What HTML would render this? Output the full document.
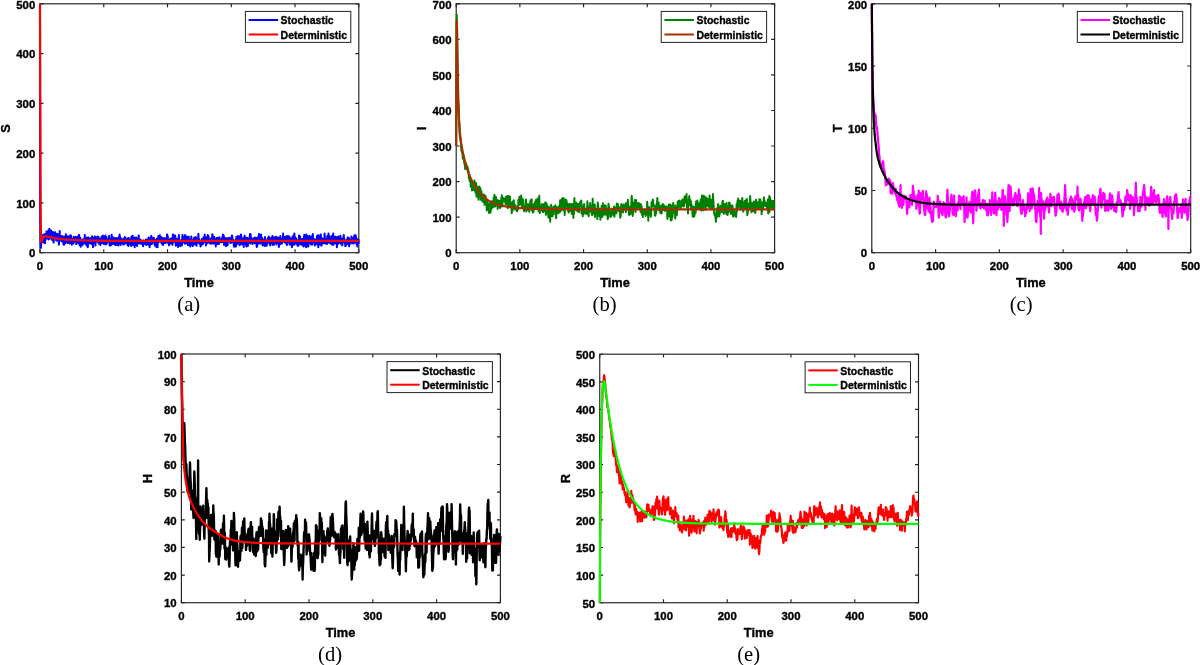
<!DOCTYPE html><html><head><meta charset="utf-8"><title>figure</title><style>html,body{margin:0;padding:0;background:#fff}svg{display:block}text{font-family:"Liberation Sans",sans-serif;fill:#000}.b{font-weight:bold;stroke:#000;stroke-width:0.35px;stroke-linejoin:round}.cap{font-family:"Liberation Serif",serif;font-weight:normal}</style></head><body><svg width="1200" height="665" viewBox="0 0 1200 665"><g style="mix-blend-mode:multiply"><rect x="0" y="0" width="1200" height="665" fill="#ffffff"/><g><rect x="40.00" y="3.80" width="318.80" height="248.90" fill="none" stroke="#222222" stroke-width="1.15"/><text class="b" x="40.00" y="269.90" font-size="11.4" text-anchor="middle">0</text><text class="b" x="103.76" y="269.90" font-size="11.4" text-anchor="middle">100</text><text class="b" x="167.52" y="269.90" font-size="11.4" text-anchor="middle">200</text><text class="b" x="231.28" y="269.90" font-size="11.4" text-anchor="middle">300</text><text class="b" x="295.04" y="269.90" font-size="11.4" text-anchor="middle">400</text><text class="b" x="358.80" y="269.90" font-size="11.4" text-anchor="middle">500</text><text class="b" x="35.30" y="257.45" font-size="11.4" text-anchor="end">0</text><text class="b" x="35.30" y="207.67" font-size="11.4" text-anchor="end">100</text><text class="b" x="35.30" y="157.89" font-size="11.4" text-anchor="end">200</text><text class="b" x="35.30" y="108.11" font-size="11.4" text-anchor="end">300</text><text class="b" x="35.30" y="58.33" font-size="11.4" text-anchor="end">400</text><text class="b" x="35.30" y="8.55" font-size="11.4" text-anchor="end">500</text><path d="M40.00 252.70v-3.40M40.00 3.80v3.40M103.76 252.70v-3.40M103.76 3.80v3.40M167.52 252.70v-3.40M167.52 3.80v3.40M231.28 252.70v-3.40M231.28 3.80v3.40M295.04 252.70v-3.40M295.04 3.80v3.40M358.80 252.70v-3.40M358.80 3.80v3.40M40.00 252.70h3.40M358.80 252.70h-3.40M40.00 202.92h3.40M358.80 202.92h-3.40M40.00 153.14h3.40M358.80 153.14h-3.40M40.00 103.36h3.40M358.80 103.36h-3.40M40.00 53.58h3.40M358.80 53.58h-3.40M40.00 3.80h3.40M358.80 3.80h-3.40" stroke="#222222" stroke-width="1.15" fill="none"/><path d="M40.0 3.8L40.2 153.1L40.4 222.8L40.6 242.7L40.8 247.2L41.0 247.7L41.1 245.7L41.3 237.7L41.5 241.7L41.7 242.3L41.9 238.9L42.1 238.0L42.3 238.0L42.5 240.6L42.7 237.9L42.9 234.8L43.1 240.5L43.3 238.3L43.4 242.6L43.6 241.1L43.8 242.5L44.0 237.1L44.2 239.6L44.4 234.7L44.6 234.2L44.8 235.2L45.0 243.2L45.2 237.7L45.4 235.2L45.5 234.2L45.7 239.7L45.9 236.9L46.1 238.2L46.3 237.8L46.5 231.4L46.7 236.8L46.9 235.0L47.1 231.7L47.3 236.1L47.5 235.2L47.7 234.3L47.8 234.4L48.0 238.8L48.2 235.1L48.4 230.3L48.6 239.5L48.8 232.7L49.0 234.3L49.2 237.1L49.4 228.7L49.6 231.6L49.8 238.8L49.9 235.6L50.1 233.5L50.3 235.8L50.5 233.3L50.7 235.5L50.9 233.4L51.1 230.6L51.3 237.3L51.5 235.4L51.7 237.4L51.9 235.8L52.1 239.9L52.2 238.6L52.4 237.1L52.6 233.4L52.8 232.1L53.0 240.0L53.2 239.5L53.4 234.8L53.6 242.6L53.8 238.9L54.0 237.2L54.2 232.7L54.3 233.8L54.5 237.3L54.7 238.0L54.9 237.8L55.1 232.2L55.3 237.5L55.5 238.0L55.7 236.0L55.9 237.3L56.1 237.7L56.3 240.7L56.5 237.7L56.6 238.7L56.8 233.8L57.0 234.8L57.2 237.0L57.4 235.3L57.6 238.2L57.8 234.3L58.0 237.1L58.2 235.7L58.4 241.3L58.6 237.1L58.7 242.8L58.9 244.7L59.1 239.7L59.3 240.8L59.5 237.8L59.7 231.1L59.9 239.4L60.1 240.0L60.3 237.7L60.5 236.5L60.7 238.3L60.8 238.7L61.0 236.1L61.2 236.3L61.4 241.0L61.6 238.9L61.8 238.2L62.0 241.4L62.2 238.0L62.4 240.8L62.6 235.9L62.8 237.5L63.0 238.0L63.1 240.1L63.3 239.1L63.5 244.5L63.7 242.8L63.9 238.2L64.1 244.8L64.3 237.1L64.5 243.5L64.7 237.2L64.9 241.0L65.1 236.8L65.2 238.1L65.4 243.2L65.6 235.9L65.8 234.3L66.0 238.4L66.2 239.6L66.4 239.5L66.6 241.9L66.8 236.3L67.0 240.2L67.2 239.4L67.4 241.4L67.5 241.2L67.7 243.1L67.9 236.2L68.1 239.2L68.3 236.5L68.5 238.8L68.7 241.2L68.9 240.5L69.1 241.1L69.3 239.6L69.5 240.4L69.6 240.4L69.8 243.4L70.0 242.3L70.2 235.2L70.4 240.7L70.6 242.6L70.8 239.0L71.0 235.5L71.2 243.0L71.4 240.7L71.6 241.5L71.8 244.8L71.9 238.4L72.1 239.5L72.3 239.4L72.5 241.7L72.7 238.8L72.9 241.1L73.1 240.3L73.3 242.9L73.5 243.6L73.7 236.7L73.9 240.8L74.0 239.2L74.2 239.9L74.4 241.1L74.6 241.5L74.8 238.4L75.0 240.5L75.2 240.5L75.4 240.0L75.6 236.8L75.8 237.7L76.0 238.6L76.2 241.4L76.3 244.1L76.5 238.1L76.7 237.2L76.9 240.1L77.1 238.7L77.3 237.8L77.5 237.6L77.7 237.3L77.9 241.0L78.1 236.2L78.3 243.0L78.4 238.3L78.6 238.6L78.8 237.7L79.0 234.8L79.2 235.4L79.4 242.7L79.6 245.2L79.8 238.8L80.0 242.8L80.2 240.7L80.4 238.1L80.6 244.4L80.7 246.7L80.9 240.6L81.1 240.3L81.3 241.0L81.5 240.4L81.7 242.7L81.9 244.8L82.1 241.5L82.3 243.2L82.5 245.2L82.7 239.8L82.8 240.5L83.0 239.3L83.2 242.9L83.4 242.6L83.6 243.4L83.8 243.3L84.0 240.3L84.2 242.5L84.4 239.8L84.6 239.4L84.8 234.9L85.0 243.3L85.1 238.5L85.3 240.4L85.5 240.5L85.7 244.4L85.9 242.3L86.1 238.8L86.3 240.5L86.5 240.3L86.7 241.2L86.9 237.5L87.1 240.1L87.2 246.3L87.4 243.2L87.6 246.2L87.8 247.2L88.0 243.4L88.2 237.4L88.4 239.9L88.6 243.6L88.8 243.5L89.0 238.0L89.2 239.8L89.4 240.3L89.5 240.7L89.7 240.5L89.9 238.4L90.1 238.8L90.3 239.7L90.5 243.2L90.7 239.6L90.9 242.3L91.1 238.0L91.3 243.6L91.5 241.4L91.6 240.8L91.8 244.1L92.0 236.6L92.2 236.2L92.4 241.2L92.6 238.7L92.8 239.3L93.0 247.3L93.2 241.0L93.4 240.9L93.6 240.5L93.7 243.5L93.9 241.8L94.1 241.3L94.3 237.6L94.5 239.3L94.7 240.5L94.9 236.6L95.1 241.5L95.3 241.8L95.5 245.6L95.7 237.3L95.9 237.7L96.0 237.8L96.2 238.5L96.4 240.1L96.6 240.0L96.8 241.3L97.0 241.3L97.2 240.7L97.4 236.7L97.6 238.7L97.8 240.6L98.0 242.2L98.1 242.6L98.3 236.8L98.5 238.8L98.7 240.3L98.9 241.6L99.1 243.8L99.3 241.4L99.5 238.5L99.7 241.4L99.9 241.4L100.1 241.4L100.3 240.6L100.4 244.9L100.6 242.0L100.8 243.2L101.0 238.8L101.2 242.5L101.4 239.5L101.6 236.6L101.8 240.9L102.0 242.3L102.2 240.5L102.4 240.7L102.5 243.3L102.7 239.9L102.9 235.4L103.1 240.6L103.3 241.3L103.5 243.6L103.7 240.3L103.9 243.9L104.1 244.1L104.3 237.9L104.5 242.7L104.7 238.2L104.8 236.4L105.0 239.4L105.2 239.1L105.4 235.4L105.6 240.5L105.8 242.3L106.0 244.5L106.2 241.2L106.4 237.0L106.6 237.7L106.8 242.7L106.9 243.3L107.1 242.4L107.3 240.2L107.5 241.2L107.7 240.3L107.9 239.9L108.1 241.4L108.3 241.0L108.5 240.2L108.7 240.9L108.9 239.5L109.1 235.7L109.2 238.4L109.4 240.3L109.6 245.1L109.8 240.4L110.0 245.8L110.2 245.2L110.4 239.2L110.6 238.7L110.8 240.8L111.0 245.2L111.2 242.4L111.3 242.8L111.5 239.4L111.7 234.7L111.9 239.3L112.1 242.6L112.3 244.1L112.5 241.4L112.7 241.3L112.9 243.8L113.1 240.9L113.3 243.8L113.5 238.3L113.6 237.6L113.8 237.5L114.0 241.5L114.2 239.5L114.4 240.9L114.6 241.8L114.8 241.8L115.0 244.3L115.2 245.1L115.4 239.3L115.6 241.0L115.7 240.2L115.9 238.1L116.1 244.9L116.3 243.4L116.5 240.7L116.7 239.7L116.9 241.6L117.1 238.2L117.3 239.8L117.5 243.8L117.7 243.6L117.9 239.1L118.0 239.3L118.2 245.5L118.4 237.9L118.6 238.8L118.8 237.0L119.0 241.2L119.2 241.6L119.4 243.8L119.6 234.6L119.8 240.3L120.0 236.5L120.1 241.8L120.3 240.5L120.5 245.1L120.7 242.4L120.9 238.4L121.1 243.7L121.3 238.4L121.5 239.5L121.7 243.3L121.9 242.4L122.1 242.2L122.3 241.1L122.4 242.2L122.6 243.1L122.8 241.9L123.0 243.6L123.2 244.5L123.4 241.4L123.6 238.6L123.8 244.4L124.0 241.3L124.2 242.5L124.4 243.6L124.5 238.9L124.7 241.8L124.9 237.0L125.1 242.2L125.3 240.0L125.5 241.2L125.7 242.8L125.9 239.5L126.1 241.0L126.3 239.2L126.5 240.6L126.6 243.6L126.8 241.4L127.0 240.7L127.2 238.2L127.4 242.7L127.6 241.2L127.8 245.3L128.0 239.7L128.2 243.4L128.4 245.9L128.6 241.7L128.8 238.0L128.9 244.3L129.1 244.1L129.3 243.2L129.5 244.1L129.7 240.3L129.9 242.8L130.1 242.9L130.3 239.6L130.5 242.5L130.7 239.9L130.9 243.2L131.0 244.3L131.2 246.1L131.4 236.7L131.6 241.0L131.8 240.2L132.0 240.7L132.2 240.3L132.4 240.6L132.6 235.7L132.8 242.7L133.0 245.1L133.2 244.0L133.3 244.7L133.5 239.4L133.7 238.4L133.9 242.9L134.1 244.7L134.3 242.3L134.5 237.4L134.7 247.3L134.9 240.4L135.1 243.5L135.3 238.5L135.4 243.2L135.6 241.9L135.8 244.8L136.0 243.9L136.2 237.6L136.4 238.1L136.6 241.4L136.8 243.1L137.0 246.0L137.2 242.6L137.4 241.1L137.6 241.0L137.7 241.0L137.9 243.7L138.1 241.4L138.3 240.9L138.5 237.4L138.7 235.4L138.9 240.3L139.1 242.7L139.3 241.2L139.5 242.4L139.7 242.9L139.8 241.2L140.0 243.5L140.2 239.6L140.4 240.8L140.6 240.1L140.8 241.1L141.0 242.7L141.2 243.5L141.4 241.8L141.6 242.3L141.8 240.4L142.0 240.7L142.1 244.3L142.3 241.1L142.5 244.3L142.7 242.9L142.9 241.8L143.1 246.3L143.3 241.4L143.5 240.4L143.7 241.1L143.9 241.9L144.1 241.9L144.2 243.5L144.4 241.9L144.6 242.4L144.8 240.8L145.0 243.9L145.2 240.6L145.4 240.4L145.6 241.1L145.8 241.9L146.0 239.5L146.2 244.9L146.4 240.2L146.5 240.0L146.7 239.9L146.9 239.6L147.1 242.3L147.3 241.7L147.5 239.2L147.7 239.4L147.9 240.0L148.1 244.6L148.3 239.9L148.5 237.6L148.6 237.6L148.8 239.7L149.0 244.7L149.2 238.9L149.4 240.9L149.6 247.3L149.8 240.8L150.0 244.6L150.2 244.7L150.4 243.0L150.6 237.8L150.8 241.3L150.9 240.1L151.1 236.1L151.3 235.9L151.5 240.3L151.7 241.3L151.9 244.1L152.1 243.1L152.3 240.0L152.5 239.6L152.7 240.3L152.9 238.1L153.0 242.4L153.2 241.1L153.4 238.9L153.6 239.0L153.8 237.7L154.0 239.3L154.2 241.3L154.4 239.9L154.6 243.2L154.8 245.4L155.0 239.9L155.2 240.8L155.3 240.0L155.5 245.1L155.7 242.4L155.9 242.6L156.1 243.3L156.3 247.0L156.5 242.6L156.7 238.7L156.9 239.4L157.1 242.1L157.3 241.0L157.4 238.8L157.6 247.3L157.8 242.1L158.0 239.5L158.2 238.8L158.4 236.0L158.6 237.1L158.8 239.4L159.0 239.8L159.2 238.6L159.4 241.8L159.6 241.0L159.7 238.4L159.9 235.3L160.1 240.4L160.3 240.8L160.5 240.2L160.7 237.2L160.9 240.3L161.1 236.9L161.3 242.7L161.5 241.5L161.7 241.4L161.8 238.8L162.0 237.7L162.2 244.2L162.4 243.7L162.6 240.3L162.8 242.4L163.0 245.0L163.2 238.7L163.4 239.2L163.6 239.2L163.8 241.8L163.9 238.2L164.1 241.0L164.3 237.9L164.5 242.7L164.7 243.3L164.9 240.6L165.1 242.6L165.3 239.3L165.5 239.9L165.7 243.0L165.9 240.9L166.1 241.7L166.2 238.5L166.4 242.1L166.6 242.1L166.8 237.8L167.0 234.5L167.2 234.6L167.4 239.7L167.6 240.0L167.8 236.6L168.0 240.5L168.2 243.3L168.3 240.8L168.5 239.6L168.7 242.7L168.9 245.3L169.1 245.2L169.3 239.7L169.5 242.6L169.7 241.4L169.9 240.3L170.1 239.1L170.3 241.4L170.5 239.5L170.6 242.9L170.8 242.0L171.0 243.6L171.2 238.2L171.4 240.4L171.6 242.6L171.8 242.0L172.0 241.5L172.2 239.0L172.4 244.7L172.6 244.0L172.7 242.2L172.9 234.4L173.1 237.3L173.3 240.5L173.5 238.9L173.7 235.1L173.9 240.5L174.1 241.7L174.3 237.7L174.5 239.0L174.7 238.7L174.9 241.8L175.0 235.9L175.2 235.6L175.4 238.5L175.6 238.6L175.8 245.7L176.0 239.8L176.2 241.1L176.4 239.7L176.6 238.8L176.8 241.4L177.0 245.3L177.1 240.5L177.3 242.6L177.5 241.9L177.7 242.5L177.9 241.9L178.1 247.0L178.3 238.5L178.5 239.8L178.7 237.7L178.9 235.1L179.1 239.9L179.3 245.3L179.4 243.8L179.6 244.4L179.8 242.6L180.0 240.8L180.2 246.0L180.4 240.6L180.6 244.7L180.8 240.6L181.0 241.0L181.2 241.6L181.4 241.1L181.5 242.2L181.7 242.6L181.9 245.4L182.1 241.5L182.3 236.1L182.5 234.9L182.7 236.4L182.9 238.3L183.1 242.1L183.3 237.2L183.5 240.4L183.7 240.9L183.8 241.5L184.0 240.6L184.2 241.9L184.4 241.1L184.6 243.6L184.8 242.2L185.0 235.0L185.2 240.1L185.4 241.3L185.6 239.4L185.8 238.7L185.9 243.4L186.1 241.7L186.3 238.5L186.5 239.7L186.7 240.3L186.9 236.6L187.1 241.9L187.3 240.7L187.5 242.1L187.7 237.1L187.9 245.3L188.1 243.2L188.2 242.5L188.4 239.3L188.6 239.0L188.8 236.8L189.0 244.3L189.2 239.3L189.4 241.3L189.6 242.6L189.8 239.6L190.0 243.0L190.2 246.5L190.3 242.6L190.5 244.9L190.7 243.1L190.9 240.1L191.1 239.8L191.3 236.5L191.5 240.6L191.7 244.7L191.9 243.3L192.1 243.5L192.3 244.3L192.5 240.2L192.6 242.3L192.8 246.1L193.0 239.7L193.2 240.9L193.4 239.8L193.6 240.3L193.8 239.0L194.0 240.4L194.2 237.5L194.4 239.2L194.6 239.5L194.7 239.5L194.9 244.4L195.1 241.7L195.3 241.6L195.5 240.3L195.7 244.2L195.9 237.0L196.1 239.9L196.3 243.8L196.5 245.7L196.7 242.2L196.8 241.2L197.0 242.7L197.2 240.8L197.4 242.4L197.6 239.6L197.8 242.5L198.0 241.1L198.2 238.3L198.4 233.7L198.6 242.3L198.8 242.2L199.0 243.2L199.1 239.1L199.3 243.5L199.5 242.4L199.7 241.1L199.9 243.4L200.1 243.6L200.3 242.4L200.5 246.5L200.7 245.4L200.9 242.5L201.1 240.6L201.2 241.2L201.4 245.5L201.6 242.7L201.8 239.0L202.0 239.0L202.2 240.7L202.4 243.1L202.6 239.5L202.8 242.1L203.0 244.0L203.2 243.3L203.4 237.4L203.5 239.7L203.7 237.6L203.9 241.5L204.1 238.4L204.3 242.0L204.5 241.3L204.7 234.4L204.9 237.8L205.1 241.6L205.3 241.1L205.5 240.0L205.6 237.5L205.8 241.5L206.0 245.4L206.2 242.2L206.4 240.9L206.6 240.5L206.8 237.3L207.0 239.4L207.2 238.4L207.4 243.3L207.6 238.9L207.8 235.0L207.9 237.9L208.1 239.7L208.3 240.2L208.5 236.0L208.7 242.5L208.9 241.3L209.1 239.6L209.3 238.6L209.5 241.6L209.7 240.1L209.9 241.4L210.0 240.5L210.2 241.1L210.4 243.8L210.6 241.3L210.8 238.5L211.0 242.9L211.2 241.7L211.4 239.2L211.6 243.3L211.8 240.7L212.0 243.5L212.2 238.2L212.3 234.3L212.5 234.5L212.7 240.4L212.9 238.8L213.1 240.1L213.3 240.4L213.5 236.7L213.7 243.6L213.9 238.4L214.1 240.5L214.3 237.0L214.4 239.7L214.6 242.4L214.8 240.3L215.0 238.8L215.2 240.4L215.4 239.4L215.6 241.9L215.8 246.5L216.0 239.3L216.2 238.7L216.4 240.1L216.6 240.5L216.7 238.0L216.9 241.5L217.1 242.7L217.3 241.5L217.5 237.8L217.7 243.9L217.9 238.1L218.1 242.0L218.3 243.8L218.5 237.9L218.7 240.6L218.8 244.1L219.0 242.2L219.2 238.5L219.4 237.3L219.6 241.4L219.8 239.8L220.0 238.7L220.2 242.1L220.4 240.0L220.6 240.7L220.8 242.1L221.0 242.2L221.1 240.8L221.3 240.7L221.5 242.2L221.7 242.1L221.9 238.0L222.1 239.8L222.3 238.3L222.5 237.2L222.7 238.7L222.9 234.5L223.1 242.0L223.2 238.8L223.4 241.3L223.6 236.0L223.8 235.6L224.0 245.1L224.2 243.9L224.4 239.5L224.6 238.5L224.8 238.5L225.0 240.6L225.2 239.5L225.4 238.9L225.5 240.7L225.7 238.1L225.9 246.2L226.1 239.9L226.3 243.3L226.5 238.6L226.7 241.0L226.9 243.1L227.1 240.1L227.3 243.0L227.5 243.5L227.6 245.2L227.8 241.5L228.0 239.6L228.2 237.9L228.4 240.7L228.6 238.0L228.8 240.3L229.0 240.9L229.2 239.3L229.4 237.8L229.6 241.2L229.7 241.5L229.9 241.3L230.1 240.6L230.3 243.1L230.5 238.4L230.7 241.4L230.9 239.7L231.1 242.7L231.3 240.1L231.5 239.6L231.7 241.7L231.9 235.6L232.0 239.0L232.2 235.9L232.4 237.5L232.6 242.0L232.8 241.9L233.0 239.8L233.2 240.4L233.4 240.6L233.6 241.5L233.8 245.6L234.0 242.1L234.1 246.7L234.3 240.7L234.5 242.6L234.7 242.9L234.9 241.6L235.1 240.2L235.3 244.4L235.5 245.9L235.7 244.3L235.9 246.6L236.1 244.2L236.3 237.1L236.4 243.0L236.6 239.4L236.8 244.1L237.0 240.5L237.2 241.5L237.4 241.0L237.6 239.3L237.8 236.0L238.0 239.5L238.2 240.2L238.4 243.2L238.5 239.6L238.7 241.2L238.9 238.7L239.1 240.6L239.3 236.2L239.5 245.2L239.7 242.2L239.9 238.7L240.1 241.4L240.3 242.9L240.5 241.8L240.7 244.5L240.8 241.0L241.0 234.4L241.2 236.8L241.4 243.1L241.6 243.4L241.8 242.2L242.0 238.4L242.2 242.5L242.4 242.8L242.6 238.8L242.8 238.2L242.9 241.3L243.1 243.8L243.3 245.2L243.5 243.3L243.7 246.9L243.9 239.7L244.1 242.2L244.3 239.7L244.5 235.7L244.7 236.9L244.9 243.2L245.1 238.8L245.2 237.4L245.4 242.2L245.6 243.5L245.8 241.4L246.0 245.0L246.2 237.6L246.4 246.5L246.6 244.5L246.8 242.0L247.0 241.5L247.2 240.4L247.3 240.0L247.5 241.2L247.7 237.9L247.9 245.9L248.1 241.5L248.3 242.7L248.5 240.7L248.7 240.2L248.9 243.0L249.1 242.8L249.3 239.0L249.5 239.6L249.6 242.4L249.8 235.7L250.0 234.0L250.2 243.5L250.4 240.4L250.6 234.2L250.8 237.7L251.0 239.7L251.2 241.1L251.4 242.2L251.6 241.5L251.7 242.3L251.9 239.0L252.1 241.5L252.3 242.0L252.5 244.1L252.7 241.4L252.9 243.2L253.1 241.6L253.3 238.2L253.5 239.4L253.7 239.2L253.9 239.6L254.0 240.4L254.2 241.0L254.4 241.6L254.6 238.9L254.8 243.3L255.0 237.6L255.2 240.2L255.4 242.6L255.6 242.3L255.8 242.8L256.0 240.6L256.1 242.6L256.3 238.1L256.5 242.4L256.7 246.9L256.9 243.6L257.1 246.4L257.3 241.7L257.5 238.1L257.7 238.7L257.9 243.9L258.1 243.2L258.3 236.5L258.4 239.3L258.6 240.5L258.8 238.0L259.0 233.9L259.2 236.3L259.4 239.7L259.6 239.7L259.8 239.0L260.0 242.1L260.2 243.7L260.4 241.1L260.5 243.3L260.7 241.3L260.9 240.6L261.1 234.6L261.3 242.1L261.5 241.3L261.7 241.3L261.9 239.7L262.1 237.9L262.3 241.6L262.5 243.0L262.6 245.4L262.8 243.9L263.0 239.8L263.2 240.5L263.4 243.4L263.6 242.1L263.8 240.9L264.0 239.5L264.2 242.1L264.4 241.6L264.6 245.6L264.8 244.5L264.9 237.1L265.1 245.9L265.3 242.4L265.5 240.4L265.7 241.7L265.9 243.0L266.1 241.2L266.3 240.8L266.5 241.0L266.7 245.7L266.9 241.9L267.0 243.2L267.2 242.5L267.4 240.4L267.6 239.0L267.8 238.2L268.0 241.7L268.2 238.5L268.4 237.3L268.6 237.3L268.8 236.6L269.0 240.5L269.2 241.2L269.3 238.7L269.5 244.0L269.7 240.7L269.9 242.1L270.1 241.9L270.3 245.5L270.5 243.8L270.7 241.3L270.9 238.5L271.1 237.8L271.3 240.5L271.4 241.2L271.6 243.0L271.8 240.0L272.0 241.3L272.2 239.3L272.4 236.0L272.6 240.1L272.8 244.6L273.0 243.6L273.2 245.0L273.4 244.5L273.6 237.9L273.7 239.7L273.9 244.6L274.1 239.6L274.3 237.3L274.5 241.2L274.7 242.6L274.9 241.9L275.1 240.2L275.3 239.0L275.5 237.4L275.7 237.1L275.8 237.1L276.0 236.7L276.2 238.4L276.4 244.4L276.6 241.6L276.8 240.1L277.0 241.6L277.2 238.5L277.4 241.4L277.6 243.3L277.8 237.4L278.0 238.5L278.1 239.8L278.3 238.2L278.5 237.6L278.7 239.4L278.9 247.0L279.1 243.4L279.3 242.3L279.5 243.6L279.7 240.7L279.9 237.6L280.1 241.5L280.2 243.8L280.4 235.9L280.6 241.2L280.8 244.0L281.0 240.6L281.2 239.6L281.4 242.4L281.6 238.9L281.8 241.8L282.0 243.3L282.2 240.7L282.4 238.7L282.5 242.1L282.7 240.1L282.9 240.9L283.1 233.6L283.3 241.5L283.5 237.3L283.7 240.4L283.9 241.0L284.1 238.9L284.3 238.1L284.5 237.1L284.6 239.3L284.8 242.1L285.0 242.4L285.2 239.7L285.4 239.1L285.6 236.9L285.8 239.1L286.0 237.7L286.2 236.3L286.4 239.7L286.6 244.5L286.8 244.4L286.9 245.0L287.1 237.2L287.3 242.4L287.5 237.8L287.7 238.8L287.9 236.0L288.1 237.4L288.3 240.5L288.5 241.2L288.7 240.6L288.9 240.3L289.0 242.1L289.2 241.0L289.4 236.6L289.6 244.6L289.8 240.7L290.0 243.1L290.2 240.6L290.4 238.5L290.6 240.6L290.8 238.7L291.0 244.6L291.2 238.4L291.3 242.0L291.5 239.3L291.7 240.1L291.9 247.3L292.1 243.7L292.3 240.6L292.5 236.7L292.7 239.4L292.9 239.9L293.1 244.3L293.3 237.6L293.4 235.6L293.6 239.9L293.8 241.2L294.0 245.0L294.2 239.1L294.4 233.6L294.6 237.8L294.8 237.0L295.0 238.8L295.2 243.0L295.4 237.6L295.6 243.5L295.7 241.7L295.9 240.2L296.1 238.4L296.3 239.3L296.5 239.5L296.7 242.6L296.9 244.4L297.1 241.1L297.3 242.7L297.5 244.5L297.7 244.6L297.8 242.6L298.0 245.9L298.2 245.0L298.4 245.7L298.6 241.0L298.8 239.7L299.0 235.4L299.2 243.9L299.4 243.0L299.6 238.7L299.8 241.0L299.9 241.6L300.1 236.4L300.3 241.0L300.5 243.8L300.7 244.6L300.9 240.5L301.1 239.9L301.3 244.2L301.5 243.8L301.7 239.8L301.9 239.1L302.1 242.2L302.2 239.3L302.4 239.0L302.6 245.1L302.8 242.2L303.0 239.9L303.2 242.1L303.4 246.5L303.6 242.4L303.8 239.0L304.0 236.4L304.2 245.8L304.3 234.7L304.5 242.8L304.7 238.6L304.9 237.2L305.1 237.7L305.3 239.9L305.5 243.7L305.7 239.6L305.9 242.4L306.1 247.3L306.3 234.4L306.5 238.0L306.6 235.6L306.8 242.4L307.0 237.2L307.2 236.1L307.4 236.0L307.6 240.1L307.8 243.8L308.0 241.7L308.2 246.6L308.4 246.1L308.6 241.3L308.7 243.4L308.9 241.6L309.1 241.2L309.3 235.8L309.5 236.6L309.7 240.3L309.9 237.5L310.1 242.3L310.3 241.9L310.5 238.5L310.7 243.7L310.9 241.9L311.0 244.4L311.2 241.0L311.4 236.5L311.6 242.1L311.8 240.4L312.0 243.0L312.2 244.1L312.4 244.5L312.6 237.5L312.8 234.1L313.0 238.5L313.1 242.3L313.3 239.1L313.5 241.4L313.7 238.8L313.9 239.7L314.1 239.9L314.3 239.0L314.5 242.0L314.7 242.0L314.9 245.4L315.1 242.6L315.3 244.7L315.4 241.7L315.6 243.4L315.8 240.9L316.0 239.6L316.2 244.3L316.4 243.4L316.6 243.6L316.8 239.2L317.0 236.1L317.2 237.8L317.4 241.2L317.5 237.0L317.7 244.1L317.9 237.3L318.1 242.0L318.3 247.3L318.5 235.0L318.7 235.8L318.9 242.7L319.1 240.6L319.3 241.3L319.5 240.6L319.7 244.6L319.8 243.1L320.0 239.9L320.2 240.0L320.4 237.5L320.6 240.1L320.8 234.5L321.0 241.7L321.2 240.2L321.4 245.7L321.6 244.8L321.8 237.9L321.9 242.8L322.1 239.7L322.3 240.8L322.5 243.5L322.7 242.1L322.9 242.3L323.1 242.3L323.3 239.0L323.5 238.8L323.7 242.0L323.9 243.3L324.1 240.4L324.2 241.0L324.4 238.1L324.6 233.6L324.8 237.5L325.0 240.3L325.2 241.1L325.4 243.0L325.6 243.5L325.8 243.8L326.0 242.2L326.2 242.1L326.3 239.0L326.5 241.5L326.7 241.4L326.9 244.0L327.1 237.0L327.3 238.9L327.5 235.8L327.7 237.9L327.9 236.4L328.1 240.8L328.3 238.9L328.5 233.6L328.6 242.8L328.8 238.0L329.0 235.9L329.2 238.9L329.4 238.5L329.6 237.1L329.8 241.9L330.0 239.8L330.2 242.9L330.4 242.9L330.6 242.7L330.7 241.4L330.9 240.5L331.1 239.5L331.3 244.3L331.5 236.0L331.7 237.0L331.9 238.2L332.1 241.3L332.3 241.1L332.5 239.3L332.7 239.4L332.8 245.0L333.0 239.4L333.2 233.6L333.4 244.5L333.6 238.7L333.8 239.5L334.0 240.9L334.2 237.1L334.4 243.4L334.6 240.7L334.8 236.8L335.0 240.7L335.1 241.9L335.3 240.6L335.5 241.9L335.7 236.8L335.9 242.6L336.1 238.7L336.3 243.8L336.5 239.4L336.7 240.8L336.9 247.3L337.1 241.8L337.2 243.8L337.4 242.4L337.6 236.9L337.8 243.2L338.0 244.0L338.2 237.4L338.4 239.9L338.6 236.5L338.8 239.2L339.0 242.9L339.2 241.3L339.4 237.5L339.5 237.7L339.7 240.3L339.9 240.6L340.1 241.0L340.3 242.3L340.5 235.8L340.7 240.0L340.9 243.7L341.1 242.5L341.3 239.1L341.5 238.8L341.6 240.8L341.8 242.6L342.0 241.0L342.2 245.3L342.4 244.9L342.6 239.2L342.8 241.8L343.0 239.9L343.2 237.4L343.4 238.5L343.6 240.4L343.8 235.0L343.9 238.1L344.1 241.3L344.3 238.9L344.5 239.4L344.7 242.8L344.9 240.9L345.1 241.2L345.3 246.1L345.5 242.0L345.7 241.7L345.9 242.1L346.0 245.4L346.2 242.4L346.4 241.1L346.6 240.5L346.8 243.8L347.0 239.5L347.2 243.8L347.4 241.8L347.6 237.4L347.8 242.1L348.0 242.3L348.2 238.1L348.3 241.4L348.5 241.6L348.7 240.3L348.9 237.9L349.1 246.2L349.3 243.8L349.5 243.9L349.7 244.1L349.9 243.5L350.1 243.4L350.3 240.3L350.4 243.1L350.6 240.8L350.8 239.7L351.0 242.5L351.2 240.7L351.4 236.4L351.6 239.2L351.8 242.2L352.0 241.1L352.2 243.3L352.4 240.4L352.6 238.4L352.7 242.6L352.9 241.6L353.1 237.9L353.3 241.7L353.5 240.4L353.7 243.4L353.9 243.3L354.1 242.5L354.3 235.3L354.5 241.0L354.7 242.2L354.8 242.4L355.0 241.4L355.2 239.1L355.4 240.0L355.6 235.3L355.8 239.4L356.0 236.8L356.2 239.4L356.4 239.0L356.6 244.3L356.8 241.6L357.0 241.1L357.1 241.4L357.3 246.5L357.5 239.3L357.7 241.5L357.9 242.0L358.1 241.6L358.3 241.5L358.5 239.8L358.7 243.9" fill="none" stroke="#0000ff" stroke-width="2" stroke-linejoin="round"/><path d="M40.0 3.8L40.0 17.3L40.1 30.6L40.1 43.6L40.1 56.2L40.2 68.5L40.2 80.5L40.2 92.1L40.3 103.4L40.3 114.5L40.3 125.8L40.4 136.9L40.4 147.6L40.4 157.8L40.4 167.2L40.5 175.7L40.5 183.0L40.5 189.5L40.6 195.7L40.6 201.6L40.6 207.0L40.7 211.9L40.7 216.2L40.7 219.9L40.8 222.8L40.8 225.3L40.8 227.6L40.9 229.6L40.9 231.5L40.9 233.1L41.0 234.5L41.0 235.8L41.0 236.8L41.1 237.7L41.1 238.6L41.1 239.4L41.1 240.2L41.2 240.8L41.2 241.3L41.2 241.6L41.3 241.7L41.3 241.7L41.3 241.7L41.4 241.7L41.4 241.7L41.4 241.7L41.5 241.7L41.5 241.6L41.5 241.6L41.6 241.6L41.6 241.6L41.6 241.5L41.7 241.5L41.7 241.5L41.7 241.4L41.8 241.3L41.8 241.3L41.8 241.2L41.8 241.1L41.9 241.0L41.9 240.9L41.9 240.7L42.0 240.6L42.0 240.5L42.0 240.4L42.1 240.3L42.1 240.1L42.1 240.0L42.2 239.9L42.2 239.8L42.2 239.8L42.3 239.7L42.3 239.6L42.3 239.5L42.4 239.4L42.4 239.4L42.4 239.3L42.5 239.2L42.5 239.1L42.5 239.0L42.6 239.0L42.6 238.9L42.6 238.8L42.6 238.7L42.7 238.7L42.7 238.6L42.7 238.5L42.8 238.5L42.8 238.4L42.8 238.3L42.9 238.3L42.9 238.2L42.9 238.2L43.0 238.1L43.0 238.0L43.0 238.0L43.1 237.9L43.1 237.9L43.1 237.8L43.2 237.8L43.2 237.8L43.2 237.7L43.3 237.7L43.3 237.7L43.3 237.6L43.3 237.6L43.4 237.5L43.4 237.5L43.4 237.5L43.5 237.4L43.5 237.4L43.5 237.4L43.6 237.3L43.6 237.3L43.6 237.2L43.7 237.2L43.7 237.2L43.7 237.1L43.8 237.1L43.8 237.1L43.8 237.0L43.9 237.0L43.9 237.0L43.9 236.9L44.0 236.9L44.0 236.9L44.0 236.8L44.0 236.8L44.1 236.8L44.1 236.8L44.1 236.7L44.2 236.7L44.2 236.7L44.2 236.7L44.3 236.6L44.3 236.6L44.3 236.6L44.4 236.6L44.4 236.5L44.4 236.5L44.5 236.5L44.5 236.5L44.5 236.5L44.6 236.4L44.6 236.4L44.6 236.4L44.7 236.4L44.7 236.4L44.7 236.4L44.8 236.3L44.8 236.3L44.8 236.3L44.8 236.3L44.9 236.3L44.9 236.3L44.9 236.3L45.0 236.3L45.0 236.3L45.0 236.3L45.1 236.3L45.1 236.3L45.1 236.3L45.2 236.3L45.2 236.3L45.2 236.3L45.3 236.3L45.3 236.3L45.3 236.3L45.4 236.3L45.4 236.3L45.4 236.3L45.5 236.3L45.5 236.3L45.5 236.3L45.5 236.3L45.6 236.3L45.6 236.3L45.6 236.3L45.7 236.3L45.7 236.3L45.7 236.3L45.8 236.3L45.8 236.3L45.8 236.3L45.9 236.3L45.9 236.3L45.9 236.3L46.0 236.3L46.0 236.3L46.0 236.3L46.1 236.3L46.1 236.4L46.1 236.4L46.2 236.4L46.2 236.4L46.2 236.4L46.2 236.4L46.3 236.4L46.3 236.4L46.3 236.4L46.4 236.4L46.4 236.4L46.4 236.4L46.5 236.4L46.5 236.4L46.5 236.4L46.6 236.4L46.6 236.4L46.6 236.4L46.7 236.4L46.7 236.4L46.7 236.5L46.8 236.5L46.8 236.5L46.8 236.5L46.9 236.5L46.9 236.5L46.9 236.5L46.9 236.5L47.0 236.5L47.0 236.5L47.0 236.5L47.1 236.5L47.1 236.5L47.1 236.5L47.2 236.5L47.2 236.5L47.2 236.5L47.3 236.6L47.3 236.6L47.3 236.6L47.4 236.6L47.4 236.6L47.4 236.6L47.5 236.6L47.5 236.6L47.5 236.6L47.6 236.6L47.6 236.6L47.6 236.6L47.7 236.6L47.7 236.6L47.7 236.6L47.7 236.6L47.8 236.6L47.8 236.6L47.8 236.7L47.9 236.7L47.9 236.7L47.9 236.7L48.0 236.7L48.0 236.7L48.0 236.7L48.1 236.7L48.1 236.7L48.1 236.7L48.2 236.7L48.2 236.7L48.2 236.7L48.3 236.7L48.3 236.7L48.3 236.7L48.4 236.8L48.4 236.8L48.4 236.8L48.4 236.8L48.5 236.8L48.5 236.8L48.5 236.8L48.6 236.8L48.6 236.8L48.6 236.8L48.7 236.8L48.7 236.8L48.7 236.8L48.8 236.8L48.8 236.8L48.8 236.9L48.9 236.9L48.9 236.9L48.9 236.9L49.0 236.9L49.0 236.9L49.0 236.9L49.1 236.9L49.1 236.9L49.1 236.9L49.1 236.9L49.2 236.9L49.2 236.9L49.2 236.9L49.3 237.0L49.3 237.0L49.3 237.0L49.4 237.0L49.4 237.0L49.4 237.0L49.5 237.0L49.5 237.0L49.5 237.0L49.6 237.0L49.9 237.1L50.2 237.2L50.5 237.3L50.8 237.3L51.2 237.4L51.5 237.5L51.8 237.6L52.1 237.6L52.4 237.7L52.8 237.8L53.1 237.8L53.4 237.9L53.7 237.9L54.0 238.0L54.3 238.0L54.7 238.1L55.0 238.2L55.3 238.2L55.6 238.3L55.9 238.3L56.3 238.4L56.6 238.4L56.9 238.5L57.2 238.5L57.5 238.5L57.9 238.6L58.2 238.6L58.5 238.7L58.8 238.7L59.1 238.8L59.4 238.8L59.8 238.8L60.1 238.9L60.4 238.9L60.7 239.0L61.0 239.0L61.4 239.0L61.7 239.1L62.0 239.1L62.3 239.2L62.6 239.2L63.0 239.2L63.3 239.3L63.6 239.3L63.9 239.3L64.2 239.4L64.5 239.4L64.9 239.4L65.2 239.5L65.5 239.5L65.8 239.5L66.1 239.6L66.5 239.6L66.8 239.6L67.1 239.6L67.4 239.7L67.7 239.7L68.1 239.7L68.4 239.7L68.7 239.8L69.0 239.8L69.3 239.8L69.6 239.8L70.0 239.8L70.3 239.9L70.6 239.9L70.9 239.9L71.2 239.9L71.6 239.9L71.9 239.9L72.2 240.0L72.5 240.0L72.8 240.0L73.2 240.0L73.5 240.0L73.8 240.1L74.1 240.1L74.4 240.1L74.7 240.1L75.1 240.1L75.4 240.1L75.7 240.1L76.0 240.2L76.3 240.2L76.7 240.2L77.0 240.2L77.3 240.2L77.6 240.2L77.9 240.2L78.3 240.3L78.6 240.3L78.9 240.3L79.2 240.3L79.5 240.3L79.8 240.3L80.2 240.3L80.5 240.3L80.8 240.3L81.1 240.4L81.4 240.4L81.8 240.4L82.1 240.4L82.4 240.4L82.7 240.4L83.0 240.4L83.4 240.4L83.7 240.4L84.0 240.4L84.3 240.4L84.6 240.5L85.0 240.5L85.3 240.5L85.6 240.5L85.9 240.5L86.2 240.5L86.5 240.5L86.9 240.5L87.2 240.5L87.5 240.5L87.8 240.5L88.1 240.5L88.5 240.5L88.8 240.5L89.1 240.6L89.4 240.6L89.7 240.6L90.1 240.6L90.4 240.6L90.7 240.6L91.0 240.6L91.3 240.6L91.6 240.6L92.0 240.6L92.3 240.6L92.6 240.6L92.9 240.6L93.2 240.6L93.6 240.6L93.9 240.7L94.2 240.7L94.5 240.7L94.8 240.7L95.2 240.7L95.5 240.7L95.8 240.7L96.1 240.7L96.4 240.7L96.7 240.7L97.1 240.7L97.4 240.7L97.7 240.7L98.0 240.7L98.3 240.7L98.7 240.7L99.0 240.7L99.3 240.7L99.6 240.7L99.9 240.7L100.3 240.7L100.6 240.7L100.9 240.7L101.2 240.7L101.5 240.7L101.8 240.7L102.2 240.7L102.5 240.8L102.8 240.8L103.1 240.8L103.4 240.8L103.8 240.8L104.1 240.8L104.4 240.8L104.7 240.8L105.0 240.8L105.4 240.8L105.7 240.8L106.0 240.8L106.3 240.8L106.6 240.8L106.9 240.8L107.3 240.8L107.6 240.8L107.9 240.8L108.2 240.8L108.5 240.8L108.9 240.8L109.2 240.8L109.5 240.8L109.8 240.8L110.1 240.8L110.5 240.8L110.8 240.8L111.1 240.8L111.4 240.8L111.7 240.8L112.0 240.8L112.4 240.8L112.7 240.8L113.0 240.8L113.3 240.8L113.6 240.8L114.0 240.8L114.3 240.8L114.6 240.8L114.9 240.8L115.2 240.8L115.6 240.8L115.9 240.8L116.2 240.8L116.5 240.8L116.8 240.8L117.1 240.8L117.5 240.8L117.8 240.8L118.1 240.8L118.4 240.8L118.7 240.8L119.1 240.8L119.4 240.8L119.7 240.8L120.0 240.8L120.3 240.8L120.7 240.8L121.0 240.8L121.3 240.8L121.6 240.8L121.9 240.8L122.3 240.8L122.6 240.8L122.9 240.8L123.2 240.8L123.5 240.8L123.8 240.8L124.2 240.8L124.5 240.8L124.8 240.8L125.1 240.8L125.4 240.8L125.8 240.8L126.1 240.8L126.4 240.8L126.7 240.8L127.0 240.8L127.4 240.8L127.7 240.8L128.0 240.8L128.3 240.8L128.6 240.8L128.9 240.8L129.3 240.8L129.6 240.8L129.9 240.8L130.2 240.8L130.5 240.8L130.9 240.8L131.2 240.8L131.5 240.8L131.8 240.8L132.1 240.8L132.5 240.8L132.8 240.8L133.1 240.8L133.4 240.8L133.7 240.8L134.0 240.8L134.4 240.8L134.7 240.8L135.0 240.8L135.3 240.8L135.6 240.8L136.0 240.8L136.3 240.8L136.6 240.8L136.9 240.8L137.2 240.8L137.6 240.8L137.9 240.8L138.2 240.8L138.5 240.8L138.8 240.8L139.1 240.8L139.5 240.8L139.8 240.8L140.1 240.8L140.4 240.8L140.7 240.8L141.1 240.8L141.4 240.8L141.7 240.8L142.0 240.8L142.3 240.8L142.7 240.8L143.0 240.8L143.3 240.8L143.6 240.8L143.9 240.8L144.2 240.8L144.6 240.8L144.9 240.8L145.2 240.8L145.5 240.8L145.8 240.8L146.2 240.8L146.5 240.8L146.8 240.8L147.1 240.8L147.4 240.8L147.8 240.8L148.1 240.8L148.4 240.8L148.7 240.8L149.0 240.8L149.3 240.8L149.7 240.8L150.0 240.8L150.3 240.8L150.6 240.8L150.9 240.8L151.3 240.8L151.6 240.8L151.9 240.8L152.2 240.8L152.5 240.8L152.9 240.8L153.2 240.8L153.5 240.8L153.8 240.8L154.1 240.8L154.4 240.8L154.8 240.8L155.1 240.8L155.4 240.8L155.7 240.8L156.0 240.8L156.4 240.8L156.7 240.8L157.0 240.8L157.3 240.8L157.6 240.8L158.0 240.8L158.3 240.8L158.6 240.8L158.9 240.8L159.2 240.8L159.6 240.8L159.9 240.8L160.2 240.8L160.5 240.8L160.8 240.8L161.1 240.8L161.5 240.8L161.8 240.8L162.1 240.8L162.4 240.8L162.7 240.8L163.1 240.8L163.4 240.8L163.7 240.8L164.0 240.8L164.3 240.8L164.7 240.8L165.0 240.8L165.3 240.8L165.6 240.8L165.9 240.8L166.2 240.8L166.6 240.8L166.9 240.8L167.2 240.8L167.5 240.8L167.8 240.8L168.2 240.8L168.5 240.8L168.8 240.8L169.1 240.8L169.4 240.8L169.8 240.8L170.1 240.8L170.4 240.8L170.7 240.8L171.0 240.8L171.3 240.8L171.7 240.8L172.0 240.8L172.3 240.8L172.6 240.8L172.9 240.8L173.3 240.8L173.6 240.8L173.9 240.8L174.2 240.8L174.5 240.8L174.9 240.8L175.2 240.8L175.5 240.8L175.8 240.8L176.1 240.8L176.4 240.8L176.8 240.8L177.1 240.8L177.4 240.8L177.7 240.8L178.0 240.8L178.4 240.8L178.7 240.8L179.0 240.8L179.3 240.8L179.6 240.8L180.0 240.8L180.3 240.8L180.6 240.8L180.9 240.8L181.2 240.8L181.5 240.8L181.9 240.8L182.2 240.8L182.5 240.8L182.8 240.8L183.1 240.8L183.5 240.8L183.8 240.8L184.1 240.8L184.4 240.8L184.7 240.8L185.1 240.8L185.4 240.8L185.7 240.8L186.0 240.8L186.3 240.8L186.6 240.8L187.0 240.8L187.3 240.8L187.6 240.8L187.9 240.8L188.2 240.8L188.6 240.8L188.9 240.8L189.2 240.8L189.5 240.8L189.8 240.8L190.2 240.8L190.5 240.8L190.8 240.8L191.1 240.8L191.4 240.8L191.7 240.8L192.1 240.8L192.4 240.8L192.7 240.8L193.0 240.8L193.3 240.8L193.7 240.8L194.0 240.8L194.3 240.8L194.6 240.8L194.9 240.8L195.3 240.8L195.6 240.8L195.9 240.8L196.2 240.8L196.5 240.8L196.8 240.8L197.2 240.8L197.5 240.8L197.8 240.8L198.1 240.8L198.4 240.8L198.8 240.8L199.1 240.8L199.4 240.8L199.7 240.8L200.0 240.8L200.4 240.8L200.7 240.8L201.0 240.8L201.3 240.8L201.6 240.8L202.0 240.8L202.3 240.8L202.6 240.8L202.9 240.8L203.2 240.8L203.5 240.8L203.9 240.8L204.2 240.8L204.5 240.8L204.8 240.8L205.1 240.8L205.5 240.8L205.8 240.8L206.1 240.8L206.4 240.8L206.7 240.8L207.1 240.8L207.4 240.8L207.7 240.8L208.0 240.8L208.3 240.8L208.6 240.8L209.0 240.8L209.3 240.8L209.6 240.8L209.9 240.8L210.2 240.8L210.6 240.8L210.9 240.8L211.2 240.8L211.5 240.8L211.8 240.8L212.2 240.8L212.5 240.8L212.8 240.8L213.1 240.8L213.4 240.8L213.7 240.8L214.1 240.8L214.4 240.8L214.7 240.8L215.0 240.8L215.3 240.8L215.7 240.8L216.0 240.8L216.3 240.8L216.6 240.8L216.9 240.8L217.3 240.8L217.6 240.8L217.9 240.8L218.2 240.8L218.5 240.8L218.8 240.8L219.2 240.8L219.5 240.8L219.8 240.8L220.1 240.8L220.4 240.8L220.8 240.8L221.1 240.8L221.4 240.8L221.7 240.8L222.0 240.8L222.4 240.8L222.7 240.8L223.0 240.8L223.3 240.8L223.6 240.8L223.9 240.8L224.3 240.8L224.6 240.8L224.9 240.8L225.2 240.8L225.5 240.8L225.9 240.8L226.2 240.8L226.5 240.8L226.8 240.8L227.1 240.8L227.5 240.8L227.8 240.8L228.1 240.8L228.4 240.8L228.7 240.8L229.0 240.8L229.4 240.8L229.7 240.8L230.0 240.8L230.3 240.8L230.6 240.8L231.0 240.8L231.3 240.8L231.6 240.8L231.9 240.8L232.2 240.8L232.6 240.8L232.9 240.8L233.2 240.8L233.5 240.8L233.8 240.8L234.1 240.8L234.5 240.8L234.8 240.8L235.1 240.8L235.4 240.8L235.7 240.8L236.1 240.8L236.4 240.8L236.7 240.8L237.0 240.8L237.3 240.8L237.7 240.8L238.0 240.8L238.3 240.8L238.6 240.8L238.9 240.8L239.3 240.8L239.6 240.8L239.9 240.8L240.2 240.8L240.5 240.8L240.8 240.8L241.2 240.8L241.5 240.8L241.8 240.8L242.1 240.8L242.4 240.8L242.8 240.8L243.1 240.8L243.4 240.8L243.7 240.8L244.0 240.8L244.4 240.8L244.7 240.8L245.0 240.8L245.3 240.8L245.6 240.8L245.9 240.8L246.3 240.8L246.6 240.8L246.9 240.8L247.2 240.8L247.5 240.8L247.9 240.8L248.2 240.8L248.5 240.8L248.8 240.8L249.1 240.8L249.5 240.8L249.8 240.8L250.1 240.8L250.4 240.8L250.7 240.8L251.0 240.8L251.4 240.8L251.7 240.8L252.0 240.8L252.3 240.8L252.6 240.8L253.0 240.8L253.3 240.8L253.6 240.8L253.9 240.8L254.2 240.8L254.6 240.8L254.9 240.8L255.2 240.8L255.5 240.8L255.8 240.8L256.1 240.8L256.5 240.8L256.8 240.8L257.1 240.8L257.4 240.8L257.7 240.8L258.1 240.8L258.4 240.8L258.7 240.8L259.0 240.8L259.3 240.8L259.7 240.8L260.0 240.8L260.3 240.8L260.6 240.8L260.9 240.8L261.2 240.8L261.6 240.8L261.9 240.8L262.2 240.8L262.5 240.8L262.8 240.8L263.2 240.8L263.5 240.8L263.8 240.8L264.1 240.8L264.4 240.8L264.8 240.8L265.1 240.8L265.4 240.8L265.7 240.8L266.0 240.8L266.3 240.8L266.7 240.8L267.0 240.8L267.3 240.8L267.6 240.8L267.9 240.8L268.3 240.8L268.6 240.8L268.9 240.8L269.2 240.8L269.5 240.8L269.9 240.8L270.2 240.8L270.5 240.8L270.8 240.8L271.1 240.8L271.4 240.8L271.8 240.8L272.1 240.8L272.4 240.8L272.7 240.8L273.0 240.8L273.4 240.8L273.7 240.8L274.0 240.8L274.3 240.8L274.6 240.8L275.0 240.8L275.3 240.8L275.6 240.8L275.9 240.8L276.2 240.8L276.5 240.8L276.9 240.8L277.2 240.8L277.5 240.8L277.8 240.8L278.1 240.8L278.5 240.8L278.8 240.8L279.1 240.8L279.4 240.8L279.7 240.8L280.1 240.8L280.4 240.8L280.7 240.8L281.0 240.8L281.3 240.8L281.7 240.8L282.0 240.8L282.3 240.8L282.6 240.8L282.9 240.8L283.2 240.8L283.6 240.8L283.9 240.8L284.2 240.8L284.5 240.8L284.8 240.8L285.2 240.8L285.5 240.8L285.8 240.8L286.1 240.8L286.4 240.8L286.8 240.8L287.1 240.8L287.4 240.8L287.7 240.8L288.0 240.8L288.3 240.8L288.7 240.8L289.0 240.8L289.3 240.8L289.6 240.8L289.9 240.8L290.3 240.8L290.6 240.8L290.9 240.8L291.2 240.8L291.5 240.8L291.9 240.8L292.2 240.8L292.5 240.8L292.8 240.8L293.1 240.8L293.4 240.8L293.8 240.8L294.1 240.8L294.4 240.8L294.7 240.8L295.0 240.8L295.4 240.8L295.7 240.8L296.0 240.8L296.3 240.8L296.6 240.8L297.0 240.8L297.3 240.8L297.6 240.8L297.9 240.8L298.2 240.8L298.5 240.8L298.9 240.8L299.2 240.8L299.5 240.8L299.8 240.8L300.1 240.8L300.5 240.8L300.8 240.8L301.1 240.8L301.4 240.8L301.7 240.8L302.1 240.8L302.4 240.8L302.7 240.8L303.0 240.8L303.3 240.8L303.6 240.8L304.0 240.8L304.3 240.8L304.6 240.8L304.9 240.8L305.2 240.8L305.6 240.8L305.9 240.8L306.2 240.8L306.5 240.8L306.8 240.8L307.2 240.8L307.5 240.8L307.8 240.8L308.1 240.8L308.4 240.8L308.7 240.8L309.1 240.8L309.4 240.8L309.7 240.8L310.0 240.8L310.3 240.8L310.7 240.8L311.0 240.8L311.3 240.8L311.6 240.8L311.9 240.8L312.3 240.8L312.6 240.8L312.9 240.8L313.2 240.8L313.5 240.8L313.8 240.8L314.2 240.8L314.5 240.8L314.8 240.8L315.1 240.8L315.4 240.8L315.8 240.8L316.1 240.8L316.4 240.8L316.7 240.8L317.0 240.8L317.4 240.8L317.7 240.8L318.0 240.8L318.3 240.8L318.6 240.8L319.0 240.8L319.3 240.8L319.6 240.8L319.9 240.8L320.2 240.8L320.5 240.8L320.9 240.8L321.2 240.8L321.5 240.8L321.8 240.8L322.1 240.8L322.5 240.8L322.8 240.8L323.1 240.8L323.4 240.8L323.7 240.8L324.1 240.8L324.4 240.8L324.7 240.8L325.0 240.8L325.3 240.8L325.6 240.8L326.0 240.8L326.3 240.8L326.6 240.8L326.9 240.8L327.2 240.8L327.6 240.8L327.9 240.8L328.2 240.8L328.5 240.8L328.8 240.8L329.2 240.8L329.5 240.8L329.8 240.8L330.1 240.8L330.4 240.8L330.7 240.8L331.1 240.8L331.4 240.8L331.7 240.8L332.0 240.8L332.3 240.8L332.7 240.8L333.0 240.8L333.3 240.8L333.6 240.8L333.9 240.8L334.3 240.8L334.6 240.8L334.9 240.8L335.2 240.8L335.5 240.8L335.8 240.8L336.2 240.8L336.5 240.8L336.8 240.8L337.1 240.8L337.4 240.8L337.8 240.8L338.1 240.8L338.4 240.8L338.7 240.8L339.0 240.8L339.4 240.8L339.7 240.8L340.0 240.8L340.3 240.8L340.6 240.8L340.9 240.8L341.3 240.8L341.6 240.8L341.9 240.8L342.2 240.8L342.5 240.8L342.9 240.8L343.2 240.8L343.5 240.8L343.8 240.8L344.1 240.8L344.5 240.8L344.8 240.8L345.1 240.8L345.4 240.8L345.7 240.8L346.0 240.8L346.4 240.8L346.7 240.8L347.0 240.8L347.3 240.8L347.6 240.8L348.0 240.8L348.3 240.8L348.6 240.8L348.9 240.8L349.2 240.8L349.6 240.8L349.9 240.8L350.2 240.8L350.5 240.8L350.8 240.8L351.1 240.8L351.5 240.8L351.8 240.8L352.1 240.8L352.4 240.8L352.7 240.8L353.1 240.8L353.4 240.8L353.7 240.8L354.0 240.8L354.3 240.8L354.7 240.8L355.0 240.8L355.3 240.8L355.6 240.8L355.9 240.8L356.2 240.8L356.6 240.8L356.9 240.8L357.2 240.8L357.5 240.8L357.8 240.8L358.2 240.8L358.5 240.8L358.8 240.8" fill="none" stroke="#ff0000" stroke-width="2.2" stroke-linejoin="round"/><text class="b" x="199.00" y="286.90" font-size="12.85" text-anchor="middle">Time</text><text class="b" transform="translate(10.20 128.45) rotate(-90)" font-size="12.85" text-anchor="middle">S</text><text class="cap" x="188.80" y="310.70" font-size="20.6" text-anchor="middle">(a)</text><rect x="245.40" y="11.40" width="105.40" height="31.00" fill="#fff" stroke="#222222" stroke-width="1"/><path d="M248.60 20.00h29.5" stroke="#0000ff" stroke-width="2"/><path d="M248.60 34.50h29.5" stroke="#ff0000" stroke-width="2"/><text class="b" x="280.60" y="24.40" font-size="10.5">Stochastic</text><text class="b" x="280.60" y="38.90" font-size="10.5">Deterministic</text></g><g><rect x="456.20" y="3.80" width="318.40" height="248.90" fill="none" stroke="#222222" stroke-width="1.15"/><text class="b" x="456.20" y="269.90" font-size="11.4" text-anchor="middle">0</text><text class="b" x="519.88" y="269.90" font-size="11.4" text-anchor="middle">100</text><text class="b" x="583.56" y="269.90" font-size="11.4" text-anchor="middle">200</text><text class="b" x="647.24" y="269.90" font-size="11.4" text-anchor="middle">300</text><text class="b" x="710.92" y="269.90" font-size="11.4" text-anchor="middle">400</text><text class="b" x="774.60" y="269.90" font-size="11.4" text-anchor="middle">500</text><text class="b" x="451.50" y="257.45" font-size="11.4" text-anchor="end">0</text><text class="b" x="451.50" y="221.89" font-size="11.4" text-anchor="end">100</text><text class="b" x="451.50" y="186.34" font-size="11.4" text-anchor="end">200</text><text class="b" x="451.50" y="150.78" font-size="11.4" text-anchor="end">300</text><text class="b" x="451.50" y="115.22" font-size="11.4" text-anchor="end">400</text><text class="b" x="451.50" y="79.66" font-size="11.4" text-anchor="end">500</text><text class="b" x="451.50" y="44.11" font-size="11.4" text-anchor="end">600</text><text class="b" x="451.50" y="8.55" font-size="11.4" text-anchor="end">700</text><path d="M456.20 252.70v-3.40M456.20 3.80v3.40M519.88 252.70v-3.40M519.88 3.80v3.40M583.56 252.70v-3.40M583.56 3.80v3.40M647.24 252.70v-3.40M647.24 3.80v3.40M710.92 252.70v-3.40M710.92 3.80v3.40M774.60 252.70v-3.40M774.60 3.80v3.40M456.20 252.70h3.40M774.60 252.70h-3.40M456.20 217.14h3.40M774.60 217.14h-3.40M456.20 181.59h3.40M774.60 181.59h-3.40M456.20 146.03h3.40M774.60 146.03h-3.40M456.20 110.47h3.40M774.60 110.47h-3.40M456.20 74.91h3.40M774.60 74.91h-3.40M456.20 39.36h3.40M774.60 39.36h-3.40M456.20 3.80h3.40M774.60 3.80h-3.40" stroke="#222222" stroke-width="1.15" fill="none"/><path d="M456.2 146.0L456.5 53.6L456.7 14.8L457.0 25.1L457.2 42.9L457.5 60.7L457.7 75.0L458.0 85.1L458.2 100.5L458.5 104.2L458.7 111.4L459.0 120.2L459.3 122.5L459.5 131.2L459.8 136.3L460.0 138.5L460.3 138.6L460.5 140.1L460.8 142.6L461.0 143.1L461.3 150.3L461.5 146.5L461.8 151.7L462.1 152.2L462.3 152.7L462.6 155.8L462.8 158.2L463.1 158.7L463.3 157.1L463.6 155.9L463.8 156.5L464.1 161.7L464.4 163.2L464.6 164.7L464.9 162.0L465.1 169.0L465.4 162.3L465.6 166.1L465.9 168.6L466.1 166.6L466.4 164.8L466.6 166.9L466.9 166.0L467.2 169.1L467.4 167.2L467.7 167.3L467.9 171.9L468.2 169.0L468.4 172.6L468.7 174.3L468.9 178.4L469.2 178.0L469.4 175.1L469.7 181.3L470.0 177.3L470.2 177.7L470.5 178.5L470.7 186.8L471.0 182.7L471.2 179.7L471.5 183.8L471.7 182.5L472.0 190.5L472.2 183.0L472.5 185.8L472.8 181.9L473.0 190.1L473.3 184.2L473.5 186.2L473.8 183.5L474.0 188.9L474.3 189.6L474.5 180.5L474.8 188.9L475.0 190.9L475.3 190.2L475.6 192.9L475.8 186.3L476.1 183.1L476.3 190.9L476.6 196.8L476.8 188.4L477.1 186.8L477.3 187.6L477.6 186.9L477.9 194.2L478.1 193.8L478.4 198.3L478.6 199.8L478.9 191.8L479.1 196.0L479.4 186.5L479.6 192.4L479.9 196.7L480.1 192.7L480.4 188.2L480.7 192.2L480.9 199.7L481.2 195.9L481.4 191.3L481.7 197.4L481.9 200.2L482.2 194.3L482.4 196.4L482.7 201.8L482.9 200.6L483.2 201.9L483.5 198.4L483.7 198.4L484.0 194.6L484.2 195.5L484.5 204.6L484.7 199.5L485.0 196.6L485.2 197.7L485.5 195.9L485.7 201.6L486.0 204.8L486.3 198.6L486.5 204.7L486.8 210.6L487.0 200.1L487.3 204.3L487.5 204.0L487.8 208.4L488.0 209.5L488.3 209.4L488.5 206.7L488.8 203.5L489.1 213.1L489.3 204.2L489.6 209.6L489.8 210.8L490.1 204.8L490.3 206.4L490.6 212.6L490.8 201.6L491.1 209.3L491.4 207.0L491.6 206.3L491.9 201.3L492.1 206.9L492.4 202.5L492.6 207.8L492.9 201.8L493.1 207.2L493.4 206.8L493.6 197.9L493.9 201.4L494.2 202.8L494.4 194.8L494.7 199.8L494.9 205.3L495.2 200.7L495.4 206.6L495.7 199.1L495.9 196.8L496.2 202.8L496.4 204.3L496.7 201.4L497.0 201.2L497.2 205.0L497.5 200.1L497.7 208.9L498.0 205.0L498.2 204.0L498.5 203.3L498.7 200.9L499.0 206.2L499.2 200.7L499.5 202.3L499.8 204.5L500.0 207.8L500.3 208.0L500.5 202.3L500.8 205.9L501.0 202.9L501.3 198.5L501.5 197.5L501.8 195.3L502.0 201.8L502.3 206.5L502.6 199.7L502.8 200.7L503.1 198.0L503.3 201.5L503.6 198.0L503.8 198.4L504.1 199.1L504.3 200.1L504.6 200.8L504.9 201.6L505.1 201.9L505.4 199.1L505.6 204.1L505.9 196.9L506.1 202.1L506.4 199.3L506.6 202.7L506.9 204.2L507.1 196.0L507.4 202.8L507.7 208.2L507.9 207.5L508.2 205.8L508.4 196.1L508.7 201.1L508.9 199.6L509.2 206.6L509.4 203.2L509.7 201.2L509.9 196.4L510.2 204.7L510.5 201.9L510.7 202.4L511.0 207.5L511.2 205.0L511.5 205.4L511.7 213.3L512.0 204.2L512.2 202.2L512.5 205.8L512.7 210.4L513.0 201.2L513.3 203.8L513.5 202.0L513.8 200.3L514.0 207.5L514.3 204.6L514.5 208.2L514.8 208.7L515.0 209.3L515.3 209.4L515.5 205.2L515.8 207.6L516.1 209.1L516.3 209.8L516.6 207.4L516.8 211.3L517.1 210.6L517.3 208.6L517.6 209.8L517.8 208.3L518.1 209.6L518.4 199.8L518.6 199.8L518.9 202.7L519.1 205.0L519.4 196.7L519.6 201.4L519.9 203.8L520.1 202.5L520.4 201.9L520.6 197.5L520.9 202.1L521.2 195.4L521.4 205.2L521.7 201.8L521.9 207.6L522.2 198.5L522.4 204.6L522.7 205.2L522.9 201.8L523.2 199.8L523.4 208.2L523.7 207.5L524.0 211.3L524.2 206.4L524.5 206.1L524.7 207.0L525.0 208.5L525.2 207.7L525.5 208.9L525.7 204.4L526.0 199.6L526.2 211.4L526.5 207.5L526.8 207.7L527.0 204.3L527.3 208.9L527.5 207.0L527.8 210.0L528.0 204.1L528.3 204.9L528.5 206.1L528.8 204.4L529.0 206.3L529.3 211.8L529.6 205.0L529.8 204.5L530.1 206.0L530.3 202.1L530.6 200.3L530.8 208.6L531.1 209.5L531.3 200.9L531.6 199.2L531.9 207.0L532.1 210.6L532.4 209.5L532.6 208.6L532.9 212.6L533.1 207.4L533.4 211.1L533.6 211.8L533.9 203.9L534.1 208.0L534.4 206.7L534.7 203.7L534.9 202.3L535.2 206.3L535.4 205.9L535.7 209.1L535.9 200.1L536.2 202.0L536.4 209.2L536.7 206.8L536.9 203.5L537.2 203.5L537.5 198.5L537.7 198.9L538.0 206.3L538.2 206.4L538.5 211.0L538.7 206.3L539.0 205.5L539.2 195.7L539.5 203.1L539.7 213.2L540.0 210.4L540.3 206.7L540.5 211.0L540.8 210.6L541.0 208.6L541.3 205.4L541.5 206.6L541.8 209.6L542.0 204.0L542.3 207.6L542.6 208.4L542.8 211.9L543.1 210.6L543.3 204.8L543.6 211.9L543.8 207.9L544.1 203.9L544.3 207.0L544.6 205.5L544.8 210.5L545.1 203.1L545.4 202.4L545.6 206.0L545.9 214.8L546.1 214.8L546.4 207.6L546.6 203.4L546.9 208.1L547.1 206.2L547.4 212.9L547.6 212.9L547.9 212.2L548.2 210.4L548.4 217.4L548.7 209.8L548.9 206.5L549.2 215.0L549.4 218.0L549.7 212.3L549.9 214.7L550.2 221.8L550.4 211.5L550.7 211.5L551.0 213.8L551.2 204.7L551.5 209.8L551.7 214.5L552.0 212.5L552.2 216.3L552.5 216.2L552.7 211.9L553.0 214.4L553.2 214.6L553.5 206.7L553.8 207.8L554.0 208.3L554.3 209.5L554.5 209.9L554.8 206.4L555.0 211.1L555.3 205.2L555.5 214.4L555.8 214.0L556.1 218.2L556.3 215.4L556.6 211.4L556.8 206.9L557.1 212.8L557.3 211.1L557.6 211.3L557.8 212.1L558.1 213.3L558.3 208.1L558.6 212.9L558.9 206.9L559.1 205.9L559.4 208.2L559.6 210.2L559.9 212.1L560.1 200.3L560.4 209.5L560.6 200.9L560.9 202.3L561.1 206.4L561.4 210.4L561.7 203.1L561.9 198.7L562.2 207.7L562.4 207.6L562.7 202.5L562.9 203.9L563.2 198.0L563.4 206.3L563.7 204.1L563.9 210.4L564.2 199.3L564.5 207.3L564.7 214.9L565.0 208.9L565.2 207.5L565.5 199.4L565.7 205.9L566.0 206.5L566.2 204.5L566.5 200.3L566.7 205.7L567.0 203.0L567.3 204.4L567.5 208.0L567.8 207.6L568.0 207.8L568.3 211.6L568.5 204.4L568.8 212.5L569.0 204.8L569.3 203.7L569.6 207.4L569.8 210.9L570.1 209.7L570.3 206.8L570.6 205.0L570.8 206.3L571.1 203.9L571.3 209.2L571.6 207.5L571.8 214.0L572.1 206.7L572.4 207.2L572.6 209.5L572.9 204.1L573.1 204.5L573.4 217.9L573.6 210.5L573.9 214.3L574.1 205.7L574.4 198.1L574.6 207.6L574.9 207.8L575.2 209.0L575.4 207.1L575.7 205.5L575.9 202.6L576.2 210.5L576.4 202.8L576.7 210.4L576.9 207.7L577.2 203.7L577.4 204.4L577.7 210.8L578.0 211.5L578.2 210.8L578.5 209.0L578.7 204.1L579.0 212.1L579.2 207.4L579.5 205.7L579.7 205.5L580.0 205.7L580.2 201.8L580.5 204.8L580.8 204.1L581.0 205.0L581.3 200.6L581.5 213.5L581.8 204.7L582.0 208.3L582.3 209.3L582.5 212.1L582.8 216.3L583.1 211.7L583.3 211.7L583.6 207.2L583.8 213.5L584.1 204.1L584.3 206.2L584.6 208.6L584.8 211.0L585.1 211.9L585.3 213.4L585.6 211.6L585.9 209.0L586.1 209.1L586.4 213.8L586.6 210.6L586.9 212.2L587.1 208.6L587.4 201.3L587.6 204.1L587.9 208.4L588.1 214.4L588.4 215.1L588.7 216.3L588.9 207.5L589.2 210.9L589.4 208.7L589.7 210.7L589.9 208.5L590.2 203.0L590.4 209.5L590.7 209.8L590.9 211.7L591.2 205.8L591.5 211.5L591.7 213.3L592.0 214.8L592.2 215.2L592.5 208.2L592.7 198.8L593.0 210.2L593.2 205.9L593.5 207.7L593.7 213.5L594.0 212.1L594.3 211.8L594.5 213.7L594.8 204.5L595.0 216.9L595.3 211.6L595.5 210.7L595.8 214.0L596.0 212.1L596.3 208.8L596.6 210.7L596.8 210.2L597.1 209.0L597.3 219.1L597.6 208.3L597.8 202.6L598.1 206.0L598.3 206.8L598.6 216.1L598.8 213.6L599.1 215.6L599.4 215.2L599.6 209.3L599.9 214.5L600.1 213.2L600.4 219.7L600.6 214.6L600.9 212.4L601.1 214.9L601.4 215.6L601.6 205.9L601.9 215.2L602.2 216.9L602.4 216.4L602.7 208.7L602.9 203.3L603.2 208.7L603.4 214.0L603.7 214.2L603.9 208.6L604.2 214.7L604.4 207.3L604.7 205.6L605.0 210.2L605.2 209.2L605.5 208.6L605.7 205.4L606.0 214.4L606.2 208.3L606.5 212.6L606.7 215.2L607.0 212.5L607.2 213.1L607.5 216.1L607.8 219.2L608.0 217.5L608.3 208.0L608.5 203.7L608.8 207.6L609.0 206.5L609.3 212.7L609.5 212.6L609.8 211.2L610.1 216.0L610.3 216.9L610.6 213.0L610.8 213.6L611.1 216.5L611.3 211.8L611.6 213.1L611.8 208.5L612.1 211.3L612.3 213.1L612.6 211.9L612.9 212.8L613.1 214.8L613.4 214.4L613.6 209.9L613.9 209.1L614.1 206.5L614.4 216.8L614.6 214.2L614.9 213.4L615.1 210.7L615.4 212.1L615.7 212.5L615.9 207.4L616.2 208.2L616.4 213.2L616.7 204.7L616.9 203.6L617.2 209.0L617.4 205.0L617.7 210.0L617.9 204.2L618.2 207.8L618.5 211.0L618.7 210.1L619.0 211.4L619.2 208.1L619.5 207.4L619.7 207.7L620.0 210.1L620.2 217.8L620.5 211.3L620.7 216.1L621.0 209.2L621.3 204.1L621.5 206.1L621.8 209.1L622.0 209.1L622.3 208.9L622.5 210.5L622.8 211.0L623.0 212.4L623.3 204.8L623.6 207.5L623.8 204.5L624.1 208.3L624.3 208.0L624.6 208.9L624.8 206.7L625.1 204.8L625.3 206.6L625.6 210.5L625.8 211.9L626.1 203.0L626.4 208.1L626.6 209.5L626.9 203.2L627.1 203.0L627.4 205.1L627.6 209.2L627.9 199.8L628.1 204.9L628.4 205.6L628.6 208.5L628.9 213.9L629.2 215.0L629.4 208.7L629.7 206.9L629.9 208.7L630.2 212.4L630.4 214.2L630.7 210.3L630.9 213.4L631.2 205.0L631.4 201.8L631.7 195.8L632.0 199.8L632.2 206.8L632.5 209.6L632.7 215.9L633.0 211.9L633.2 208.2L633.5 203.0L633.7 203.0L634.0 203.1L634.2 204.6L634.5 203.2L634.8 199.9L635.0 208.6L635.3 208.5L635.5 212.0L635.8 201.5L636.0 200.0L636.3 201.8L636.5 209.6L636.8 206.3L637.1 207.1L637.3 206.0L637.6 206.8L637.8 204.3L638.1 207.2L638.3 203.1L638.6 204.5L638.8 206.8L639.1 206.7L639.3 207.9L639.6 203.5L639.9 206.5L640.1 205.1L640.4 207.4L640.6 212.1L640.9 204.2L641.1 210.4L641.4 205.9L641.6 206.2L641.9 214.7L642.1 214.7L642.4 213.6L642.7 215.0L642.9 216.9L643.2 210.0L643.4 212.0L643.7 210.1L643.9 212.8L644.2 210.6L644.4 214.1L644.7 212.2L644.9 209.4L645.2 210.8L645.5 213.0L645.7 216.0L646.0 211.9L646.2 210.3L646.5 212.1L646.7 214.5L647.0 210.2L647.2 201.7L647.5 210.2L647.7 209.9L648.0 209.6L648.3 220.7L648.5 213.3L648.8 214.6L649.0 207.0L649.3 211.3L649.5 214.4L649.8 213.0L650.0 211.2L650.3 213.5L650.6 212.2L650.8 216.8L651.1 213.6L651.3 208.4L651.6 202.2L651.8 204.9L652.1 206.8L652.3 203.3L652.6 202.6L652.8 199.6L653.1 200.8L653.4 205.8L653.6 205.6L653.9 205.8L654.1 205.4L654.4 205.7L654.6 209.5L654.9 215.5L655.1 211.5L655.4 215.7L655.6 208.8L655.9 207.3L656.2 213.3L656.4 205.8L656.7 203.3L656.9 205.6L657.2 200.2L657.4 198.1L657.7 209.2L657.9 203.5L658.2 204.3L658.4 204.6L658.7 202.7L659.0 208.5L659.2 209.5L659.5 210.6L659.7 210.6L660.0 208.2L660.2 212.7L660.5 212.2L660.7 206.0L661.0 206.9L661.2 205.4L661.5 213.6L661.8 211.5L662.0 210.1L662.3 207.5L662.5 209.2L662.8 203.9L663.0 206.3L663.3 206.9L663.5 207.7L663.8 205.7L664.1 210.1L664.3 205.6L664.6 207.5L664.8 209.6L665.1 211.0L665.3 209.4L665.6 207.1L665.8 206.8L666.1 208.9L666.3 207.5L666.6 210.0L666.9 206.4L667.1 210.3L667.4 219.0L667.6 208.3L667.9 210.3L668.1 215.6L668.4 213.2L668.6 215.2L668.9 204.4L669.1 207.8L669.4 216.5L669.7 210.6L669.9 212.8L670.2 204.5L670.4 213.7L670.7 220.5L670.9 213.5L671.2 213.3L671.4 213.5L671.7 220.1L671.9 212.0L672.2 205.3L672.5 217.1L672.7 208.4L673.0 212.9L673.2 202.9L673.5 207.7L673.7 211.2L674.0 207.2L674.2 208.4L674.5 212.9L674.7 209.1L675.0 212.8L675.3 218.6L675.5 205.5L675.8 211.3L676.0 213.3L676.3 209.6L676.5 215.2L676.8 215.3L677.0 211.5L677.3 210.0L677.6 206.8L677.8 201.4L678.1 205.6L678.3 202.3L678.6 200.9L678.8 207.1L679.1 203.6L679.3 207.2L679.6 200.5L679.8 201.1L680.1 202.9L680.4 208.5L680.6 204.4L680.9 206.7L681.1 201.7L681.4 203.6L681.6 206.7L681.9 200.9L682.1 200.2L682.4 205.0L682.6 199.6L682.9 203.7L683.2 204.8L683.4 203.5L683.7 206.4L683.9 206.0L684.2 204.8L684.4 198.1L684.7 196.6L684.9 202.8L685.2 197.3L685.4 202.2L685.7 201.8L686.0 199.8L686.2 201.6L686.5 194.0L686.7 200.3L687.0 207.3L687.2 199.6L687.5 204.2L687.7 204.9L688.0 213.4L688.2 202.8L688.5 200.3L688.8 199.8L689.0 199.0L689.3 196.1L689.5 201.9L689.8 199.7L690.0 205.5L690.3 205.4L690.5 200.1L690.8 201.3L691.1 208.1L691.3 203.9L691.6 205.9L691.8 209.6L692.1 206.5L692.3 209.8L692.6 215.8L692.8 216.3L693.1 206.4L693.3 217.1L693.6 214.0L693.9 211.6L694.1 210.1L694.4 216.1L694.6 213.6L694.9 210.6L695.1 206.7L695.4 210.6L695.6 212.9L695.9 204.7L696.1 201.6L696.4 203.0L696.7 206.5L696.9 202.9L697.2 203.3L697.4 200.6L697.7 207.9L697.9 204.5L698.2 204.7L698.4 208.4L698.7 204.3L698.9 203.9L699.2 205.5L699.5 202.9L699.7 209.1L700.0 205.5L700.2 202.7L700.5 202.6L700.7 199.6L701.0 207.4L701.2 210.6L701.5 204.7L701.8 202.4L702.0 195.6L702.3 199.5L702.5 206.2L702.8 201.5L703.0 206.6L703.3 210.3L703.5 195.7L703.8 200.7L704.0 200.5L704.3 201.0L704.6 196.4L704.8 201.0L705.1 198.6L705.3 206.5L705.6 209.9L705.8 200.1L706.1 197.4L706.3 200.4L706.6 202.2L706.8 202.9L707.1 206.3L707.4 198.7L707.6 200.2L707.9 201.1L708.1 201.8L708.4 199.5L708.6 200.9L708.9 200.4L709.1 207.5L709.4 202.9L709.6 195.4L709.9 203.8L710.2 204.4L710.4 200.7L710.7 199.5L710.9 200.5L711.2 209.2L711.4 203.4L711.7 208.3L711.9 208.2L712.2 203.0L712.4 204.9L712.7 201.1L713.0 193.9L713.2 199.2L713.5 201.9L713.7 209.4L714.0 211.0L714.2 213.6L714.5 212.9L714.7 215.5L715.0 215.2L715.3 214.1L715.5 217.5L715.8 220.6L716.0 221.8L716.3 214.5L716.5 213.9L716.8 209.7L717.0 208.2L717.3 212.8L717.5 209.8L717.8 216.6L718.1 203.9L718.3 204.5L718.6 209.7L718.8 214.2L719.1 209.2L719.3 216.3L719.6 213.9L719.8 207.4L720.1 208.3L720.3 210.6L720.6 205.7L720.9 211.9L721.1 208.4L721.4 210.4L721.6 212.1L721.9 207.5L722.1 211.8L722.4 201.9L722.6 208.8L722.9 200.7L723.1 210.2L723.4 206.1L723.7 211.9L723.9 213.8L724.2 208.5L724.4 205.2L724.7 211.8L724.9 204.1L725.2 209.7L725.4 207.6L725.7 206.1L725.9 204.9L726.2 213.7L726.5 203.0L726.7 204.3L727.0 208.3L727.2 211.6L727.5 215.0L727.7 214.6L728.0 207.2L728.2 208.8L728.5 212.1L728.8 210.7L729.0 202.4L729.3 207.5L729.5 209.7L729.8 203.0L730.0 204.7L730.3 206.7L730.5 209.6L730.8 213.9L731.0 213.6L731.3 210.9L731.6 209.2L731.8 206.6L732.1 205.2L732.3 206.1L732.6 206.4L732.8 211.1L733.1 216.6L733.3 211.8L733.6 212.2L733.8 211.2L734.1 210.4L734.4 214.5L734.6 215.7L734.9 212.9L735.1 212.0L735.4 215.4L735.6 212.6L735.9 214.4L736.1 217.0L736.4 212.9L736.6 204.3L736.9 211.1L737.2 205.2L737.4 202.3L737.7 200.4L737.9 208.0L738.2 198.5L738.4 203.1L738.7 205.8L738.9 206.4L739.2 203.4L739.4 204.7L739.7 205.9L740.0 200.7L740.2 207.0L740.5 209.7L740.7 203.5L741.0 202.3L741.2 200.5L741.5 208.2L741.7 202.0L742.0 202.7L742.3 198.1L742.5 208.3L742.8 205.3L743.0 206.4L743.3 211.7L743.5 209.7L743.8 202.2L744.0 206.4L744.3 208.4L744.5 202.9L744.8 201.0L745.1 200.6L745.3 207.2L745.6 206.1L745.8 201.7L746.1 207.0L746.3 208.6L746.6 203.1L746.8 198.9L747.1 208.1L747.3 215.2L747.6 213.5L747.9 211.3L748.1 207.4L748.4 203.6L748.6 205.5L748.9 208.1L749.1 205.5L749.4 209.1L749.6 206.5L749.9 208.1L750.1 195.9L750.4 199.9L750.7 207.2L750.9 209.6L751.2 208.1L751.4 212.3L751.7 209.9L751.9 209.3L752.2 203.0L752.4 206.4L752.7 208.7L752.9 211.3L753.2 211.3L753.5 207.1L753.7 206.7L754.0 201.4L754.2 206.8L754.5 201.7L754.7 203.5L755.0 205.0L755.2 212.9L755.5 212.2L755.8 204.3L756.0 199.8L756.3 203.2L756.5 202.0L756.8 206.1L757.0 207.0L757.3 208.3L757.5 202.4L757.8 203.4L758.0 205.8L758.3 206.7L758.6 203.6L758.8 203.7L759.1 208.1L759.3 199.5L759.6 202.8L759.8 204.5L760.1 199.3L760.3 199.7L760.6 204.0L760.8 202.6L761.1 208.4L761.4 208.1L761.6 214.1L761.9 202.4L762.1 211.3L762.4 203.7L762.6 207.6L762.9 209.1L763.1 206.5L763.4 204.1L763.6 202.1L763.9 197.3L764.2 201.4L764.4 200.4L764.7 205.8L764.9 202.1L765.2 203.3L765.4 206.0L765.7 205.2L765.9 204.9L766.2 203.8L766.4 202.8L766.7 205.9L767.0 207.6L767.2 202.4L767.5 210.3L767.7 208.2L768.0 199.4L768.2 213.4L768.5 209.2L768.7 202.9L769.0 210.2L769.3 195.9L769.5 212.0L769.8 200.7L770.0 197.5L770.3 199.1L770.5 203.8L770.8 202.7L771.0 207.2L771.3 201.9L771.5 207.8L771.8 206.1L772.1 200.8L772.3 207.5L772.6 206.3L772.8 204.0L773.1 209.1L773.3 200.9L773.6 202.0L773.8 209.2L774.1 205.5L774.3 207.3L774.6 207.3" fill="none" stroke="#008000" stroke-width="2" stroke-linejoin="round"/><path d="M456.2 146.0L456.2 131.2L456.3 117.2L456.3 104.3L456.3 92.7L456.4 81.8L456.4 70.9L456.4 60.7L456.5 51.7L456.5 44.4L456.5 39.4L456.6 35.7L456.6 32.2L456.6 29.1L456.6 26.3L456.7 24.1L456.7 22.3L456.7 21.2L456.8 20.9L456.8 21.1L456.8 21.8L456.9 22.9L456.9 24.3L456.9 25.9L457.0 27.7L457.0 29.6L457.0 31.5L457.1 33.4L457.1 35.1L457.1 36.8L457.2 38.6L457.2 40.5L457.2 42.5L457.3 44.6L457.3 46.7L457.3 48.8L457.3 50.9L457.4 52.9L457.4 55.0L457.4 57.0L457.5 58.9L457.5 60.8L457.5 62.7L457.6 64.6L457.6 66.5L457.6 68.4L457.7 70.3L457.7 72.2L457.7 74.0L457.8 75.8L457.8 77.6L457.8 79.4L457.9 81.1L457.9 82.7L457.9 84.3L458.0 85.9L458.0 87.4L458.0 88.8L458.0 90.2L458.1 91.6L458.1 93.0L458.1 94.3L458.2 95.6L458.2 96.9L458.2 98.2L458.3 99.4L458.3 100.6L458.3 101.7L458.4 102.8L458.4 103.9L458.4 105.0L458.5 106.0L458.5 106.9L458.5 107.8L458.6 108.7L458.6 109.6L458.6 110.5L458.7 111.3L458.7 112.1L458.7 112.9L458.7 113.7L458.8 114.5L458.8 115.2L458.8 115.9L458.9 116.6L458.9 117.3L458.9 118.0L459.0 118.6L459.0 119.2L459.0 119.8L459.1 120.4L459.1 121.0L459.1 121.5L459.2 122.1L459.2 122.6L459.2 123.1L459.3 123.6L459.3 124.1L459.3 124.6L459.4 125.1L459.4 125.5L459.4 126.0L459.4 126.4L459.5 126.9L459.5 127.3L459.5 127.7L459.6 128.1L459.6 128.5L459.6 128.9L459.7 129.3L459.7 129.7L459.7 130.0L459.8 130.4L459.8 130.8L459.8 131.1L459.9 131.5L459.9 131.8L459.9 132.2L460.0 132.5L460.0 132.8L460.0 133.2L460.1 133.5L460.1 133.8L460.1 134.1L460.1 134.4L460.2 134.7L460.2 135.0L460.2 135.3L460.3 135.6L460.3 135.9L460.3 136.2L460.4 136.5L460.4 136.8L460.4 137.0L460.5 137.3L460.5 137.6L460.5 137.9L460.6 138.1L460.6 138.4L460.6 138.7L460.7 138.9L460.7 139.2L460.7 139.4L460.8 139.7L460.8 139.9L460.8 140.2L460.8 140.4L460.9 140.7L460.9 140.9L460.9 141.2L461.0 141.4L461.0 141.6L461.0 141.9L461.1 142.1L461.1 142.3L461.1 142.6L461.2 142.8L461.2 143.0L461.2 143.2L461.3 143.5L461.3 143.7L461.3 143.9L461.4 144.1L461.4 144.3L461.4 144.5L461.5 144.7L461.5 144.9L461.5 145.1L461.5 145.3L461.6 145.5L461.6 145.7L461.6 145.9L461.7 146.1L461.7 146.3L461.7 146.5L461.8 146.7L461.8 146.9L461.8 147.1L461.9 147.2L461.9 147.4L461.9 147.6L462.0 147.8L462.0 148.0L462.0 148.2L462.1 148.3L462.1 148.5L462.1 148.7L462.2 148.9L462.2 149.1L462.2 149.2L462.2 149.4L462.3 149.6L462.3 149.8L462.3 149.9L462.4 150.1L462.4 150.3L462.4 150.4L462.5 150.6L462.5 150.8L462.5 150.9L462.6 151.1L462.6 151.3L462.6 151.4L462.7 151.6L462.7 151.8L462.7 151.9L462.8 152.1L462.8 152.2L462.8 152.4L462.9 152.5L462.9 152.7L462.9 152.9L463.0 153.0L463.0 153.2L463.0 153.3L463.0 153.5L463.1 153.6L463.1 153.8L463.1 153.9L463.2 154.1L463.2 154.2L463.2 154.4L463.3 154.5L463.3 154.6L463.3 154.8L463.4 154.9L463.4 155.1L463.4 155.2L463.5 155.4L463.5 155.5L463.5 155.6L463.6 155.8L463.6 155.9L463.6 156.1L463.7 156.2L463.7 156.3L463.7 156.5L463.7 156.6L463.8 156.7L463.8 156.9L463.8 157.0L463.9 157.1L463.9 157.3L463.9 157.4L464.0 157.5L464.0 157.7L464.0 157.8L464.1 157.9L464.1 158.1L464.1 158.2L464.2 158.3L464.2 158.4L464.2 158.6L464.3 158.7L464.3 158.8L464.3 159.0L464.4 159.1L464.4 159.2L464.4 159.3L464.4 159.5L464.5 159.6L464.5 159.7L464.5 159.8L464.6 160.0L464.6 160.1L464.6 160.2L464.7 160.3L464.7 160.4L464.7 160.6L464.8 160.7L464.8 160.8L464.8 160.9L464.9 161.0L464.9 161.2L464.9 161.3L465.0 161.4L465.0 161.5L465.0 161.6L465.1 161.7L465.1 161.9L465.1 162.0L465.1 162.1L465.2 162.2L465.2 162.3L465.2 162.4L465.3 162.5L465.3 162.6L465.3 162.8L465.4 162.9L465.4 163.0L465.4 163.1L465.5 163.2L465.5 163.3L465.5 163.4L465.6 163.5L465.6 163.6L465.6 163.7L465.7 163.8L465.7 164.0L465.7 164.1L465.8 164.2L466.1 165.2L466.4 166.3L466.7 167.3L467.0 168.3L467.3 169.3L467.7 170.2L468.0 171.2L468.3 172.1L468.6 173.0L468.9 173.9L469.3 174.7L469.6 175.5L469.9 176.3L470.2 177.1L470.5 177.8L470.8 178.5L471.2 179.1L471.5 179.8L471.8 180.4L472.1 181.0L472.4 181.6L472.8 182.2L473.1 182.8L473.4 183.4L473.7 183.9L474.0 184.5L474.3 185.0L474.7 185.5L475.0 186.1L475.3 186.6L475.6 187.1L475.9 187.6L476.3 188.1L476.6 188.5L476.9 189.0L477.2 189.4L477.5 189.9L477.9 190.3L478.2 190.7L478.5 191.2L478.8 191.6L479.1 192.0L479.4 192.3L479.8 192.7L480.1 193.1L480.4 193.5L480.7 193.8L481.0 194.1L481.4 194.5L481.7 194.8L482.0 195.1L482.3 195.4L482.6 195.7L482.9 196.1L483.3 196.4L483.6 196.7L483.9 197.0L484.2 197.2L484.5 197.5L484.9 197.8L485.2 198.1L485.5 198.4L485.8 198.6L486.1 198.9L486.4 199.2L486.8 199.4L487.1 199.7L487.4 199.9L487.7 200.1L488.0 200.4L488.4 200.6L488.7 200.8L489.0 201.0L489.3 201.2L489.6 201.4L490.0 201.6L490.3 201.8L490.6 202.0L490.9 202.1L491.2 202.3L491.5 202.4L491.9 202.6L492.2 202.7L492.5 202.9L492.8 203.0L493.1 203.1L493.5 203.2L493.8 203.4L494.1 203.5L494.4 203.6L494.7 203.7L495.0 203.8L495.4 203.9L495.7 204.0L496.0 204.1L496.3 204.2L496.6 204.3L497.0 204.4L497.3 204.5L497.6 204.6L497.9 204.7L498.2 204.8L498.5 204.9L498.9 204.9L499.2 205.0L499.5 205.1L499.8 205.2L500.1 205.2L500.5 205.3L500.8 205.4L501.1 205.5L501.4 205.5L501.7 205.6L502.0 205.7L502.4 205.7L502.7 205.8L503.0 205.9L503.3 205.9L503.6 206.0L504.0 206.1L504.3 206.1L504.6 206.2L504.9 206.3L505.2 206.3L505.6 206.4L505.9 206.5L506.2 206.5L506.5 206.6L506.8 206.6L507.1 206.7L507.5 206.7L507.8 206.8L508.1 206.8L508.4 206.9L508.7 206.9L509.1 207.0L509.4 207.0L509.7 207.1L510.0 207.1L510.3 207.2L510.6 207.2L511.0 207.3L511.3 207.3L511.6 207.3L511.9 207.4L512.2 207.4L512.6 207.5L512.9 207.5L513.2 207.5L513.5 207.5L513.8 207.6L514.1 207.6L514.5 207.6L514.8 207.7L515.1 207.7L515.4 207.7L515.7 207.7L516.1 207.8L516.4 207.8L516.7 207.8L517.0 207.8L517.3 207.9L517.7 207.9L518.0 207.9L518.3 207.9L518.6 208.0L518.9 208.0L519.2 208.0L519.6 208.0L519.9 208.1L520.2 208.1L520.5 208.1L520.8 208.1L521.2 208.1L521.5 208.2L521.8 208.2L522.1 208.2L522.4 208.2L522.7 208.2L523.1 208.3L523.4 208.3L523.7 208.3L524.0 208.3L524.3 208.3L524.7 208.4L525.0 208.4L525.3 208.4L525.6 208.4L525.9 208.4L526.2 208.4L526.6 208.5L526.9 208.5L527.2 208.5L527.5 208.5L527.8 208.5L528.2 208.5L528.5 208.5L528.8 208.6L529.1 208.6L529.4 208.6L529.8 208.6L530.1 208.6L530.4 208.6L530.7 208.6L531.0 208.7L531.3 208.7L531.7 208.7L532.0 208.7L532.3 208.7L532.6 208.7L532.9 208.7L533.3 208.7L533.6 208.7L533.9 208.7L534.2 208.8L534.5 208.8L534.8 208.8L535.2 208.8L535.5 208.8L535.8 208.8L536.1 208.8L536.4 208.8L536.8 208.8L537.1 208.8L537.4 208.8L537.7 208.8L538.0 208.9L538.3 208.9L538.7 208.9L539.0 208.9L539.3 208.9L539.6 208.9L539.9 208.9L540.3 208.9L540.6 208.9L540.9 208.9L541.2 208.9L541.5 208.9L541.8 208.9L542.2 209.0L542.5 209.0L542.8 209.0L543.1 209.0L543.4 209.0L543.8 209.0L544.1 209.0L544.4 209.0L544.7 209.0L545.0 209.0L545.4 209.0L545.7 209.0L546.0 209.0L546.3 209.0L546.6 209.0L546.9 209.0L547.3 209.1L547.6 209.1L547.9 209.1L548.2 209.1L548.5 209.1L548.9 209.1L549.2 209.1L549.5 209.1L549.8 209.1L550.1 209.1L550.4 209.1L550.8 209.1L551.1 209.1L551.4 209.1L551.7 209.1L552.0 209.1L552.4 209.1L552.7 209.1L553.0 209.1L553.3 209.1L553.6 209.1L553.9 209.1L554.3 209.2L554.6 209.2L554.9 209.2L555.2 209.2L555.5 209.2L555.9 209.2L556.2 209.2L556.5 209.2L556.8 209.2L557.1 209.2L557.5 209.2L557.8 209.2L558.1 209.2L558.4 209.2L558.7 209.2L559.0 209.2L559.4 209.2L559.7 209.2L560.0 209.2L560.3 209.2L560.6 209.2L561.0 209.2L561.3 209.2L561.6 209.2L561.9 209.2L562.2 209.2L562.5 209.2L562.9 209.2L563.2 209.2L563.5 209.2L563.8 209.2L564.1 209.2L564.5 209.2L564.8 209.2L565.1 209.2L565.4 209.2L565.7 209.2L566.0 209.2L566.4 209.2L566.7 209.2L567.0 209.2L567.3 209.2L567.6 209.2L568.0 209.2L568.3 209.2L568.6 209.2L568.9 209.2L569.2 209.2L569.6 209.2L569.9 209.2L570.2 209.2L570.5 209.2L570.8 209.2L571.1 209.2L571.5 209.2L571.8 209.2L572.1 209.2L572.4 209.2L572.7 209.2L573.1 209.2L573.4 209.2L573.7 209.2L574.0 209.2L574.3 209.2L574.6 209.2L575.0 209.2L575.3 209.2L575.6 209.3L575.9 209.3L576.2 209.3L576.6 209.3L576.9 209.3L577.2 209.3L577.5 209.3L577.8 209.3L578.1 209.3L578.5 209.3L578.8 209.3L579.1 209.3L579.4 209.3L579.7 209.3L580.1 209.3L580.4 209.3L580.7 209.3L581.0 209.3L581.3 209.3L581.6 209.3L582.0 209.3L582.3 209.3L582.6 209.3L582.9 209.3L583.2 209.3L583.6 209.3L583.9 209.3L584.2 209.3L584.5 209.3L584.8 209.3L585.2 209.3L585.5 209.3L585.8 209.3L586.1 209.3L586.4 209.3L586.7 209.3L587.1 209.3L587.4 209.3L587.7 209.3L588.0 209.3L588.3 209.3L588.7 209.3L589.0 209.3L589.3 209.3L589.6 209.3L589.9 209.3L590.2 209.3L590.6 209.3L590.9 209.3L591.2 209.3L591.5 209.3L591.8 209.3L592.2 209.3L592.5 209.3L592.8 209.3L593.1 209.3L593.4 209.3L593.7 209.3L594.1 209.3L594.4 209.3L594.7 209.3L595.0 209.3L595.3 209.3L595.7 209.3L596.0 209.3L596.3 209.3L596.6 209.3L596.9 209.3L597.3 209.3L597.6 209.3L597.9 209.3L598.2 209.3L598.5 209.3L598.8 209.3L599.2 209.3L599.5 209.3L599.8 209.3L600.1 209.3L600.4 209.3L600.8 209.3L601.1 209.3L601.4 209.3L601.7 209.3L602.0 209.3L602.3 209.3L602.7 209.3L603.0 209.3L603.3 209.3L603.6 209.3L603.9 209.3L604.3 209.3L604.6 209.3L604.9 209.3L605.2 209.3L605.5 209.3L605.8 209.3L606.2 209.3L606.5 209.3L606.8 209.3L607.1 209.3L607.4 209.3L607.8 209.3L608.1 209.3L608.4 209.3L608.7 209.3L609.0 209.3L609.4 209.3L609.7 209.3L610.0 209.3L610.3 209.3L610.6 209.3L610.9 209.3L611.3 209.3L611.6 209.3L611.9 209.3L612.2 209.3L612.5 209.3L612.9 209.3L613.2 209.3L613.5 209.3L613.8 209.3L614.1 209.3L614.4 209.3L614.8 209.3L615.1 209.3L615.4 209.3L615.7 209.3L616.0 209.3L616.4 209.3L616.7 209.3L617.0 209.3L617.3 209.3L617.6 209.3L617.9 209.3L618.3 209.3L618.6 209.3L618.9 209.3L619.2 209.3L619.5 209.3L619.9 209.3L620.2 209.3L620.5 209.3L620.8 209.3L621.1 209.3L621.4 209.3L621.8 209.3L622.1 209.3L622.4 209.3L622.7 209.3L623.0 209.3L623.4 209.3L623.7 209.3L624.0 209.3L624.3 209.3L624.6 209.3L625.0 209.3L625.3 209.3L625.6 209.3L625.9 209.3L626.2 209.3L626.5 209.3L626.9 209.3L627.2 209.3L627.5 209.3L627.8 209.3L628.1 209.3L628.5 209.3L628.8 209.3L629.1 209.3L629.4 209.3L629.7 209.3L630.0 209.3L630.4 209.3L630.7 209.3L631.0 209.3L631.3 209.3L631.6 209.3L632.0 209.3L632.3 209.3L632.6 209.3L632.9 209.3L633.2 209.3L633.5 209.3L633.9 209.3L634.2 209.3L634.5 209.3L634.8 209.3L635.1 209.3L635.5 209.3L635.8 209.3L636.1 209.3L636.4 209.3L636.7 209.3L637.1 209.3L637.4 209.3L637.7 209.3L638.0 209.3L638.3 209.3L638.6 209.3L639.0 209.3L639.3 209.3L639.6 209.3L639.9 209.3L640.2 209.3L640.6 209.3L640.9 209.3L641.2 209.3L641.5 209.3L641.8 209.3L642.1 209.3L642.5 209.3L642.8 209.3L643.1 209.3L643.4 209.3L643.7 209.3L644.1 209.3L644.4 209.3L644.7 209.3L645.0 209.3L645.3 209.3L645.6 209.3L646.0 209.3L646.3 209.3L646.6 209.3L646.9 209.3L647.2 209.3L647.6 209.3L647.9 209.3L648.2 209.3L648.5 209.3L648.8 209.3L649.2 209.3L649.5 209.3L649.8 209.3L650.1 209.3L650.4 209.3L650.7 209.3L651.1 209.3L651.4 209.3L651.7 209.3L652.0 209.3L652.3 209.3L652.7 209.3L653.0 209.3L653.3 209.3L653.6 209.3L653.9 209.3L654.2 209.3L654.6 209.3L654.9 209.3L655.2 209.3L655.5 209.3L655.8 209.3L656.2 209.3L656.5 209.3L656.8 209.3L657.1 209.3L657.4 209.3L657.7 209.3L658.1 209.3L658.4 209.3L658.7 209.3L659.0 209.3L659.3 209.3L659.7 209.3L660.0 209.3L660.3 209.3L660.6 209.3L660.9 209.3L661.2 209.3L661.6 209.3L661.9 209.3L662.2 209.3L662.5 209.3L662.8 209.3L663.2 209.3L663.5 209.3L663.8 209.3L664.1 209.3L664.4 209.3L664.8 209.3L665.1 209.3L665.4 209.3L665.7 209.3L666.0 209.3L666.3 209.3L666.7 209.3L667.0 209.3L667.3 209.3L667.6 209.3L667.9 209.3L668.3 209.3L668.6 209.3L668.9 209.3L669.2 209.3L669.5 209.3L669.8 209.3L670.2 209.3L670.5 209.3L670.8 209.3L671.1 209.3L671.4 209.3L671.8 209.3L672.1 209.3L672.4 209.3L672.7 209.3L673.0 209.3L673.3 209.3L673.7 209.3L674.0 209.3L674.3 209.3L674.6 209.3L674.9 209.3L675.3 209.3L675.6 209.3L675.9 209.3L676.2 209.3L676.5 209.3L676.9 209.3L677.2 209.3L677.5 209.3L677.8 209.3L678.1 209.3L678.4 209.3L678.8 209.3L679.1 209.3L679.4 209.3L679.7 209.3L680.0 209.3L680.4 209.3L680.7 209.3L681.0 209.3L681.3 209.3L681.6 209.3L681.9 209.3L682.3 209.3L682.6 209.3L682.9 209.3L683.2 209.3L683.5 209.3L683.9 209.3L684.2 209.3L684.5 209.3L684.8 209.3L685.1 209.3L685.4 209.3L685.8 209.3L686.1 209.3L686.4 209.3L686.7 209.3L687.0 209.3L687.4 209.3L687.7 209.3L688.0 209.3L688.3 209.3L688.6 209.3L689.0 209.3L689.3 209.3L689.6 209.3L689.9 209.3L690.2 209.3L690.5 209.3L690.9 209.3L691.2 209.3L691.5 209.3L691.8 209.3L692.1 209.3L692.5 209.3L692.8 209.3L693.1 209.3L693.4 209.3L693.7 209.3L694.0 209.3L694.4 209.3L694.7 209.3L695.0 209.3L695.3 209.3L695.6 209.3L696.0 209.3L696.3 209.3L696.6 209.3L696.9 209.3L697.2 209.3L697.5 209.3L697.9 209.3L698.2 209.3L698.5 209.3L698.8 209.3L699.1 209.3L699.5 209.3L699.8 209.3L700.1 209.3L700.4 209.3L700.7 209.3L701.0 209.3L701.4 209.3L701.7 209.3L702.0 209.3L702.3 209.3L702.6 209.3L703.0 209.3L703.3 209.3L703.6 209.3L703.9 209.3L704.2 209.3L704.6 209.3L704.9 209.3L705.2 209.3L705.5 209.3L705.8 209.3L706.1 209.3L706.5 209.3L706.8 209.3L707.1 209.3L707.4 209.3L707.7 209.3L708.1 209.3L708.4 209.3L708.7 209.3L709.0 209.3L709.3 209.3L709.6 209.3L710.0 209.3L710.3 209.3L710.6 209.3L710.9 209.3L711.2 209.3L711.6 209.3L711.9 209.3L712.2 209.3L712.5 209.3L712.8 209.3L713.1 209.3L713.5 209.3L713.8 209.3L714.1 209.3L714.4 209.3L714.7 209.3L715.1 209.3L715.4 209.3L715.7 209.3L716.0 209.3L716.3 209.3L716.7 209.3L717.0 209.3L717.3 209.3L717.6 209.3L717.9 209.3L718.2 209.3L718.6 209.3L718.9 209.3L719.2 209.3L719.5 209.3L719.8 209.3L720.2 209.3L720.5 209.3L720.8 209.3L721.1 209.3L721.4 209.3L721.7 209.3L722.1 209.3L722.4 209.3L722.7 209.3L723.0 209.3L723.3 209.3L723.7 209.3L724.0 209.3L724.3 209.3L724.6 209.3L724.9 209.3L725.2 209.3L725.6 209.3L725.9 209.3L726.2 209.3L726.5 209.3L726.8 209.3L727.2 209.3L727.5 209.3L727.8 209.3L728.1 209.3L728.4 209.3L728.8 209.3L729.1 209.3L729.4 209.3L729.7 209.3L730.0 209.3L730.3 209.3L730.7 209.3L731.0 209.3L731.3 209.3L731.6 209.3L731.9 209.3L732.3 209.3L732.6 209.3L732.9 209.3L733.2 209.3L733.5 209.3L733.8 209.3L734.2 209.3L734.5 209.3L734.8 209.3L735.1 209.3L735.4 209.3L735.8 209.3L736.1 209.3L736.4 209.3L736.7 209.3L737.0 209.3L737.3 209.3L737.7 209.3L738.0 209.3L738.3 209.3L738.6 209.3L738.9 209.3L739.3 209.3L739.6 209.3L739.9 209.3L740.2 209.3L740.5 209.3L740.8 209.3L741.2 209.3L741.5 209.3L741.8 209.3L742.1 209.3L742.4 209.3L742.8 209.3L743.1 209.3L743.4 209.3L743.7 209.3L744.0 209.3L744.4 209.3L744.7 209.3L745.0 209.3L745.3 209.3L745.6 209.3L745.9 209.3L746.3 209.3L746.6 209.3L746.9 209.3L747.2 209.3L747.5 209.3L747.9 209.3L748.2 209.3L748.5 209.3L748.8 209.3L749.1 209.3L749.4 209.3L749.8 209.3L750.1 209.3L750.4 209.3L750.7 209.3L751.0 209.3L751.4 209.3L751.7 209.3L752.0 209.3L752.3 209.3L752.6 209.3L752.9 209.3L753.3 209.3L753.6 209.3L753.9 209.3L754.2 209.3L754.5 209.3L754.9 209.3L755.2 209.3L755.5 209.3L755.8 209.3L756.1 209.3L756.5 209.3L756.8 209.3L757.1 209.3L757.4 209.3L757.7 209.3L758.0 209.3L758.4 209.3L758.7 209.3L759.0 209.3L759.3 209.3L759.6 209.3L760.0 209.3L760.3 209.3L760.6 209.3L760.9 209.3L761.2 209.3L761.5 209.3L761.9 209.3L762.2 209.3L762.5 209.3L762.8 209.3L763.1 209.3L763.5 209.3L763.8 209.3L764.1 209.3L764.4 209.3L764.7 209.3L765.0 209.3L765.4 209.3L765.7 209.3L766.0 209.3L766.3 209.3L766.6 209.3L767.0 209.3L767.3 209.3L767.6 209.3L767.9 209.3L768.2 209.3L768.6 209.3L768.9 209.3L769.2 209.3L769.5 209.3L769.8 209.3L770.1 209.3L770.5 209.3L770.8 209.3L771.1 209.3L771.4 209.3L771.7 209.3L772.1 209.3L772.4 209.3L772.7 209.3L773.0 209.3L773.3 209.3L773.6 209.3L774.0 209.3L774.3 209.3L774.6 209.3" fill="none" stroke="#a03300" stroke-width="2.2" stroke-linejoin="round"/><text class="b" x="615.00" y="286.90" font-size="12.85" text-anchor="middle">Time</text><text class="b" transform="translate(425.90 128.45) rotate(-90)" font-size="12.85" text-anchor="middle">I</text><text class="cap" x="604.60" y="310.70" font-size="20.6" text-anchor="middle">(b)</text><rect x="661.20" y="11.40" width="105.40" height="31.00" fill="#fff" stroke="#222222" stroke-width="1"/><path d="M664.40 20.00h29.5" stroke="#008000" stroke-width="2"/><path d="M664.40 34.50h29.5" stroke="#a03300" stroke-width="2"/><text class="b" x="696.40" y="24.40" font-size="10.5">Stochastic</text><text class="b" x="696.40" y="38.90" font-size="10.5">Deterministic</text></g><g><rect x="871.80" y="3.80" width="318.90" height="248.90" fill="none" stroke="#222222" stroke-width="1.15"/><text class="b" x="871.80" y="269.90" font-size="11.4" text-anchor="middle">0</text><text class="b" x="935.58" y="269.90" font-size="11.4" text-anchor="middle">100</text><text class="b" x="999.36" y="269.90" font-size="11.4" text-anchor="middle">200</text><text class="b" x="1063.14" y="269.90" font-size="11.4" text-anchor="middle">300</text><text class="b" x="1126.92" y="269.90" font-size="11.4" text-anchor="middle">400</text><text class="b" x="1190.70" y="269.90" font-size="11.4" text-anchor="middle">500</text><text class="b" x="867.10" y="257.45" font-size="11.4" text-anchor="end">0</text><text class="b" x="867.10" y="195.22" font-size="11.4" text-anchor="end">50</text><text class="b" x="867.10" y="133.00" font-size="11.4" text-anchor="end">100</text><text class="b" x="867.10" y="70.78" font-size="11.4" text-anchor="end">150</text><text class="b" x="867.10" y="8.55" font-size="11.4" text-anchor="end">200</text><path d="M871.80 252.70v-3.40M871.80 3.80v3.40M935.58 252.70v-3.40M935.58 3.80v3.40M999.36 252.70v-3.40M999.36 3.80v3.40M1063.14 252.70v-3.40M1063.14 3.80v3.40M1126.92 252.70v-3.40M1126.92 3.80v3.40M1190.70 252.70v-3.40M1190.70 3.80v3.40M871.80 252.70h3.40M1190.70 252.70h-3.40M871.80 190.47h3.40M1190.70 190.47h-3.40M871.80 128.25h3.40M1190.70 128.25h-3.40M871.80 66.03h3.40M1190.70 66.03h-3.40M871.80 3.80h3.40M1190.70 3.80h-3.40" stroke="#222222" stroke-width="1.15" fill="none"/><path d="M871.8 3.8L872.1 38.1L872.4 67.3L872.8 86.3L873.1 94.0L873.4 101.1L873.7 104.8L874.0 111.2L874.4 113.1L874.7 116.6L875.0 115.4L875.3 117.0L875.6 115.0L875.9 121.5L876.3 126.4L876.6 127.0L876.9 126.9L877.2 129.2L877.5 133.5L877.9 137.8L878.2 140.8L878.5 146.7L878.8 147.3L879.1 155.3L879.5 155.7L879.8 161.7L880.1 162.4L880.4 166.8L880.7 164.0L881.0 165.7L881.4 166.6L881.7 167.2L882.0 166.8L882.3 168.2L882.6 163.2L883.0 161.3L883.3 162.6L883.6 168.1L883.9 169.2L884.2 172.6L884.6 171.0L884.9 174.8L885.2 177.0L885.5 180.2L885.8 185.4L886.2 184.8L886.5 184.7L886.8 180.9L887.1 180.3L887.4 183.6L887.7 184.2L888.1 180.8L888.4 183.5L888.7 182.2L889.0 178.5L889.3 180.7L889.7 181.6L890.0 180.5L890.3 180.7L890.6 192.4L890.9 193.5L891.3 192.9L891.6 193.3L891.9 193.7L892.2 190.6L892.5 183.6L892.8 183.0L893.2 185.2L893.5 187.2L893.8 189.3L894.1 191.4L894.4 189.9L894.8 193.4L895.1 190.8L895.4 188.7L895.7 188.8L896.0 192.4L896.4 196.7L896.7 197.0L897.0 198.9L897.3 200.3L897.6 197.0L897.9 196.1L898.3 203.1L898.6 195.0L898.9 201.6L899.2 206.3L899.5 206.7L899.9 202.9L900.2 199.2L900.5 185.1L900.8 198.3L901.1 202.0L901.5 203.9L901.8 207.9L902.1 204.7L902.4 201.5L902.7 195.5L903.1 205.1L903.4 204.9L903.7 199.1L904.0 197.1L904.3 198.0L904.6 195.8L905.0 198.0L905.3 198.9L905.6 196.5L905.9 196.3L906.2 198.1L906.6 203.0L906.9 211.7L907.2 213.8L907.5 208.5L907.8 206.4L908.2 201.4L908.5 207.5L908.8 204.0L909.1 204.1L909.4 207.3L909.7 202.0L910.1 199.6L910.4 195.1L910.7 196.8L911.0 198.2L911.3 200.5L911.7 200.6L912.0 205.0L912.3 195.5L912.6 194.0L912.9 185.9L913.3 190.2L913.6 191.0L913.9 197.6L914.2 194.8L914.5 200.3L914.9 196.4L915.2 199.5L915.5 199.7L915.8 201.0L916.1 199.1L916.4 208.8L916.8 204.0L917.1 205.8L917.4 195.4L917.7 201.2L918.0 199.6L918.4 201.1L918.7 190.7L919.0 203.7L919.3 206.5L919.6 213.8L920.0 212.5L920.3 203.0L920.6 193.4L920.9 196.7L921.2 194.8L921.5 199.6L921.9 198.1L922.2 198.1L922.5 195.0L922.8 190.9L923.1 195.9L923.5 198.4L923.8 205.4L924.1 210.6L924.4 207.9L924.7 214.6L925.1 215.2L925.4 212.6L925.7 206.0L926.0 191.4L926.3 196.4L926.7 194.0L927.0 195.5L927.3 204.7L927.6 208.3L927.9 208.8L928.2 208.4L928.6 211.3L928.9 210.6L929.2 199.0L929.5 197.5L929.8 204.5L930.2 213.3L930.5 206.6L930.8 213.4L931.1 213.4L931.4 217.5L931.8 220.3L932.1 221.9L932.4 214.3L932.7 211.6L933.0 221.1L933.3 215.0L933.7 201.6L934.0 202.1L934.3 207.1L934.6 204.4L934.9 204.8L935.3 205.2L935.6 206.9L935.9 207.1L936.2 206.2L936.5 202.6L936.9 204.4L937.2 202.7L937.5 201.3L937.8 195.8L938.1 204.3L938.5 212.8L938.8 217.6L939.1 213.4L939.4 206.9L939.7 204.0L940.0 201.5L940.4 203.5L940.7 209.3L941.0 212.3L941.3 209.6L941.6 211.1L942.0 211.4L942.3 214.6L942.6 215.0L942.9 207.5L943.2 203.9L943.6 202.2L943.9 209.1L944.2 203.4L944.5 207.5L944.8 208.2L945.1 210.6L945.5 217.2L945.8 214.9L946.1 217.3L946.4 212.3L946.7 208.5L947.1 195.9L947.4 189.7L947.7 194.4L948.0 203.0L948.3 213.8L948.7 212.9L949.0 216.3L949.3 215.0L949.6 210.6L949.9 210.1L950.2 203.1L950.6 201.7L950.9 202.0L951.2 197.6L951.5 194.6L951.8 200.9L952.2 202.3L952.5 212.4L952.8 210.7L953.1 214.4L953.4 214.8L953.8 203.0L954.1 195.6L954.4 203.6L954.7 207.5L955.0 213.6L955.4 209.4L955.7 216.4L956.0 214.7L956.3 205.7L956.6 208.9L956.9 207.2L957.3 207.9L957.6 210.3L957.9 206.2L958.2 202.3L958.5 204.5L958.9 199.0L959.2 195.6L959.5 195.7L959.8 204.3L960.1 205.6L960.5 209.1L960.8 202.6L961.1 200.1L961.4 197.5L961.7 200.1L962.0 204.1L962.4 202.6L962.7 203.8L963.0 204.8L963.3 200.2L963.6 196.1L964.0 202.6L964.3 212.3L964.6 222.1L964.9 217.5L965.2 215.5L965.6 216.8L965.9 211.9L966.2 207.2L966.5 197.3L966.8 204.1L967.2 209.0L967.5 217.7L967.8 214.6L968.1 209.4L968.4 210.0L968.7 211.0L969.1 207.8L969.4 202.0L969.7 205.0L970.0 202.4L970.3 207.6L970.7 209.0L971.0 212.6L971.3 210.7L971.6 199.5L971.9 197.2L972.3 191.9L972.6 201.2L972.9 212.8L973.2 223.3L973.5 214.3L973.8 204.2L974.2 196.4L974.5 192.9L974.8 190.6L975.1 190.4L975.4 194.8L975.8 202.3L976.1 202.0L976.4 210.8L976.7 206.6L977.0 197.6L977.4 202.7L977.7 204.7L978.0 200.2L978.3 192.8L978.6 193.8L979.0 189.5L979.3 198.0L979.6 207.0L979.9 204.5L980.2 208.0L980.5 208.4L980.9 205.8L981.2 203.8L981.5 203.9L981.8 203.3L982.1 203.2L982.5 206.8L982.8 199.8L983.1 202.4L983.4 203.6L983.7 208.4L984.1 205.1L984.4 204.0L984.7 200.6L985.0 207.2L985.3 205.9L985.6 207.5L986.0 210.1L986.3 208.1L986.6 207.6L986.9 203.8L987.2 215.3L987.6 212.1L987.9 215.3L988.2 212.0L988.5 207.3L988.8 209.8L989.2 206.8L989.5 208.3L989.8 200.1L990.1 201.7L990.4 201.3L990.7 211.5L991.1 214.8L991.4 210.5L991.7 206.6L992.0 200.8L992.3 192.4L992.7 201.2L993.0 199.8L993.3 205.2L993.6 207.0L993.9 213.5L994.3 213.4L994.6 210.7L994.9 200.1L995.2 192.6L995.5 197.4L995.9 203.2L996.2 207.6L996.5 215.1L996.8 203.0L997.1 201.7L997.4 202.1L997.8 204.4L998.1 209.4L998.4 206.8L998.7 201.9L999.0 198.0L999.4 204.1L999.7 206.3L1000.0 199.4L1000.3 207.2L1000.6 200.8L1001.0 207.4L1001.3 209.9L1001.6 203.2L1001.9 198.5L1002.2 202.9L1002.5 190.5L1002.9 190.0L1003.2 195.6L1003.5 210.8L1003.8 225.9L1004.1 214.7L1004.5 206.7L1004.8 196.9L1005.1 196.4L1005.4 198.8L1005.7 201.6L1006.1 206.8L1006.4 209.9L1006.7 215.1L1007.0 214.5L1007.3 221.9L1007.7 215.7L1008.0 206.4L1008.3 189.5L1008.6 185.1L1008.9 195.9L1009.2 199.6L1009.6 210.9L1009.9 204.1L1010.2 202.0L1010.5 186.4L1010.8 190.8L1011.2 200.3L1011.5 201.6L1011.8 199.1L1012.1 200.9L1012.4 202.5L1012.8 205.5L1013.1 204.7L1013.4 201.4L1013.7 198.0L1014.0 202.5L1014.3 204.0L1014.7 195.9L1015.0 199.8L1015.3 193.2L1015.6 196.6L1015.9 196.7L1016.3 195.4L1016.6 198.8L1016.9 199.8L1017.2 205.9L1017.5 206.2L1017.9 202.0L1018.2 198.2L1018.5 195.1L1018.8 189.3L1019.1 192.2L1019.5 195.0L1019.8 194.1L1020.1 198.0L1020.4 203.2L1020.7 210.8L1021.0 209.4L1021.4 213.9L1021.7 209.1L1022.0 213.5L1022.3 204.3L1022.6 207.3L1023.0 200.1L1023.3 209.2L1023.6 209.2L1023.9 205.9L1024.2 210.5L1024.6 208.1L1024.9 208.9L1025.2 216.4L1025.5 210.7L1025.8 210.3L1026.1 213.2L1026.5 207.1L1026.8 208.8L1027.1 208.5L1027.4 204.0L1027.7 203.9L1028.1 193.4L1028.4 202.4L1028.7 195.9L1029.0 196.4L1029.3 207.8L1029.7 211.2L1030.0 199.2L1030.3 196.1L1030.6 188.8L1030.9 191.1L1031.2 200.5L1031.6 208.7L1031.9 206.6L1032.2 193.1L1032.5 188.4L1032.8 188.9L1033.2 192.5L1033.5 201.7L1033.8 194.0L1034.1 195.5L1034.4 197.5L1034.8 206.5L1035.1 207.8L1035.4 210.4L1035.7 214.8L1036.0 221.8L1036.4 222.1L1036.7 216.2L1037.0 210.1L1037.3 207.1L1037.6 201.2L1037.9 202.8L1038.3 211.5L1038.6 202.9L1038.9 195.9L1039.2 187.9L1039.5 199.1L1039.9 207.5L1040.2 216.9L1040.5 205.1L1040.8 234.0L1041.1 193.0L1041.5 198.9L1041.8 200.1L1042.1 207.9L1042.4 209.7L1042.7 200.9L1043.0 201.5L1043.4 206.5L1043.7 213.6L1044.0 218.6L1044.3 212.2L1044.6 211.0L1045.0 204.4L1045.3 209.1L1045.6 201.5L1045.9 204.8L1046.2 199.8L1046.6 202.2L1046.9 206.2L1047.2 197.6L1047.5 201.6L1047.8 203.4L1048.2 206.7L1048.5 207.8L1048.8 210.8L1049.1 212.5L1049.4 200.3L1049.7 199.0L1050.1 200.1L1050.4 193.9L1050.7 195.7L1051.0 200.2L1051.3 206.1L1051.7 201.0L1052.0 197.8L1052.3 198.3L1052.6 201.3L1052.9 200.5L1053.3 201.6L1053.6 197.0L1053.9 196.9L1054.2 198.4L1054.5 206.4L1054.8 207.6L1055.2 209.4L1055.5 215.7L1055.8 215.2L1056.1 208.0L1056.4 212.7L1056.8 204.9L1057.1 202.2L1057.4 194.9L1057.7 201.9L1058.0 199.2L1058.4 196.0L1058.7 193.6L1059.0 197.2L1059.3 200.7L1059.6 204.4L1060.0 208.2L1060.3 208.7L1060.6 204.9L1060.9 207.7L1061.2 201.9L1061.5 207.1L1061.9 210.6L1062.2 208.9L1062.5 211.5L1062.8 211.8L1063.1 204.6L1063.5 208.1L1063.8 208.2L1064.1 205.9L1064.4 198.1L1064.7 196.6L1065.1 185.0L1065.4 191.7L1065.7 197.9L1066.0 201.5L1066.3 209.2L1066.6 210.4L1067.0 210.0L1067.3 209.0L1067.6 213.2L1067.9 214.6L1068.2 209.7L1068.6 206.2L1068.9 206.5L1069.2 201.7L1069.5 203.3L1069.8 200.5L1070.2 198.6L1070.5 200.1L1070.8 201.0L1071.1 196.7L1071.4 203.5L1071.8 209.2L1072.1 204.6L1072.4 198.9L1072.7 202.8L1073.0 201.0L1073.3 206.6L1073.7 208.5L1074.0 211.3L1074.3 211.7L1074.6 207.0L1074.9 209.4L1075.3 196.4L1075.6 197.5L1075.9 198.7L1076.2 197.3L1076.5 199.5L1076.9 195.5L1077.2 196.8L1077.5 186.6L1077.8 197.8L1078.1 194.8L1078.4 209.3L1078.8 207.9L1079.1 210.6L1079.4 207.9L1079.7 207.7L1080.0 198.5L1080.4 198.7L1080.7 199.3L1081.0 205.5L1081.3 208.4L1081.6 205.5L1082.0 214.3L1082.3 220.9L1082.6 213.6L1082.9 216.2L1083.2 213.6L1083.5 206.5L1083.9 208.6L1084.2 201.6L1084.5 205.0L1084.8 198.4L1085.1 197.1L1085.5 203.7L1085.8 205.1L1086.1 208.1L1086.4 202.6L1086.7 196.4L1087.1 201.3L1087.4 195.3L1087.7 201.2L1088.0 201.0L1088.3 205.5L1088.7 195.3L1089.0 201.1L1089.3 202.0L1089.6 205.7L1089.9 201.5L1090.2 211.2L1090.6 206.9L1090.9 199.7L1091.2 204.4L1091.5 202.5L1091.8 198.5L1092.2 201.9L1092.5 199.3L1092.8 195.0L1093.1 198.9L1093.4 200.7L1093.8 205.0L1094.1 202.5L1094.4 202.0L1094.7 196.7L1095.0 200.0L1095.3 205.3L1095.7 214.8L1096.0 208.9L1096.3 209.7L1096.6 217.3L1096.9 220.7L1097.3 217.9L1097.6 209.9L1097.9 210.6L1098.2 205.4L1098.5 198.8L1098.9 196.0L1099.2 199.9L1099.5 201.6L1099.8 200.5L1100.1 191.1L1100.5 188.8L1100.8 196.3L1101.1 204.9L1101.4 207.6L1101.7 201.1L1102.0 202.4L1102.4 196.0L1102.7 195.7L1103.0 195.0L1103.3 192.8L1103.6 193.9L1104.0 199.0L1104.3 199.0L1104.6 194.2L1104.9 207.6L1105.2 211.0L1105.6 205.1L1105.9 206.9L1106.2 208.6L1106.5 209.9L1106.8 203.7L1107.1 200.3L1107.5 201.3L1107.8 207.9L1108.1 208.2L1108.4 210.8L1108.7 204.7L1109.1 203.4L1109.4 199.8L1109.7 196.2L1110.0 193.4L1110.3 203.3L1110.7 201.0L1111.0 208.9L1111.3 205.6L1111.6 197.6L1111.9 195.3L1112.3 196.8L1112.6 200.6L1112.9 207.3L1113.2 204.9L1113.5 207.0L1113.8 206.2L1114.2 210.8L1114.5 207.1L1114.8 209.2L1115.1 209.5L1115.4 209.3L1115.8 209.3L1116.1 212.2L1116.4 210.3L1116.7 203.8L1117.0 201.5L1117.4 202.2L1117.7 201.4L1118.0 195.8L1118.3 194.1L1118.6 192.2L1118.9 198.4L1119.3 201.4L1119.6 202.5L1119.9 200.0L1120.2 199.8L1120.5 200.6L1120.9 203.1L1121.2 202.5L1121.5 205.2L1121.8 208.0L1122.1 210.8L1122.5 216.4L1122.8 215.2L1123.1 207.7L1123.4 203.8L1123.7 207.5L1124.0 210.4L1124.4 203.9L1124.7 207.5L1125.0 203.0L1125.3 197.1L1125.6 203.7L1126.0 202.9L1126.3 199.2L1126.6 196.7L1126.9 193.9L1127.2 190.2L1127.6 194.0L1127.9 193.9L1128.2 199.2L1128.5 200.4L1128.8 198.8L1129.2 195.7L1129.5 198.5L1129.8 199.1L1130.1 208.9L1130.4 200.5L1130.7 195.2L1131.1 197.3L1131.4 201.9L1131.7 203.7L1132.0 199.6L1132.3 202.4L1132.7 197.0L1133.0 199.3L1133.3 199.2L1133.6 201.0L1133.9 215.3L1134.3 207.1L1134.6 206.2L1134.9 206.0L1135.2 198.9L1135.5 192.1L1135.8 182.7L1136.2 196.5L1136.5 196.3L1136.8 198.4L1137.1 202.4L1137.4 203.7L1137.8 206.1L1138.1 211.2L1138.4 207.6L1138.7 208.2L1139.0 208.9L1139.4 204.6L1139.7 211.1L1140.0 206.6L1140.3 197.0L1140.6 199.3L1141.0 203.1L1141.3 203.6L1141.6 206.7L1141.9 201.9L1142.2 203.7L1142.5 197.1L1142.9 192.9L1143.2 191.4L1143.5 191.8L1143.8 187.9L1144.1 185.2L1144.5 189.3L1144.8 194.2L1145.1 200.6L1145.4 209.9L1145.7 201.2L1146.1 196.8L1146.4 198.7L1146.7 198.0L1147.0 201.8L1147.3 198.8L1147.6 203.2L1148.0 198.8L1148.3 200.1L1148.6 198.2L1148.9 201.2L1149.2 205.8L1149.6 197.7L1149.9 203.2L1150.2 200.4L1150.5 198.7L1150.8 194.5L1151.2 186.9L1151.5 193.2L1151.8 193.0L1152.1 203.9L1152.4 198.8L1152.8 201.9L1153.1 202.7L1153.4 200.1L1153.7 196.7L1154.0 190.2L1154.3 201.3L1154.7 198.1L1155.0 200.6L1155.3 196.0L1155.6 201.0L1155.9 200.0L1156.3 202.6L1156.6 200.0L1156.9 198.7L1157.2 199.4L1157.5 195.4L1157.9 196.5L1158.2 194.9L1158.5 195.2L1158.8 202.2L1159.1 199.1L1159.4 209.8L1159.8 212.3L1160.1 212.9L1160.4 211.7L1160.7 211.3L1161.0 209.9L1161.4 208.6L1161.7 204.9L1162.0 209.9L1162.3 214.7L1162.6 217.0L1163.0 203.7L1163.3 213.0L1163.6 205.7L1163.9 199.2L1164.2 200.8L1164.6 204.9L1164.9 208.8L1165.2 211.2L1165.5 215.1L1165.8 216.4L1166.1 207.5L1166.5 203.3L1166.8 199.3L1167.1 196.3L1167.4 200.0L1167.7 205.7L1168.1 201.9L1168.4 229.1L1168.7 202.8L1169.0 207.4L1169.3 203.6L1169.7 207.9L1170.0 198.3L1170.3 196.8L1170.6 200.3L1170.9 204.7L1171.2 204.8L1171.6 212.9L1171.9 214.3L1172.2 219.0L1172.5 212.7L1172.8 214.2L1173.2 211.4L1173.5 213.1L1173.8 209.1L1174.1 201.8L1174.4 202.3L1174.8 198.0L1175.1 195.5L1175.4 197.8L1175.7 201.8L1176.0 194.1L1176.3 197.6L1176.7 197.5L1177.0 208.9L1177.3 212.9L1177.6 218.0L1177.9 217.7L1178.3 209.5L1178.6 208.4L1178.9 209.0L1179.2 209.5L1179.5 208.0L1179.9 211.6L1180.2 208.2L1180.5 207.0L1180.8 212.7L1181.1 212.4L1181.5 209.8L1181.8 218.0L1182.1 213.5L1182.4 210.4L1182.7 205.8L1183.0 199.4L1183.4 201.5L1183.7 203.3L1184.0 210.0L1184.3 207.7L1184.6 212.7L1185.0 211.4L1185.3 201.7L1185.6 198.9L1185.9 210.3L1186.2 206.5L1186.6 209.7L1186.9 214.8L1187.2 212.0L1187.5 219.9L1187.8 218.0L1188.1 216.7L1188.5 213.9L1188.8 203.1L1189.1 204.5L1189.4 200.7L1189.7 200.5L1190.1 197.1L1190.4 198.3L1190.7 198.3" fill="none" stroke="#ff00ff" stroke-width="2.2" stroke-linejoin="round"/><path d="M871.8 3.8L871.8 7.9L871.9 12.0L871.9 16.0L871.9 19.9L872.0 23.8L872.0 27.5L872.0 31.1L872.1 34.6L872.1 37.9L872.1 41.1L872.2 44.3L872.2 47.4L872.2 50.5L872.2 53.5L872.3 56.5L872.3 59.4L872.3 62.2L872.4 65.0L872.4 67.6L872.4 70.1L872.5 72.4L872.5 74.6L872.5 76.6L872.6 78.5L872.6 80.2L872.6 81.9L872.7 83.5L872.7 85.1L872.7 86.6L872.8 88.1L872.8 89.5L872.8 91.0L872.9 92.3L872.9 93.6L872.9 94.9L872.9 96.2L873.0 97.4L873.0 98.6L873.0 99.7L873.1 100.8L873.1 101.9L873.1 103.0L873.2 104.0L873.2 105.0L873.2 106.0L873.3 106.9L873.3 107.8L873.3 108.7L873.4 109.6L873.4 110.5L873.4 111.3L873.5 112.1L873.5 112.9L873.5 113.7L873.6 114.5L873.6 115.2L873.6 116.0L873.6 116.7L873.7 117.4L873.7 118.1L873.7 118.8L873.8 119.5L873.8 120.2L873.8 120.8L873.9 121.4L873.9 122.1L873.9 122.7L874.0 123.3L874.0 123.8L874.0 124.4L874.1 125.0L874.1 125.5L874.1 126.1L874.2 126.6L874.2 127.1L874.2 127.6L874.3 128.1L874.3 128.6L874.3 129.0L874.4 129.5L874.4 129.9L874.4 130.4L874.4 130.8L874.5 131.2L874.5 131.7L874.5 132.1L874.6 132.5L874.6 132.9L874.6 133.3L874.7 133.6L874.7 134.0L874.7 134.4L874.8 134.8L874.8 135.1L874.8 135.5L874.9 135.8L874.9 136.2L874.9 136.5L875.0 136.8L875.0 137.2L875.0 137.5L875.1 137.8L875.1 138.1L875.1 138.4L875.1 138.8L875.2 139.1L875.2 139.4L875.2 139.7L875.3 140.0L875.3 140.3L875.3 140.6L875.4 140.9L875.4 141.2L875.4 141.5L875.5 141.8L875.5 142.1L875.5 142.4L875.6 142.7L875.6 142.9L875.6 143.2L875.7 143.5L875.7 143.8L875.7 144.1L875.8 144.4L875.8 144.7L875.8 145.0L875.9 145.2L875.9 145.5L875.9 145.8L875.9 146.1L876.0 146.3L876.0 146.6L876.0 146.9L876.1 147.1L876.1 147.4L876.1 147.7L876.2 147.9L876.2 148.2L876.2 148.5L876.3 148.7L876.3 149.0L876.3 149.2L876.4 149.5L876.4 149.7L876.4 149.9L876.5 150.2L876.5 150.4L876.5 150.6L876.6 150.9L876.6 151.1L876.6 151.3L876.6 151.5L876.7 151.7L876.7 152.0L876.7 152.2L876.8 152.4L876.8 152.6L876.8 152.8L876.9 153.0L876.9 153.1L876.9 153.3L877.0 153.5L877.0 153.7L877.0 153.9L877.1 154.0L877.1 154.2L877.1 154.4L877.2 154.6L877.2 154.7L877.2 154.9L877.3 155.1L877.3 155.2L877.3 155.4L877.3 155.6L877.4 155.7L877.4 155.9L877.4 156.0L877.5 156.2L877.5 156.4L877.5 156.5L877.6 156.7L877.6 156.8L877.6 157.0L877.7 157.1L877.7 157.3L877.7 157.4L877.8 157.5L877.8 157.7L877.8 157.8L877.9 158.0L877.9 158.1L877.9 158.2L878.0 158.4L878.0 158.5L878.0 158.6L878.1 158.8L878.1 158.9L878.1 159.0L878.1 159.2L878.2 159.3L878.2 159.4L878.2 159.5L878.3 159.7L878.3 159.8L878.3 159.9L878.4 160.0L878.4 160.2L878.4 160.3L878.5 160.4L878.5 160.5L878.5 160.6L878.6 160.8L878.6 160.9L878.6 161.0L878.7 161.1L878.7 161.2L878.7 161.3L878.8 161.4L878.8 161.5L878.8 161.7L878.8 161.8L878.9 161.9L878.9 162.0L878.9 162.1L879.0 162.2L879.0 162.3L879.0 162.4L879.1 162.5L879.1 162.6L879.1 162.7L879.2 162.8L879.2 162.9L879.2 163.1L879.3 163.2L879.3 163.3L879.3 163.4L879.4 163.5L879.4 163.6L879.4 163.7L879.5 163.8L879.5 163.9L879.5 164.0L879.5 164.1L879.6 164.2L879.6 164.3L879.6 164.4L879.7 164.5L879.7 164.6L879.7 164.7L879.8 164.8L879.8 164.8L879.8 164.9L879.9 165.0L879.9 165.1L879.9 165.2L880.0 165.3L880.0 165.4L880.0 165.5L880.1 165.6L880.1 165.7L880.1 165.8L880.2 165.9L880.2 166.0L880.2 166.1L880.3 166.1L880.3 166.2L880.3 166.3L880.3 166.4L880.4 166.5L880.4 166.6L880.4 166.7L880.5 166.8L880.5 166.8L880.5 166.9L880.6 167.0L880.6 167.1L880.6 167.2L880.7 167.3L880.7 167.4L880.7 167.4L880.8 167.5L880.8 167.6L880.8 167.7L880.9 167.8L880.9 167.9L880.9 167.9L881.0 168.0L881.0 168.1L881.0 168.2L881.0 168.3L881.1 168.3L881.1 168.4L881.1 168.5L881.2 168.6L881.2 168.7L881.2 168.7L881.3 168.8L881.3 168.9L881.3 169.0L881.4 169.1L881.7 169.8L882.0 170.6L882.3 171.3L882.6 172.0L883.0 172.7L883.3 173.3L883.6 174.0L883.9 174.6L884.2 175.2L884.6 175.8L884.9 176.4L885.2 177.0L885.5 177.6L885.8 178.1L886.2 178.6L886.5 179.1L886.8 179.6L887.1 180.1L887.4 180.6L887.7 181.1L888.1 181.5L888.4 182.0L888.7 182.4L889.0 182.9L889.3 183.3L889.7 183.8L890.0 184.2L890.3 184.7L890.6 185.1L890.9 185.5L891.3 185.9L891.6 186.3L891.9 186.7L892.2 187.1L892.5 187.5L892.8 187.9L893.2 188.2L893.5 188.6L893.8 189.0L894.1 189.3L894.4 189.7L894.8 190.0L895.1 190.3L895.4 190.6L895.7 191.0L896.0 191.3L896.4 191.6L896.7 191.8L897.0 192.1L897.3 192.4L897.6 192.6L897.9 192.9L898.3 193.1L898.6 193.4L898.9 193.6L899.2 193.9L899.5 194.1L899.9 194.3L900.2 194.6L900.5 194.8L900.8 195.0L901.1 195.2L901.5 195.4L901.8 195.6L902.1 195.8L902.4 196.0L902.7 196.2L903.1 196.4L903.4 196.6L903.7 196.8L904.0 197.0L904.3 197.2L904.6 197.3L905.0 197.5L905.3 197.7L905.6 197.8L905.9 198.0L906.2 198.1L906.6 198.3L906.9 198.4L907.2 198.6L907.5 198.7L907.8 198.8L908.2 199.0L908.5 199.1L908.8 199.2L909.1 199.3L909.4 199.5L909.7 199.6L910.1 199.7L910.4 199.8L910.7 199.9L911.0 200.0L911.3 200.1L911.7 200.2L912.0 200.3L912.3 200.4L912.6 200.5L912.9 200.6L913.3 200.7L913.6 200.8L913.9 200.9L914.2 201.0L914.5 201.1L914.9 201.2L915.2 201.3L915.5 201.4L915.8 201.4L916.1 201.5L916.4 201.6L916.8 201.7L917.1 201.7L917.4 201.8L917.7 201.9L918.0 201.9L918.4 202.0L918.7 202.1L919.0 202.1L919.3 202.2L919.6 202.2L920.0 202.3L920.3 202.4L920.6 202.4L920.9 202.5L921.2 202.5L921.5 202.6L921.9 202.6L922.2 202.7L922.5 202.7L922.8 202.8L923.1 202.8L923.5 202.9L923.8 202.9L924.1 203.0L924.4 203.0L924.7 203.1L925.1 203.1L925.4 203.2L925.7 203.2L926.0 203.2L926.3 203.3L926.7 203.3L927.0 203.3L927.3 203.4L927.6 203.4L927.9 203.4L928.2 203.5L928.6 203.5L928.9 203.5L929.2 203.5L929.5 203.6L929.8 203.6L930.2 203.6L930.5 203.6L930.8 203.7L931.1 203.7L931.4 203.7L931.8 203.7L932.1 203.8L932.4 203.8L932.7 203.8L933.0 203.8L933.3 203.8L933.7 203.9L934.0 203.9L934.3 203.9L934.6 203.9L934.9 203.9L935.3 204.0L935.6 204.0L935.9 204.0L936.2 204.0L936.5 204.0L936.9 204.1L937.2 204.1L937.5 204.1L937.8 204.1L938.1 204.1L938.5 204.2L938.8 204.2L939.1 204.2L939.4 204.2L939.7 204.2L940.0 204.2L940.4 204.2L940.7 204.3L941.0 204.3L941.3 204.3L941.6 204.3L942.0 204.3L942.3 204.3L942.6 204.3L942.9 204.4L943.2 204.4L943.6 204.4L943.9 204.4L944.2 204.4L944.5 204.4L944.8 204.4L945.1 204.4L945.5 204.4L945.8 204.5L946.1 204.5L946.4 204.5L946.7 204.5L947.1 204.5L947.4 204.5L947.7 204.5L948.0 204.5L948.3 204.5L948.7 204.5L949.0 204.5L949.3 204.5L949.6 204.5L949.9 204.5L950.2 204.5L950.6 204.5L950.9 204.5L951.2 204.5L951.5 204.6L951.8 204.6L952.2 204.6L952.5 204.6L952.8 204.6L953.1 204.6L953.4 204.6L953.8 204.6L954.1 204.6L954.4 204.6L954.7 204.6L955.0 204.6L955.4 204.6L955.7 204.6L956.0 204.6L956.3 204.6L956.6 204.6L956.9 204.6L957.3 204.6L957.6 204.6L957.9 204.6L958.2 204.6L958.5 204.6L958.9 204.6L959.2 204.6L959.5 204.6L959.8 204.6L960.1 204.6L960.5 204.6L960.8 204.6L961.1 204.6L961.4 204.6L961.7 204.6L962.0 204.6L962.4 204.6L962.7 204.6L963.0 204.6L963.3 204.6L963.6 204.6L964.0 204.6L964.3 204.6L964.6 204.6L964.9 204.6L965.2 204.6L965.6 204.6L965.9 204.6L966.2 204.6L966.5 204.6L966.8 204.7L967.2 204.7L967.5 204.7L967.8 204.7L968.1 204.7L968.4 204.7L968.7 204.7L969.1 204.7L969.4 204.7L969.7 204.7L970.0 204.7L970.3 204.7L970.7 204.7L971.0 204.7L971.3 204.7L971.6 204.7L971.9 204.7L972.3 204.7L972.6 204.7L972.9 204.7L973.2 204.7L973.5 204.7L973.8 204.7L974.2 204.7L974.5 204.7L974.8 204.7L975.1 204.7L975.4 204.7L975.8 204.7L976.1 204.7L976.4 204.7L976.7 204.7L977.0 204.7L977.4 204.7L977.7 204.7L978.0 204.7L978.3 204.7L978.6 204.7L979.0 204.7L979.3 204.7L979.6 204.7L979.9 204.7L980.2 204.7L980.5 204.7L980.9 204.7L981.2 204.7L981.5 204.7L981.8 204.7L982.1 204.7L982.5 204.7L982.8 204.7L983.1 204.7L983.4 204.7L983.7 204.7L984.1 204.7L984.4 204.7L984.7 204.7L985.0 204.7L985.3 204.7L985.6 204.7L986.0 204.7L986.3 204.7L986.6 204.7L986.9 204.7L987.2 204.7L987.6 204.7L987.9 204.7L988.2 204.7L988.5 204.7L988.8 204.7L989.2 204.7L989.5 204.7L989.8 204.7L990.1 204.7L990.4 204.7L990.7 204.7L991.1 204.7L991.4 204.7L991.7 204.7L992.0 204.7L992.3 204.7L992.7 204.7L993.0 204.7L993.3 204.7L993.6 204.7L993.9 204.7L994.3 204.7L994.6 204.7L994.9 204.7L995.2 204.7L995.5 204.7L995.9 204.7L996.2 204.7L996.5 204.7L996.8 204.7L997.1 204.7L997.4 204.7L997.8 204.7L998.1 204.7L998.4 204.7L998.7 204.7L999.0 204.7L999.4 204.7L999.7 204.7L1000.0 204.7L1000.3 204.7L1000.6 204.7L1001.0 204.7L1001.3 204.7L1001.6 204.7L1001.9 204.7L1002.2 204.7L1002.5 204.7L1002.9 204.7L1003.2 204.7L1003.5 204.7L1003.8 204.7L1004.1 204.7L1004.5 204.7L1004.8 204.7L1005.1 204.7L1005.4 204.7L1005.7 204.7L1006.1 204.7L1006.4 204.7L1006.7 204.7L1007.0 204.7L1007.3 204.7L1007.7 204.7L1008.0 204.7L1008.3 204.7L1008.6 204.7L1008.9 204.7L1009.2 204.7L1009.6 204.7L1009.9 204.7L1010.2 204.7L1010.5 204.7L1010.8 204.7L1011.2 204.7L1011.5 204.7L1011.8 204.7L1012.1 204.7L1012.4 204.7L1012.8 204.7L1013.1 204.7L1013.4 204.7L1013.7 204.7L1014.0 204.7L1014.3 204.7L1014.7 204.7L1015.0 204.7L1015.3 204.7L1015.6 204.7L1015.9 204.7L1016.3 204.7L1016.6 204.7L1016.9 204.7L1017.2 204.7L1017.5 204.7L1017.9 204.7L1018.2 204.7L1018.5 204.7L1018.8 204.7L1019.1 204.7L1019.5 204.7L1019.8 204.7L1020.1 204.7L1020.4 204.7L1020.7 204.7L1021.0 204.7L1021.4 204.7L1021.7 204.7L1022.0 204.7L1022.3 204.7L1022.6 204.7L1023.0 204.7L1023.3 204.7L1023.6 204.7L1023.9 204.7L1024.2 204.7L1024.6 204.7L1024.9 204.7L1025.2 204.7L1025.5 204.7L1025.8 204.7L1026.1 204.7L1026.5 204.7L1026.8 204.7L1027.1 204.7L1027.4 204.7L1027.7 204.7L1028.1 204.7L1028.4 204.7L1028.7 204.7L1029.0 204.7L1029.3 204.7L1029.7 204.7L1030.0 204.7L1030.3 204.7L1030.6 204.7L1030.9 204.7L1031.2 204.7L1031.6 204.7L1031.9 204.7L1032.2 204.7L1032.5 204.7L1032.8 204.7L1033.2 204.7L1033.5 204.7L1033.8 204.7L1034.1 204.7L1034.4 204.7L1034.8 204.7L1035.1 204.7L1035.4 204.7L1035.7 204.7L1036.0 204.7L1036.4 204.7L1036.7 204.7L1037.0 204.7L1037.3 204.7L1037.6 204.7L1037.9 204.7L1038.3 204.7L1038.6 204.7L1038.9 204.7L1039.2 204.7L1039.5 204.7L1039.9 204.7L1040.2 204.7L1040.5 204.7L1040.8 204.7L1041.1 204.7L1041.5 204.7L1041.8 204.7L1042.1 204.7L1042.4 204.7L1042.7 204.7L1043.0 204.7L1043.4 204.7L1043.7 204.7L1044.0 204.7L1044.3 204.7L1044.6 204.7L1045.0 204.7L1045.3 204.7L1045.6 204.7L1045.9 204.7L1046.2 204.7L1046.6 204.7L1046.9 204.7L1047.2 204.7L1047.5 204.7L1047.8 204.7L1048.2 204.7L1048.5 204.7L1048.8 204.7L1049.1 204.7L1049.4 204.7L1049.7 204.7L1050.1 204.7L1050.4 204.7L1050.7 204.7L1051.0 204.7L1051.3 204.7L1051.7 204.7L1052.0 204.7L1052.3 204.7L1052.6 204.7L1052.9 204.7L1053.3 204.7L1053.6 204.7L1053.9 204.7L1054.2 204.7L1054.5 204.7L1054.8 204.7L1055.2 204.7L1055.5 204.7L1055.8 204.7L1056.1 204.7L1056.4 204.7L1056.8 204.7L1057.1 204.7L1057.4 204.7L1057.7 204.7L1058.0 204.7L1058.4 204.7L1058.7 204.7L1059.0 204.7L1059.3 204.7L1059.6 204.7L1060.0 204.7L1060.3 204.7L1060.6 204.7L1060.9 204.7L1061.2 204.7L1061.5 204.7L1061.9 204.7L1062.2 204.7L1062.5 204.7L1062.8 204.7L1063.1 204.7L1063.5 204.7L1063.8 204.7L1064.1 204.7L1064.4 204.7L1064.7 204.7L1065.1 204.7L1065.4 204.7L1065.7 204.7L1066.0 204.7L1066.3 204.7L1066.6 204.7L1067.0 204.7L1067.3 204.7L1067.6 204.7L1067.9 204.7L1068.2 204.7L1068.6 204.7L1068.9 204.7L1069.2 204.7L1069.5 204.7L1069.8 204.7L1070.2 204.7L1070.5 204.7L1070.8 204.7L1071.1 204.7L1071.4 204.7L1071.8 204.7L1072.1 204.7L1072.4 204.7L1072.7 204.7L1073.0 204.7L1073.3 204.7L1073.7 204.7L1074.0 204.7L1074.3 204.7L1074.6 204.7L1074.9 204.7L1075.3 204.7L1075.6 204.7L1075.9 204.7L1076.2 204.7L1076.5 204.7L1076.9 204.7L1077.2 204.7L1077.5 204.7L1077.8 204.7L1078.1 204.7L1078.4 204.7L1078.8 204.7L1079.1 204.7L1079.4 204.7L1079.7 204.7L1080.0 204.7L1080.4 204.7L1080.7 204.7L1081.0 204.7L1081.3 204.7L1081.6 204.7L1082.0 204.7L1082.3 204.7L1082.6 204.7L1082.9 204.7L1083.2 204.7L1083.5 204.7L1083.9 204.7L1084.2 204.7L1084.5 204.7L1084.8 204.7L1085.1 204.7L1085.5 204.7L1085.8 204.7L1086.1 204.7L1086.4 204.7L1086.7 204.7L1087.1 204.7L1087.4 204.7L1087.7 204.7L1088.0 204.7L1088.3 204.7L1088.7 204.7L1089.0 204.7L1089.3 204.7L1089.6 204.7L1089.9 204.7L1090.2 204.7L1090.6 204.7L1090.9 204.7L1091.2 204.7L1091.5 204.7L1091.8 204.7L1092.2 204.7L1092.5 204.7L1092.8 204.7L1093.1 204.7L1093.4 204.7L1093.8 204.7L1094.1 204.7L1094.4 204.7L1094.7 204.7L1095.0 204.7L1095.3 204.7L1095.7 204.7L1096.0 204.7L1096.3 204.7L1096.6 204.7L1096.9 204.7L1097.3 204.7L1097.6 204.7L1097.9 204.7L1098.2 204.7L1098.5 204.7L1098.9 204.7L1099.2 204.7L1099.5 204.7L1099.8 204.7L1100.1 204.7L1100.5 204.7L1100.8 204.7L1101.1 204.7L1101.4 204.7L1101.7 204.7L1102.0 204.7L1102.4 204.7L1102.7 204.7L1103.0 204.7L1103.3 204.7L1103.6 204.7L1104.0 204.7L1104.3 204.7L1104.6 204.7L1104.9 204.7L1105.2 204.7L1105.6 204.7L1105.9 204.7L1106.2 204.7L1106.5 204.7L1106.8 204.7L1107.1 204.7L1107.5 204.7L1107.8 204.7L1108.1 204.7L1108.4 204.7L1108.7 204.7L1109.1 204.7L1109.4 204.7L1109.7 204.7L1110.0 204.7L1110.3 204.7L1110.7 204.7L1111.0 204.7L1111.3 204.7L1111.6 204.7L1111.9 204.7L1112.3 204.7L1112.6 204.7L1112.9 204.7L1113.2 204.7L1113.5 204.7L1113.8 204.7L1114.2 204.7L1114.5 204.7L1114.8 204.7L1115.1 204.7L1115.4 204.7L1115.8 204.7L1116.1 204.7L1116.4 204.7L1116.7 204.7L1117.0 204.7L1117.4 204.7L1117.7 204.7L1118.0 204.7L1118.3 204.7L1118.6 204.7L1118.9 204.7L1119.3 204.7L1119.6 204.7L1119.9 204.7L1120.2 204.7L1120.5 204.7L1120.9 204.7L1121.2 204.7L1121.5 204.7L1121.8 204.7L1122.1 204.7L1122.5 204.7L1122.8 204.7L1123.1 204.7L1123.4 204.7L1123.7 204.7L1124.0 204.7L1124.4 204.7L1124.7 204.7L1125.0 204.7L1125.3 204.7L1125.6 204.7L1126.0 204.7L1126.3 204.7L1126.6 204.7L1126.9 204.7L1127.2 204.7L1127.6 204.7L1127.9 204.7L1128.2 204.7L1128.5 204.7L1128.8 204.7L1129.2 204.7L1129.5 204.7L1129.8 204.7L1130.1 204.7L1130.4 204.7L1130.7 204.7L1131.1 204.7L1131.4 204.7L1131.7 204.7L1132.0 204.7L1132.3 204.7L1132.7 204.7L1133.0 204.7L1133.3 204.7L1133.6 204.7L1133.9 204.7L1134.3 204.7L1134.6 204.7L1134.9 204.7L1135.2 204.7L1135.5 204.7L1135.8 204.7L1136.2 204.7L1136.5 204.7L1136.8 204.7L1137.1 204.7L1137.4 204.7L1137.8 204.7L1138.1 204.7L1138.4 204.7L1138.7 204.7L1139.0 204.7L1139.4 204.7L1139.7 204.7L1140.0 204.7L1140.3 204.7L1140.6 204.7L1141.0 204.7L1141.3 204.7L1141.6 204.7L1141.9 204.7L1142.2 204.7L1142.5 204.7L1142.9 204.7L1143.2 204.7L1143.5 204.7L1143.8 204.7L1144.1 204.7L1144.5 204.7L1144.8 204.7L1145.1 204.7L1145.4 204.7L1145.7 204.7L1146.1 204.7L1146.4 204.7L1146.7 204.7L1147.0 204.7L1147.3 204.7L1147.6 204.7L1148.0 204.7L1148.3 204.7L1148.6 204.7L1148.9 204.7L1149.2 204.7L1149.6 204.7L1149.9 204.7L1150.2 204.7L1150.5 204.7L1150.8 204.7L1151.2 204.7L1151.5 204.7L1151.8 204.7L1152.1 204.7L1152.4 204.7L1152.8 204.7L1153.1 204.7L1153.4 204.7L1153.7 204.7L1154.0 204.7L1154.3 204.7L1154.7 204.7L1155.0 204.7L1155.3 204.7L1155.6 204.7L1155.9 204.7L1156.3 204.7L1156.6 204.7L1156.9 204.7L1157.2 204.7L1157.5 204.7L1157.9 204.7L1158.2 204.7L1158.5 204.7L1158.8 204.7L1159.1 204.7L1159.4 204.7L1159.8 204.7L1160.1 204.7L1160.4 204.7L1160.7 204.7L1161.0 204.7L1161.4 204.7L1161.7 204.7L1162.0 204.7L1162.3 204.7L1162.6 204.7L1163.0 204.7L1163.3 204.7L1163.6 204.7L1163.9 204.7L1164.2 204.7L1164.6 204.7L1164.9 204.7L1165.2 204.7L1165.5 204.7L1165.8 204.7L1166.1 204.7L1166.5 204.7L1166.8 204.7L1167.1 204.7L1167.4 204.7L1167.7 204.7L1168.1 204.7L1168.4 204.7L1168.7 204.7L1169.0 204.7L1169.3 204.7L1169.7 204.7L1170.0 204.7L1170.3 204.7L1170.6 204.7L1170.9 204.7L1171.2 204.7L1171.6 204.7L1171.9 204.7L1172.2 204.7L1172.5 204.7L1172.8 204.7L1173.2 204.7L1173.5 204.7L1173.8 204.7L1174.1 204.7L1174.4 204.7L1174.8 204.7L1175.1 204.7L1175.4 204.7L1175.7 204.7L1176.0 204.7L1176.3 204.7L1176.7 204.7L1177.0 204.7L1177.3 204.7L1177.6 204.7L1177.9 204.7L1178.3 204.7L1178.6 204.7L1178.9 204.7L1179.2 204.7L1179.5 204.7L1179.9 204.7L1180.2 204.7L1180.5 204.7L1180.8 204.7L1181.1 204.7L1181.5 204.7L1181.8 204.7L1182.1 204.7L1182.4 204.7L1182.7 204.7L1183.0 204.7L1183.4 204.7L1183.7 204.7L1184.0 204.7L1184.3 204.7L1184.6 204.7L1185.0 204.7L1185.3 204.7L1185.6 204.7L1185.9 204.7L1186.2 204.7L1186.6 204.7L1186.9 204.7L1187.2 204.7L1187.5 204.7L1187.8 204.7L1188.1 204.7L1188.5 204.7L1188.8 204.7L1189.1 204.7L1189.4 204.7L1189.7 204.7L1190.1 204.7L1190.4 204.7L1190.7 204.7" fill="none" stroke="#000000" stroke-width="2.2" stroke-linejoin="round"/><text class="b" x="1030.85" y="286.90" font-size="12.85" text-anchor="middle">Time</text><text class="b" transform="translate(841.80 128.45) rotate(-90)" font-size="12.85" text-anchor="middle">T</text><text class="cap" x="1021.20" y="310.70" font-size="20.6" text-anchor="middle">(c)</text><rect x="1077.30" y="11.40" width="105.40" height="31.00" fill="#fff" stroke="#222222" stroke-width="1"/><path d="M1080.50 20.00h29.5" stroke="#ff00ff" stroke-width="2"/><path d="M1080.50 34.50h29.5" stroke="#000000" stroke-width="2"/><text class="b" x="1112.50" y="24.40" font-size="10.5">Stochastic</text><text class="b" x="1112.50" y="38.90" font-size="10.5">Deterministic</text></g><g><rect x="181.40" y="354.00" width="319.00" height="248.70" fill="none" stroke="#222222" stroke-width="1.15"/><text class="b" x="181.40" y="619.90" font-size="11.4" text-anchor="middle">0</text><text class="b" x="245.20" y="619.90" font-size="11.4" text-anchor="middle">100</text><text class="b" x="309.00" y="619.90" font-size="11.4" text-anchor="middle">200</text><text class="b" x="372.80" y="619.90" font-size="11.4" text-anchor="middle">300</text><text class="b" x="436.60" y="619.90" font-size="11.4" text-anchor="middle">400</text><text class="b" x="500.40" y="619.90" font-size="11.4" text-anchor="middle">500</text><text class="b" x="176.70" y="607.45" font-size="11.4" text-anchor="end">10</text><text class="b" x="176.70" y="579.82" font-size="11.4" text-anchor="end">20</text><text class="b" x="176.70" y="552.18" font-size="11.4" text-anchor="end">30</text><text class="b" x="176.70" y="524.55" font-size="11.4" text-anchor="end">40</text><text class="b" x="176.70" y="496.92" font-size="11.4" text-anchor="end">50</text><text class="b" x="176.70" y="469.28" font-size="11.4" text-anchor="end">60</text><text class="b" x="176.70" y="441.65" font-size="11.4" text-anchor="end">70</text><text class="b" x="176.70" y="414.02" font-size="11.4" text-anchor="end">80</text><text class="b" x="176.70" y="386.38" font-size="11.4" text-anchor="end">90</text><text class="b" x="176.70" y="358.75" font-size="11.4" text-anchor="end">100</text><path d="M181.40 602.70v-3.40M181.40 354.00v3.40M245.20 602.70v-3.40M245.20 354.00v3.40M309.00 602.70v-3.40M309.00 354.00v3.40M372.80 602.70v-3.40M372.80 354.00v3.40M436.60 602.70v-3.40M436.60 354.00v3.40M500.40 602.70v-3.40M500.40 354.00v3.40M181.40 602.70h3.40M500.40 602.70h-3.40M181.40 575.07h3.40M500.40 575.07h-3.40M181.40 547.43h3.40M500.40 547.43h-3.40M181.40 519.80h3.40M500.40 519.80h-3.40M181.40 492.17h3.40M500.40 492.17h-3.40M181.40 464.53h3.40M500.40 464.53h-3.40M181.40 436.90h3.40M500.40 436.90h-3.40M181.40 409.27h3.40M500.40 409.27h-3.40M181.40 381.63h3.40M500.40 381.63h-3.40M181.40 354.00h3.40M500.40 354.00h-3.40" stroke="#222222" stroke-width="1.15" fill="none"/><path d="M181.4 354.0L181.7 377.7L182.0 396.3L182.3 410.5L182.5 423.2L182.8 435.9L183.1 446.6L183.4 454.7L183.7 461.3L184.0 451.5L184.3 423.3L184.6 432.6L184.8 440.3L185.1 446.5L185.4 455.6L185.7 465.6L186.0 474.4L186.3 464.2L186.6 471.9L186.9 477.8L187.1 480.9L187.4 487.1L187.7 492.0L188.0 481.9L188.3 483.8L188.6 477.4L188.9 483.5L189.2 493.0L189.4 489.2L189.7 471.2L190.0 462.4L190.3 474.3L190.6 481.7L190.9 485.9L191.2 508.8L191.4 509.5L191.7 499.4L192.0 490.4L192.3 504.9L192.6 492.0L192.9 506.1L193.2 509.8L193.5 518.0L193.7 492.5L194.0 494.6L194.3 471.5L194.6 479.1L194.9 489.5L195.2 512.3L195.5 497.4L195.8 514.1L196.0 521.5L196.3 538.9L196.6 519.4L196.9 515.9L197.2 528.1L197.5 526.2L197.8 524.5L198.1 460.4L198.3 527.5L198.6 517.6L198.9 531.5L199.2 534.2L199.5 529.8L199.8 539.7L200.1 526.6L200.3 506.4L200.6 506.9L200.9 515.6L201.2 508.5L201.5 525.0L201.8 515.2L202.1 508.2L202.4 507.7L202.6 520.8L202.9 512.6L203.2 505.7L203.5 522.8L203.8 516.7L204.1 532.7L204.4 538.7L204.7 520.2L204.9 519.8L205.2 515.0L205.5 517.0L205.8 512.3L206.1 500.0L206.4 488.3L206.7 502.8L207.0 517.9L207.2 499.9L207.5 502.7L207.8 503.9L208.1 515.2L208.4 507.4L208.7 528.9L209.0 536.0L209.2 561.4L209.5 552.3L209.8 547.6L210.1 538.3L210.4 530.1L210.7 533.4L211.0 515.0L211.3 532.6L211.5 531.3L211.8 525.7L212.1 535.7L212.4 522.7L212.7 518.0L213.0 522.7L213.3 505.5L213.6 514.5L213.8 516.1L214.1 528.9L214.4 539.5L214.7 536.3L215.0 535.9L215.3 538.6L215.6 530.9L215.9 554.6L216.1 551.0L216.4 556.8L216.7 534.5L217.0 543.9L217.3 545.1L217.6 549.4L217.9 534.7L218.1 542.5L218.4 543.5L218.7 564.4L219.0 547.8L219.3 554.0L219.6 556.5L219.9 545.6L220.2 549.8L220.4 546.1L220.7 534.2L221.0 529.6L221.3 536.9L221.6 537.8L221.9 543.7L222.2 537.3L222.5 535.9L222.7 539.6L223.0 523.4L223.3 543.4L223.6 534.9L223.9 515.8L224.2 531.9L224.5 548.5L224.8 533.0L225.0 540.4L225.3 559.1L225.6 547.3L225.9 556.7L226.2 559.6L226.5 549.7L226.8 548.8L227.0 553.9L227.3 551.2L227.6 557.0L227.9 551.6L228.2 552.6L228.5 547.8L228.8 556.1L229.1 564.7L229.3 566.6L229.6 559.2L229.9 542.4L230.2 539.0L230.5 545.1L230.8 529.8L231.1 538.2L231.4 521.0L231.6 532.7L231.9 529.4L232.2 532.9L232.5 543.5L232.8 543.4L233.1 550.5L233.4 542.1L233.7 529.3L233.9 512.9L234.2 519.4L234.5 533.4L234.8 548.7L235.1 540.1L235.4 563.1L235.7 565.4L235.9 553.1L236.2 559.2L236.5 536.4L236.8 532.2L237.1 540.8L237.4 546.9L237.7 559.1L238.0 566.8L238.2 559.0L238.5 560.7L238.8 561.3L239.1 558.3L239.4 560.9L239.7 551.3L240.0 560.2L240.3 549.9L240.5 537.1L240.8 535.8L241.1 549.2L241.4 551.0L241.7 536.8L242.0 527.7L242.3 548.0L242.6 541.2L242.8 532.0L243.1 521.5L243.4 536.7L243.7 529.6L244.0 536.4L244.3 518.5L244.6 530.7L244.8 538.4L245.1 542.4L245.4 533.6L245.7 535.6L246.0 549.9L246.3 539.4L246.6 546.6L246.9 541.0L247.1 541.4L247.4 539.1L247.7 536.5L248.0 539.9L248.3 530.8L248.6 528.7L248.9 537.8L249.2 545.2L249.4 531.1L249.7 548.9L250.0 550.9L250.3 530.1L250.6 526.0L250.9 522.1L251.2 529.9L251.5 538.8L251.7 534.3L252.0 526.9L252.3 538.0L252.6 541.9L252.9 550.1L253.2 552.2L253.5 538.4L253.7 539.0L254.0 552.1L254.3 554.6L254.6 551.8L254.9 542.2L255.2 551.4L255.5 544.1L255.8 556.0L256.0 550.1L256.3 536.0L256.6 532.1L256.9 548.9L257.2 551.3L257.5 541.7L257.8 549.7L258.1 549.6L258.3 539.4L258.6 537.7L258.9 528.4L259.2 526.9L259.5 535.2L259.8 531.5L260.1 528.5L260.4 535.9L260.6 532.6L260.9 518.4L261.2 535.7L261.5 520.2L261.8 523.1L262.1 527.6L262.4 526.9L262.6 530.5L262.9 528.8L263.2 544.0L263.5 548.9L263.8 552.4L264.1 539.2L264.4 546.0L264.7 564.0L264.9 565.4L265.2 566.3L265.5 557.3L265.8 550.8L266.1 530.5L266.4 554.6L266.7 536.9L267.0 538.4L267.2 547.6L267.5 545.4L267.8 547.8L268.1 542.4L268.4 530.4L268.7 544.0L269.0 522.0L269.3 527.3L269.5 513.8L269.8 524.4L270.1 524.2L270.4 533.1L270.7 534.8L271.0 545.6L271.3 553.2L271.5 542.9L271.8 540.0L272.1 528.5L272.4 556.6L272.7 545.6L273.0 531.4L273.3 543.7L273.6 536.0L273.8 514.1L274.1 519.6L274.4 541.3L274.7 531.3L275.0 534.3L275.3 541.1L275.6 544.2L275.9 545.0L276.1 552.7L276.4 550.8L276.7 540.1L277.0 537.7L277.3 519.1L277.6 527.2L277.9 539.6L278.2 521.5L278.4 513.0L278.7 511.5L279.0 514.2L279.3 522.0L279.6 506.6L279.9 521.6L280.2 516.6L280.4 525.4L280.7 536.3L281.0 520.9L281.3 549.1L281.6 542.9L281.9 532.8L282.2 537.8L282.5 531.3L282.7 538.3L283.0 546.0L283.3 530.9L283.6 549.1L283.9 555.5L284.2 565.0L284.5 559.0L284.8 543.3L285.0 536.8L285.3 535.8L285.6 537.7L285.9 530.0L286.2 547.9L286.5 542.5L286.8 542.0L287.1 547.7L287.3 540.4L287.6 544.7L287.9 546.2L288.2 526.3L288.5 530.0L288.8 529.4L289.1 539.9L289.3 537.0L289.6 539.8L289.9 538.9L290.2 528.8L290.5 544.9L290.8 543.2L291.1 543.9L291.4 561.6L291.6 558.1L291.9 545.7L292.2 539.0L292.5 547.3L292.8 536.4L293.1 532.4L293.4 542.9L293.7 529.8L293.9 523.4L294.2 530.6L294.5 540.8L294.8 521.2L295.1 526.7L295.4 526.6L295.7 519.9L296.0 523.0L296.2 515.1L296.5 518.6L296.8 518.7L297.1 526.3L297.4 541.7L297.7 545.6L298.0 543.8L298.2 558.4L298.5 542.2L298.8 566.2L299.1 570.4L299.4 556.3L299.7 554.7L300.0 558.5L300.3 559.0L300.5 556.6L300.8 554.6L301.1 556.3L301.4 566.3L301.7 564.4L302.0 558.4L302.3 555.7L302.6 579.6L302.8 568.9L303.1 563.3L303.4 554.6L303.7 546.2L304.0 535.3L304.3 532.0L304.6 533.4L304.9 532.4L305.1 519.7L305.4 535.6L305.7 532.2L306.0 522.4L306.3 531.6L306.6 554.4L306.9 543.2L307.1 549.3L307.4 551.1L307.7 542.5L308.0 542.3L308.3 545.5L308.6 535.2L308.9 534.3L309.2 536.5L309.4 538.9L309.7 542.4L310.0 550.2L310.3 555.3L310.6 555.1L310.9 564.0L311.2 569.8L311.5 553.3L311.7 563.4L312.0 565.2L312.3 566.0L312.6 565.0L312.9 564.7L313.2 564.3L313.5 570.8L313.8 557.1L314.0 565.3L314.3 552.4L314.6 570.8L314.9 566.6L315.2 543.8L315.5 541.8L315.8 539.5L316.0 525.2L316.3 527.2L316.6 525.9L316.9 550.9L317.2 549.7L317.5 558.1L317.8 557.9L318.1 550.9L318.3 554.8L318.6 530.2L318.9 535.3L319.2 540.7L319.5 540.1L319.8 513.1L320.1 519.4L320.4 524.7L320.6 526.3L320.9 531.3L321.2 518.3L321.5 530.5L321.8 522.6L322.1 540.0L322.4 562.0L322.7 541.1L322.9 545.8L323.2 545.4L323.5 531.3L323.8 542.5L324.1 535.7L324.4 544.7L324.7 553.6L325.0 547.3L325.2 555.5L325.5 541.1L325.8 538.7L326.1 543.5L326.4 538.8L326.7 536.7L327.0 540.8L327.2 531.0L327.5 535.7L327.8 528.5L328.1 537.2L328.4 533.0L328.7 531.6L329.0 542.1L329.3 543.1L329.5 545.8L329.8 534.4L330.1 540.2L330.4 530.1L330.7 517.3L331.0 521.0L331.3 535.8L331.6 525.3L331.8 515.7L332.1 523.4L332.4 513.9L332.7 517.1L333.0 521.7L333.3 529.9L333.6 535.7L333.9 537.1L334.1 535.9L334.4 531.9L334.7 532.0L335.0 537.5L335.3 535.8L335.6 533.5L335.9 549.5L336.1 547.2L336.4 547.9L336.7 544.6L337.0 544.9L337.3 543.4L337.6 546.7L337.9 534.5L338.2 534.1L338.4 548.1L338.7 543.3L339.0 554.7L339.3 539.3L339.6 556.4L339.9 563.1L340.2 555.0L340.5 551.6L340.7 545.9L341.0 528.6L341.3 531.3L341.6 528.2L341.9 526.0L342.2 542.0L342.5 525.5L342.8 530.3L343.0 532.0L343.3 549.0L343.6 542.4L343.9 546.9L344.2 557.8L344.5 532.5L344.8 531.8L345.0 530.0L345.3 518.5L345.6 503.0L345.9 501.4L346.2 515.1L346.5 521.2L346.8 528.5L347.1 558.6L347.3 562.4L347.6 565.2L347.9 557.6L348.2 545.6L348.5 548.9L348.8 561.1L349.1 554.4L349.4 540.0L349.6 546.0L349.9 541.0L350.2 536.4L350.5 559.0L350.8 549.5L351.1 556.7L351.4 562.1L351.7 579.5L351.9 576.5L352.2 571.6L352.5 561.2L352.8 557.6L353.1 553.4L353.4 543.1L353.7 546.6L353.9 564.6L354.2 569.6L354.5 554.5L354.8 565.1L355.1 552.8L355.4 547.2L355.7 560.9L356.0 560.1L356.2 555.2L356.5 559.1L356.8 558.7L357.1 552.0L357.4 539.0L357.7 545.0L358.0 543.2L358.3 543.7L358.5 549.4L358.8 527.8L359.1 550.7L359.4 540.4L359.7 527.1L360.0 537.2L360.3 522.0L360.6 513.6L360.8 529.1L361.1 524.9L361.4 534.8L361.7 525.3L362.0 526.6L362.3 524.6L362.6 514.5L362.8 518.3L363.1 511.5L363.4 515.2L363.7 531.9L364.0 525.7L364.3 524.3L364.6 540.2L364.9 524.0L365.1 533.4L365.4 535.7L365.7 548.5L366.0 546.5L366.3 547.1L366.6 546.1L366.9 538.8L367.2 549.9L367.4 521.6L367.7 530.6L368.0 545.6L368.3 543.7L368.6 546.5L368.9 540.8L369.2 554.8L369.5 549.0L369.7 557.4L370.0 535.4L370.3 543.9L370.6 535.2L370.9 551.5L371.2 535.9L371.5 539.6L371.7 523.1L372.0 513.5L372.3 528.5L372.6 530.7L372.9 533.3L373.2 538.3L373.5 535.4L373.8 538.2L374.0 543.9L374.3 534.8L374.6 531.0L374.9 545.9L375.2 543.4L375.5 536.8L375.8 535.9L376.1 537.9L376.3 525.4L376.6 521.6L376.9 522.0L377.2 528.4L377.5 512.8L377.8 511.2L378.1 527.6L378.4 536.0L378.6 533.5L378.9 553.9L379.2 554.7L379.5 563.4L379.8 565.2L380.1 558.7L380.4 564.3L380.6 554.3L380.9 560.0L381.2 532.3L381.5 535.6L381.8 541.1L382.1 552.1L382.4 551.8L382.7 546.5L382.9 543.7L383.2 540.5L383.5 550.3L383.8 538.8L384.1 544.9L384.4 553.6L384.7 557.0L385.0 547.9L385.2 543.4L385.5 557.8L385.8 531.0L386.1 522.5L386.4 529.6L386.7 526.4L387.0 521.6L387.3 515.9L387.5 527.3L387.8 537.2L388.1 530.4L388.4 550.0L388.7 540.9L389.0 534.8L389.3 543.5L389.5 545.1L389.8 549.5L390.1 545.5L390.4 547.0L390.7 552.7L391.0 547.1L391.3 543.6L391.6 537.0L391.8 536.0L392.1 548.0L392.4 562.4L392.7 568.2L393.0 560.4L393.3 543.7L393.6 545.1L393.9 545.0L394.1 547.2L394.4 534.0L394.7 534.6L395.0 536.0L395.3 533.8L395.6 520.1L395.9 532.0L396.2 521.2L396.4 523.2L396.7 533.3L397.0 529.8L397.3 541.6L397.6 555.4L397.9 559.6L398.2 570.9L398.4 568.1L398.7 570.2L399.0 561.2L399.3 553.3L399.6 574.6L399.9 552.2L400.2 560.1L400.5 544.9L400.7 547.5L401.0 538.4L401.3 524.9L401.6 544.4L401.9 534.9L402.2 535.6L402.5 550.0L402.8 534.1L403.0 535.4L403.3 537.0L403.6 536.7L403.9 506.8L404.2 523.3L404.5 536.7L404.8 541.0L405.1 544.0L405.3 551.0L405.6 556.5L405.9 571.2L406.2 554.7L406.5 554.5L406.8 556.4L407.1 547.9L407.3 538.3L407.6 530.9L407.9 535.5L408.2 545.7L408.5 548.0L408.8 550.1L409.1 534.6L409.4 549.2L409.6 541.7L409.9 536.0L410.2 545.4L410.5 537.8L410.8 536.1L411.1 540.0L411.4 532.4L411.7 526.8L411.9 524.2L412.2 533.0L412.5 531.1L412.8 513.6L413.1 535.6L413.4 531.4L413.7 529.4L414.0 537.8L414.2 539.0L414.5 546.2L414.8 544.3L415.1 537.0L415.4 545.0L415.7 541.5L416.0 540.7L416.2 542.7L416.5 544.8L416.8 557.2L417.1 548.9L417.4 543.5L417.7 545.5L418.0 549.2L418.3 567.5L418.5 553.0L418.8 567.6L419.1 566.2L419.4 545.0L419.7 557.7L420.0 540.7L420.3 536.4L420.6 533.8L420.8 541.0L421.1 534.4L421.4 541.4L421.7 532.9L422.0 531.5L422.3 554.9L422.6 557.2L422.9 560.3L423.1 571.5L423.4 577.3L423.7 568.3L424.0 566.3L424.3 574.8L424.6 566.1L424.9 554.3L425.1 562.9L425.4 560.2L425.7 538.3L426.0 533.8L426.3 552.9L426.6 551.4L426.9 533.8L427.2 538.2L427.4 528.0L427.7 523.5L428.0 513.1L428.3 536.7L428.6 539.2L428.9 534.9L429.2 518.1L429.5 524.8L429.7 538.4L430.0 525.1L430.3 521.4L430.6 528.6L430.9 532.1L431.2 535.0L431.5 536.5L431.8 551.5L432.0 558.3L432.3 570.8L432.6 568.6L432.9 567.9L433.2 554.5L433.5 551.6L433.8 546.3L434.0 535.1L434.3 534.8L434.6 530.4L434.9 546.6L435.2 532.1L435.5 538.1L435.8 541.3L436.1 542.4L436.3 527.3L436.6 527.3L436.9 539.1L437.2 544.5L437.5 536.8L437.8 538.8L438.1 523.1L438.4 544.8L438.6 553.8L438.9 545.3L439.2 543.3L439.5 543.6L439.8 536.9L440.1 519.4L440.4 529.1L440.7 527.4L440.9 531.1L441.2 513.9L441.5 507.6L441.8 515.5L442.1 506.9L442.4 514.6L442.7 506.5L442.9 518.6L443.2 535.6L443.5 539.9L443.8 551.7L444.1 559.4L444.4 547.6L444.7 543.0L445.0 536.2L445.2 552.3L445.5 559.2L445.8 556.8L446.1 532.6L446.4 524.4L446.7 522.3L447.0 504.3L447.3 510.1L447.5 536.8L447.8 529.1L448.1 539.0L448.4 551.7L448.7 550.2L449.0 528.3L449.3 521.0L449.6 512.8L449.8 529.2L450.1 526.4L450.4 512.4L450.7 523.8L451.0 520.5L451.3 526.2L451.6 504.2L451.8 514.2L452.1 528.2L452.4 540.2L452.7 554.9L453.0 559.2L453.3 547.7L453.6 552.2L453.9 535.2L454.1 541.7L454.4 544.7L454.7 531.3L455.0 541.2L455.3 539.5L455.6 548.2L455.9 564.4L456.2 543.5L456.4 551.4L456.7 532.3L457.0 546.2L457.3 549.5L457.6 534.9L457.9 531.5L458.2 533.8L458.5 544.7L458.7 531.5L459.0 541.3L459.3 531.5L459.6 527.7L459.9 519.7L460.2 504.5L460.5 517.1L460.7 514.3L461.0 516.2L461.3 538.4L461.6 542.2L461.9 538.6L462.2 541.0L462.5 536.2L462.8 553.7L463.0 538.7L463.3 533.3L463.6 535.8L463.9 542.6L464.2 530.5L464.5 529.2L464.8 522.2L465.1 530.1L465.3 529.2L465.6 541.4L465.9 533.3L466.2 561.8L466.5 557.5L466.8 545.5L467.1 558.5L467.4 544.3L467.6 553.6L467.9 537.6L468.2 535.3L468.5 524.4L468.8 510.9L469.1 507.6L469.4 519.8L469.6 511.0L469.9 533.4L470.2 553.3L470.5 549.6L470.8 546.8L471.1 542.4L471.4 536.3L471.7 554.9L471.9 542.6L472.2 538.1L472.5 544.4L472.8 542.4L473.1 562.3L473.4 550.0L473.7 532.4L474.0 559.0L474.2 557.7L474.5 554.0L474.8 554.0L475.1 548.7L475.4 576.1L475.7 570.6L476.0 566.0L476.3 584.3L476.5 571.9L476.8 545.7L477.1 536.6L477.4 532.5L477.7 547.3L478.0 532.3L478.3 531.6L478.5 541.5L478.8 546.4L479.1 530.6L479.4 551.4L479.7 560.4L480.0 552.4L480.3 554.4L480.6 554.1L480.8 551.8L481.1 544.4L481.4 546.5L481.7 557.4L482.0 551.1L482.3 545.3L482.6 553.3L482.9 544.2L483.1 546.8L483.4 562.3L483.7 556.9L484.0 543.1L484.3 543.8L484.6 556.4L484.9 552.0L485.2 563.2L485.4 567.3L485.7 549.7L486.0 545.3L486.3 539.2L486.6 538.9L486.9 530.1L487.2 528.8L487.4 515.2L487.7 504.0L488.0 502.7L488.3 499.9L488.6 523.8L488.9 525.4L489.2 513.1L489.5 512.6L489.7 524.6L490.0 529.3L490.3 539.0L490.6 528.6L490.9 523.3L491.2 543.5L491.5 538.5L491.8 543.9L492.0 551.2L492.3 570.4L492.6 562.0L492.9 570.6L493.2 545.9L493.5 547.3L493.8 553.6L494.1 534.9L494.3 536.7L494.6 553.8L494.9 538.6L495.2 562.9L495.5 558.5L495.8 544.4L496.1 562.7L496.3 536.4L496.6 534.2L496.9 529.4L497.2 540.8L497.5 534.9L497.8 547.3L498.1 551.3L498.4 550.8L498.6 555.0L498.9 534.0L499.2 551.1L499.5 549.4L499.8 545.1L500.1 542.3L500.4 536.1" fill="none" stroke="#000000" stroke-width="2.4" stroke-linejoin="round"/><path d="M181.4 354.0L181.4 356.8L181.5 359.6L181.5 362.3L181.5 365.0L181.6 367.6L181.6 370.2L181.6 372.8L181.7 375.2L181.7 377.7L181.7 380.0L181.8 382.3L181.8 384.5L181.8 386.7L181.8 388.8L181.9 390.8L181.9 392.7L181.9 394.5L182.0 396.3L182.0 398.1L182.0 399.8L182.1 401.4L182.1 403.0L182.1 404.5L182.2 406.1L182.2 407.6L182.2 409.0L182.3 410.5L182.3 411.9L182.3 413.3L182.4 414.7L182.4 416.1L182.4 417.5L182.5 418.9L182.5 420.3L182.5 421.7L182.5 423.2L182.6 424.6L182.6 426.1L182.6 427.5L182.7 428.9L182.7 430.4L182.7 431.8L182.8 433.2L182.8 434.6L182.8 435.9L182.9 437.3L182.9 438.6L182.9 439.9L183.0 441.1L183.0 442.3L183.0 443.4L183.1 444.5L183.1 445.6L183.1 446.6L183.2 447.5L183.2 448.5L183.2 449.4L183.3 450.3L183.3 451.2L183.3 452.1L183.3 453.0L183.4 453.9L183.4 454.7L183.4 455.5L183.5 456.3L183.5 457.1L183.5 457.9L183.6 458.6L183.6 459.3L183.6 460.0L183.7 460.7L183.7 461.3L183.7 461.9L183.8 462.5L183.8 463.1L183.8 463.6L183.9 464.1L183.9 464.5L183.9 465.0L184.0 465.4L184.0 465.8L184.0 466.2L184.0 466.6L184.1 467.0L184.1 467.4L184.1 467.8L184.2 468.1L184.2 468.5L184.2 468.8L184.3 469.2L184.3 469.5L184.3 469.9L184.4 470.2L184.4 470.5L184.4 470.8L184.5 471.1L184.5 471.4L184.5 471.7L184.6 472.0L184.6 472.3L184.6 472.6L184.7 472.9L184.7 473.1L184.7 473.4L184.7 473.7L184.8 473.9L184.8 474.2L184.8 474.4L184.9 474.7L184.9 474.9L184.9 475.2L185.0 475.4L185.0 475.6L185.0 475.9L185.1 476.1L185.1 476.3L185.1 476.6L185.2 476.8L185.2 477.0L185.2 477.2L185.3 477.5L185.3 477.7L185.3 477.9L185.4 478.1L185.4 478.4L185.4 478.6L185.5 478.8L185.5 479.0L185.5 479.2L185.5 479.5L185.6 479.7L185.6 479.9L185.6 480.1L185.7 480.3L185.7 480.6L185.7 480.8L185.8 481.0L185.8 481.2L185.8 481.4L185.9 481.6L185.9 481.8L185.9 482.0L186.0 482.2L186.0 482.4L186.0 482.7L186.1 482.9L186.1 483.1L186.1 483.3L186.2 483.5L186.2 483.7L186.2 483.9L186.2 484.1L186.3 484.2L186.3 484.4L186.3 484.6L186.4 484.8L186.4 485.0L186.4 485.2L186.5 485.4L186.5 485.6L186.5 485.8L186.6 485.9L186.6 486.1L186.6 486.3L186.7 486.5L186.7 486.7L186.7 486.8L186.8 487.0L186.8 487.2L186.8 487.4L186.9 487.5L186.9 487.7L186.9 487.9L187.0 488.0L187.0 488.2L187.0 488.4L187.0 488.5L187.1 488.7L187.1 488.9L187.1 489.0L187.2 489.2L187.2 489.3L187.2 489.5L187.3 489.6L187.3 489.8L187.3 489.9L187.4 490.1L187.4 490.2L187.4 490.4L187.5 490.5L187.5 490.7L187.5 490.8L187.6 491.0L187.6 491.1L187.6 491.2L187.7 491.4L187.7 491.5L187.7 491.6L187.7 491.8L187.8 491.9L187.8 492.0L187.8 492.1L187.9 492.3L187.9 492.4L187.9 492.5L188.0 492.6L188.0 492.8L188.0 492.9L188.1 493.0L188.1 493.1L188.1 493.3L188.2 493.4L188.2 493.5L188.2 493.6L188.3 493.7L188.3 493.8L188.3 494.0L188.4 494.1L188.4 494.2L188.4 494.3L188.4 494.4L188.5 494.5L188.5 494.6L188.5 494.7L188.6 494.9L188.6 495.0L188.6 495.1L188.7 495.2L188.7 495.3L188.7 495.4L188.8 495.5L188.8 495.6L188.8 495.7L188.9 495.8L188.9 495.9L188.9 496.0L189.0 496.1L189.0 496.2L189.0 496.3L189.1 496.4L189.1 496.5L189.1 496.6L189.2 496.7L189.2 496.8L189.2 496.9L189.2 497.0L189.3 497.1L189.3 497.2L189.3 497.3L189.4 497.4L189.4 497.5L189.4 497.6L189.5 497.7L189.5 497.8L189.5 497.9L189.6 498.0L189.6 498.0L189.6 498.1L189.7 498.2L189.7 498.3L189.7 498.4L189.8 498.5L189.8 498.6L189.8 498.7L189.9 498.8L189.9 498.8L189.9 498.9L189.9 499.0L190.0 499.1L190.0 499.2L190.0 499.3L190.1 499.4L190.1 499.4L190.1 499.5L190.2 499.6L190.2 499.7L190.2 499.8L190.3 499.9L190.3 500.0L190.3 500.0L190.4 500.1L190.4 500.2L190.4 500.3L190.5 500.4L190.5 500.4L190.5 500.5L190.6 500.6L190.6 500.7L190.6 500.8L190.7 500.8L190.7 500.9L190.7 501.0L190.7 501.1L190.8 501.2L190.8 501.2L190.8 501.3L190.9 501.4L190.9 501.5L190.9 501.6L191.0 501.6L191.3 502.4L191.6 503.2L191.9 503.9L192.2 504.7L192.6 505.4L192.9 506.1L193.2 506.7L193.5 507.4L193.8 508.1L194.2 508.7L194.5 509.3L194.8 509.9L195.1 510.5L195.4 511.1L195.8 511.6L196.1 512.2L196.4 512.7L196.7 513.2L197.0 513.7L197.3 514.2L197.7 514.7L198.0 515.2L198.3 515.6L198.6 516.1L198.9 516.6L199.3 517.0L199.6 517.4L199.9 517.9L200.2 518.3L200.5 518.7L200.9 519.2L201.2 519.6L201.5 520.0L201.8 520.4L202.1 520.8L202.5 521.1L202.8 521.5L203.1 521.9L203.4 522.3L203.7 522.6L204.0 523.0L204.4 523.3L204.7 523.7L205.0 524.0L205.3 524.3L205.6 524.6L206.0 525.0L206.3 525.3L206.6 525.6L206.9 525.9L207.2 526.2L207.6 526.4L207.9 526.7L208.2 527.0L208.5 527.2L208.8 527.5L209.2 527.8L209.5 528.0L209.8 528.3L210.1 528.5L210.4 528.7L210.7 529.0L211.1 529.2L211.4 529.4L211.7 529.7L212.0 529.9L212.3 530.1L212.7 530.3L213.0 530.5L213.3 530.7L213.6 530.9L213.9 531.1L214.3 531.3L214.6 531.5L214.9 531.7L215.2 531.9L215.5 532.1L215.9 532.3L216.2 532.5L216.5 532.7L216.8 532.9L217.1 533.1L217.4 533.2L217.8 533.4L218.1 533.6L218.4 533.8L218.7 534.0L219.0 534.2L219.4 534.4L219.7 534.5L220.0 534.7L220.3 534.9L220.6 535.1L221.0 535.3L221.3 535.4L221.6 535.6L221.9 535.8L222.2 536.0L222.6 536.2L222.9 536.3L223.2 536.5L223.5 536.7L223.8 536.8L224.1 537.0L224.5 537.1L224.8 537.3L225.1 537.5L225.4 537.6L225.7 537.7L226.1 537.9L226.4 538.0L226.7 538.2L227.0 538.3L227.3 538.4L227.7 538.5L228.0 538.7L228.3 538.8L228.6 538.9L228.9 539.0L229.2 539.1L229.6 539.2L229.9 539.3L230.2 539.4L230.5 539.5L230.8 539.6L231.2 539.6L231.5 539.7L231.8 539.8L232.1 539.9L232.4 540.0L232.8 540.1L233.1 540.2L233.4 540.2L233.7 540.3L234.0 540.4L234.4 540.5L234.7 540.6L235.0 540.6L235.3 540.7L235.6 540.8L235.9 540.8L236.3 540.9L236.6 541.0L236.9 541.0L237.2 541.1L237.5 541.1L237.9 541.2L238.2 541.2L238.5 541.3L238.8 541.3L239.1 541.4L239.5 541.4L239.8 541.4L240.1 541.5L240.4 541.5L240.7 541.5L241.1 541.6L241.4 541.6L241.7 541.7L242.0 541.7L242.3 541.7L242.6 541.8L243.0 541.8L243.3 541.8L243.6 541.9L243.9 541.9L244.2 541.9L244.6 542.0L244.9 542.0L245.2 542.0L245.5 542.1L245.8 542.1L246.2 542.1L246.5 542.1L246.8 542.2L247.1 542.2L247.4 542.2L247.8 542.3L248.1 542.3L248.4 542.3L248.7 542.3L249.0 542.4L249.3 542.4L249.7 542.4L250.0 542.4L250.3 542.5L250.6 542.5L250.9 542.5L251.3 542.5L251.6 542.6L251.9 542.6L252.2 542.6L252.5 542.6L252.9 542.6L253.2 542.7L253.5 542.7L253.8 542.7L254.1 542.7L254.5 542.7L254.8 542.8L255.1 542.8L255.4 542.8L255.7 542.8L256.0 542.8L256.4 542.8L256.7 542.9L257.0 542.9L257.3 542.9L257.6 542.9L258.0 542.9L258.3 542.9L258.6 543.0L258.9 543.0L259.2 543.0L259.6 543.0L259.9 543.0L260.2 543.0L260.5 543.0L260.8 543.0L261.1 543.0L261.5 543.1L261.8 543.1L262.1 543.1L262.4 543.1L262.7 543.1L263.1 543.1L263.4 543.1L263.7 543.1L264.0 543.2L264.3 543.2L264.7 543.2L265.0 543.2L265.3 543.2L265.6 543.2L265.9 543.2L266.3 543.2L266.6 543.2L266.9 543.2L267.2 543.3L267.5 543.3L267.8 543.3L268.2 543.3L268.5 543.3L268.8 543.3L269.1 543.3L269.4 543.3L269.8 543.3L270.1 543.3L270.4 543.3L270.7 543.3L271.0 543.4L271.4 543.4L271.7 543.4L272.0 543.4L272.3 543.4L272.6 543.4L273.0 543.4L273.3 543.4L273.6 543.4L273.9 543.4L274.2 543.4L274.5 543.4L274.9 543.4L275.2 543.4L275.5 543.4L275.8 543.4L276.1 543.4L276.5 543.4L276.8 543.4L277.1 543.4L277.4 543.4L277.7 543.4L278.1 543.4L278.4 543.4L278.7 543.4L279.0 543.4L279.3 543.4L279.7 543.4L280.0 543.4L280.3 543.4L280.6 543.4L280.9 543.4L281.2 543.4L281.6 543.4L281.9 543.4L282.2 543.4L282.5 543.4L282.8 543.4L283.2 543.4L283.5 543.4L283.8 543.4L284.1 543.4L284.4 543.4L284.8 543.4L285.1 543.4L285.4 543.4L285.7 543.4L286.0 543.4L286.4 543.4L286.7 543.4L287.0 543.4L287.3 543.4L287.6 543.4L287.9 543.4L288.3 543.4L288.6 543.4L288.9 543.4L289.2 543.4L289.5 543.4L289.9 543.4L290.2 543.4L290.5 543.4L290.8 543.4L291.1 543.4L291.5 543.4L291.8 543.4L292.1 543.4L292.4 543.5L292.7 543.5L293.1 543.5L293.4 543.5L293.7 543.5L294.0 543.5L294.3 543.5L294.6 543.5L295.0 543.5L295.3 543.5L295.6 543.5L295.9 543.5L296.2 543.5L296.6 543.5L296.9 543.5L297.2 543.5L297.5 543.5L297.8 543.5L298.2 543.5L298.5 543.5L298.8 543.5L299.1 543.5L299.4 543.5L299.7 543.5L300.1 543.5L300.4 543.5L300.7 543.5L301.0 543.5L301.3 543.5L301.7 543.5L302.0 543.5L302.3 543.5L302.6 543.5L302.9 543.5L303.3 543.5L303.6 543.5L303.9 543.5L304.2 543.5L304.5 543.5L304.9 543.5L305.2 543.5L305.5 543.5L305.8 543.5L306.1 543.5L306.4 543.5L306.8 543.5L307.1 543.5L307.4 543.5L307.7 543.5L308.0 543.5L308.4 543.5L308.7 543.5L309.0 543.5L309.3 543.5L309.6 543.5L310.0 543.5L310.3 543.5L310.6 543.5L310.9 543.5L311.2 543.5L311.6 543.5L311.9 543.5L312.2 543.5L312.5 543.5L312.8 543.5L313.1 543.5L313.5 543.5L313.8 543.5L314.1 543.5L314.4 543.5L314.7 543.5L315.1 543.5L315.4 543.5L315.7 543.5L316.0 543.5L316.3 543.5L316.7 543.5L317.0 543.5L317.3 543.5L317.6 543.5L317.9 543.5L318.3 543.5L318.6 543.5L318.9 543.5L319.2 543.5L319.5 543.5L319.8 543.5L320.2 543.5L320.5 543.5L320.8 543.5L321.1 543.5L321.4 543.5L321.8 543.5L322.1 543.5L322.4 543.5L322.7 543.5L323.0 543.5L323.4 543.5L323.7 543.5L324.0 543.5L324.3 543.5L324.6 543.5L325.0 543.5L325.3 543.5L325.6 543.5L325.9 543.5L326.2 543.5L326.5 543.5L326.9 543.5L327.2 543.5L327.5 543.5L327.8 543.5L328.1 543.5L328.5 543.5L328.8 543.5L329.1 543.5L329.4 543.5L329.7 543.5L330.1 543.5L330.4 543.5L330.7 543.5L331.0 543.5L331.3 543.5L331.6 543.5L332.0 543.5L332.3 543.5L332.6 543.5L332.9 543.5L333.2 543.5L333.6 543.5L333.9 543.5L334.2 543.5L334.5 543.5L334.8 543.5L335.2 543.5L335.5 543.5L335.8 543.5L336.1 543.5L336.4 543.5L336.8 543.5L337.1 543.5L337.4 543.5L337.7 543.5L338.0 543.5L338.3 543.5L338.7 543.5L339.0 543.5L339.3 543.5L339.6 543.5L339.9 543.5L340.3 543.5L340.6 543.5L340.9 543.5L341.2 543.5L341.5 543.5L341.9 543.5L342.2 543.5L342.5 543.5L342.8 543.5L343.1 543.5L343.5 543.5L343.8 543.5L344.1 543.5L344.4 543.5L344.7 543.5L345.0 543.5L345.4 543.5L345.7 543.5L346.0 543.5L346.3 543.5L346.6 543.5L347.0 543.5L347.3 543.5L347.6 543.5L347.9 543.5L348.2 543.5L348.6 543.5L348.9 543.5L349.2 543.5L349.5 543.5L349.8 543.5L350.2 543.5L350.5 543.5L350.8 543.5L351.1 543.5L351.4 543.5L351.7 543.5L352.1 543.5L352.4 543.5L352.7 543.5L353.0 543.5L353.3 543.5L353.7 543.5L354.0 543.5L354.3 543.5L354.6 543.5L354.9 543.5L355.3 543.5L355.6 543.5L355.9 543.5L356.2 543.5L356.5 543.5L356.9 543.5L357.2 543.5L357.5 543.5L357.8 543.5L358.1 543.5L358.4 543.5L358.8 543.5L359.1 543.5L359.4 543.5L359.7 543.5L360.0 543.5L360.4 543.5L360.7 543.5L361.0 543.5L361.3 543.5L361.6 543.5L362.0 543.5L362.3 543.5L362.6 543.5L362.9 543.5L363.2 543.5L363.5 543.5L363.9 543.5L364.2 543.5L364.5 543.5L364.8 543.5L365.1 543.5L365.5 543.5L365.8 543.5L366.1 543.5L366.4 543.5L366.7 543.5L367.1 543.5L367.4 543.5L367.7 543.5L368.0 543.5L368.3 543.5L368.7 543.5L369.0 543.5L369.3 543.5L369.6 543.5L369.9 543.5L370.2 543.5L370.6 543.5L370.9 543.5L371.2 543.5L371.5 543.5L371.8 543.5L372.2 543.5L372.5 543.5L372.8 543.5L373.1 543.5L373.4 543.5L373.8 543.5L374.1 543.5L374.4 543.5L374.7 543.5L375.0 543.5L375.4 543.5L375.7 543.5L376.0 543.5L376.3 543.5L376.6 543.5L376.9 543.5L377.3 543.5L377.6 543.5L377.9 543.5L378.2 543.5L378.5 543.5L378.9 543.5L379.2 543.5L379.5 543.5L379.8 543.5L380.1 543.5L380.5 543.5L380.8 543.5L381.1 543.5L381.4 543.5L381.7 543.5L382.1 543.5L382.4 543.5L382.7 543.5L383.0 543.5L383.3 543.5L383.6 543.5L384.0 543.5L384.3 543.5L384.6 543.5L384.9 543.5L385.2 543.5L385.6 543.5L385.9 543.5L386.2 543.5L386.5 543.5L386.8 543.5L387.2 543.5L387.5 543.5L387.8 543.5L388.1 543.5L388.4 543.5L388.8 543.5L389.1 543.5L389.4 543.5L389.7 543.5L390.0 543.5L390.3 543.5L390.7 543.5L391.0 543.5L391.3 543.5L391.6 543.5L391.9 543.5L392.3 543.5L392.6 543.5L392.9 543.5L393.2 543.5L393.5 543.5L393.9 543.5L394.2 543.5L394.5 543.5L394.8 543.5L395.1 543.5L395.4 543.5L395.8 543.5L396.1 543.5L396.4 543.5L396.7 543.5L397.0 543.5L397.4 543.5L397.7 543.5L398.0 543.5L398.3 543.5L398.6 543.5L399.0 543.5L399.3 543.5L399.6 543.5L399.9 543.5L400.2 543.5L400.6 543.5L400.9 543.5L401.2 543.5L401.5 543.5L401.8 543.5L402.1 543.5L402.5 543.5L402.8 543.5L403.1 543.5L403.4 543.5L403.7 543.5L404.1 543.5L404.4 543.5L404.7 543.5L405.0 543.5L405.3 543.5L405.7 543.5L406.0 543.5L406.3 543.5L406.6 543.5L406.9 543.6L407.3 543.6L407.6 543.6L407.9 543.6L408.2 543.6L408.5 543.6L408.8 543.6L409.2 543.6L409.5 543.6L409.8 543.6L410.1 543.6L410.4 543.6L410.8 543.6L411.1 543.6L411.4 543.6L411.7 543.6L412.0 543.6L412.4 543.6L412.7 543.6L413.0 543.6L413.3 543.6L413.6 543.6L414.0 543.6L414.3 543.6L414.6 543.6L414.9 543.6L415.2 543.6L415.5 543.6L415.9 543.6L416.2 543.6L416.5 543.6L416.8 543.6L417.1 543.6L417.5 543.6L417.8 543.6L418.1 543.6L418.4 543.6L418.7 543.6L419.1 543.6L419.4 543.6L419.7 543.6L420.0 543.6L420.3 543.6L420.6 543.6L421.0 543.6L421.3 543.6L421.6 543.6L421.9 543.6L422.2 543.6L422.6 543.6L422.9 543.6L423.2 543.6L423.5 543.6L423.8 543.6L424.2 543.6L424.5 543.6L424.8 543.6L425.1 543.6L425.4 543.6L425.8 543.6L426.1 543.6L426.4 543.6L426.7 543.6L427.0 543.6L427.3 543.6L427.7 543.6L428.0 543.6L428.3 543.6L428.6 543.6L428.9 543.6L429.3 543.6L429.6 543.6L429.9 543.6L430.2 543.6L430.5 543.6L430.9 543.6L431.2 543.6L431.5 543.6L431.8 543.6L432.1 543.6L432.5 543.6L432.8 543.6L433.1 543.6L433.4 543.6L433.7 543.6L434.0 543.6L434.4 543.6L434.7 543.6L435.0 543.6L435.3 543.6L435.6 543.6L436.0 543.6L436.3 543.6L436.6 543.6L436.9 543.6L437.2 543.6L437.6 543.6L437.9 543.6L438.2 543.6L438.5 543.6L438.8 543.6L439.2 543.6L439.5 543.6L439.8 543.6L440.1 543.6L440.4 543.6L440.7 543.6L441.1 543.6L441.4 543.6L441.7 543.6L442.0 543.6L442.3 543.6L442.7 543.6L443.0 543.6L443.3 543.6L443.6 543.6L443.9 543.6L444.3 543.6L444.6 543.6L444.9 543.6L445.2 543.6L445.5 543.6L445.9 543.6L446.2 543.6L446.5 543.6L446.8 543.6L447.1 543.6L447.4 543.6L447.8 543.6L448.1 543.6L448.4 543.6L448.7 543.6L449.0 543.6L449.4 543.6L449.7 543.6L450.0 543.6L450.3 543.6L450.6 543.6L451.0 543.6L451.3 543.6L451.6 543.6L451.9 543.6L452.2 543.6L452.5 543.6L452.9 543.6L453.2 543.6L453.5 543.6L453.8 543.6L454.1 543.6L454.5 543.6L454.8 543.6L455.1 543.6L455.4 543.6L455.7 543.6L456.1 543.6L456.4 543.6L456.7 543.6L457.0 543.6L457.3 543.6L457.7 543.6L458.0 543.6L458.3 543.6L458.6 543.6L458.9 543.6L459.2 543.6L459.6 543.6L459.9 543.6L460.2 543.6L460.5 543.6L460.8 543.6L461.2 543.6L461.5 543.6L461.8 543.6L462.1 543.6L462.4 543.6L462.8 543.6L463.1 543.6L463.4 543.6L463.7 543.6L464.0 543.6L464.4 543.6L464.7 543.6L465.0 543.6L465.3 543.6L465.6 543.6L465.9 543.6L466.3 543.6L466.6 543.6L466.9 543.6L467.2 543.6L467.5 543.6L467.9 543.6L468.2 543.6L468.5 543.6L468.8 543.6L469.1 543.6L469.5 543.6L469.8 543.6L470.1 543.6L470.4 543.6L470.7 543.6L471.1 543.6L471.4 543.6L471.7 543.6L472.0 543.6L472.3 543.6L472.6 543.6L473.0 543.6L473.3 543.6L473.6 543.6L473.9 543.6L474.2 543.6L474.6 543.6L474.9 543.6L475.2 543.6L475.5 543.6L475.8 543.6L476.2 543.6L476.5 543.6L476.8 543.6L477.1 543.6L477.4 543.6L477.8 543.6L478.1 543.6L478.4 543.6L478.7 543.6L479.0 543.6L479.3 543.6L479.7 543.6L480.0 543.6L480.3 543.6L480.6 543.6L480.9 543.6L481.3 543.6L481.6 543.6L481.9 543.6L482.2 543.6L482.5 543.6L482.9 543.6L483.2 543.6L483.5 543.6L483.8 543.6L484.1 543.6L484.5 543.6L484.8 543.6L485.1 543.6L485.4 543.6L485.7 543.6L486.0 543.6L486.4 543.6L486.7 543.6L487.0 543.6L487.3 543.6L487.6 543.6L488.0 543.6L488.3 543.6L488.6 543.6L488.9 543.6L489.2 543.6L489.6 543.6L489.9 543.6L490.2 543.6L490.5 543.6L490.8 543.6L491.1 543.6L491.5 543.6L491.8 543.6L492.1 543.6L492.4 543.6L492.7 543.6L493.1 543.6L493.4 543.6L493.7 543.6L494.0 543.6L494.3 543.6L494.7 543.6L495.0 543.6L495.3 543.6L495.6 543.6L495.9 543.6L496.3 543.6L496.6 543.6L496.9 543.6L497.2 543.6L497.5 543.6L497.8 543.6L498.2 543.6L498.5 543.6L498.8 543.6L499.1 543.6L499.4 543.6L499.8 543.6L500.1 543.6L500.4 543.6" fill="none" stroke="#ff0000" stroke-width="2.2" stroke-linejoin="round"/><text class="b" x="340.50" y="636.90" font-size="12.85" text-anchor="middle">Time</text><text class="b" transform="translate(151.80 478.55) rotate(-90)" font-size="12.85" text-anchor="middle">H</text><text class="cap" x="330.10" y="660.70" font-size="20.6" text-anchor="middle">(d)</text><rect x="387.00" y="361.60" width="105.40" height="31.00" fill="#fff" stroke="#222222" stroke-width="1"/><path d="M390.20 370.20h29.5" stroke="#000000" stroke-width="2"/><path d="M390.20 384.70h29.5" stroke="#ff0000" stroke-width="2"/><text class="b" x="422.20" y="374.60" font-size="10.5">Stochastic</text><text class="b" x="422.20" y="389.10" font-size="10.5">Deterministic</text></g><g><rect x="599.75" y="354.20" width="318.75" height="248.55" fill="none" stroke="#222222" stroke-width="1.15"/><text class="b" x="599.75" y="619.95" font-size="11.4" text-anchor="middle">0</text><text class="b" x="663.50" y="619.95" font-size="11.4" text-anchor="middle">100</text><text class="b" x="727.25" y="619.95" font-size="11.4" text-anchor="middle">200</text><text class="b" x="791.00" y="619.95" font-size="11.4" text-anchor="middle">300</text><text class="b" x="854.75" y="619.95" font-size="11.4" text-anchor="middle">400</text><text class="b" x="918.50" y="619.95" font-size="11.4" text-anchor="middle">500</text><text class="b" x="595.05" y="607.50" font-size="11.4" text-anchor="end">50</text><text class="b" x="595.05" y="579.88" font-size="11.4" text-anchor="end">100</text><text class="b" x="595.05" y="552.27" font-size="11.4" text-anchor="end">150</text><text class="b" x="595.05" y="524.65" font-size="11.4" text-anchor="end">200</text><text class="b" x="595.05" y="497.03" font-size="11.4" text-anchor="end">250</text><text class="b" x="595.05" y="469.42" font-size="11.4" text-anchor="end">300</text><text class="b" x="595.05" y="441.80" font-size="11.4" text-anchor="end">350</text><text class="b" x="595.05" y="414.18" font-size="11.4" text-anchor="end">400</text><text class="b" x="595.05" y="386.57" font-size="11.4" text-anchor="end">450</text><text class="b" x="595.05" y="358.95" font-size="11.4" text-anchor="end">500</text><path d="M599.75 602.75v-3.40M599.75 354.20v3.40M663.50 602.75v-3.40M663.50 354.20v3.40M727.25 602.75v-3.40M727.25 354.20v3.40M791.00 602.75v-3.40M791.00 354.20v3.40M854.75 602.75v-3.40M854.75 354.20v3.40M918.50 602.75v-3.40M918.50 354.20v3.40M599.75 602.75h3.40M918.50 602.75h-3.40M599.75 575.13h3.40M918.50 575.13h-3.40M599.75 547.52h3.40M918.50 547.52h-3.40M599.75 519.90h3.40M918.50 519.90h-3.40M599.75 492.28h3.40M918.50 492.28h-3.40M599.75 464.67h3.40M918.50 464.67h-3.40M599.75 437.05h3.40M918.50 437.05h-3.40M599.75 409.43h3.40M918.50 409.43h-3.40M599.75 381.82h3.40M918.50 381.82h-3.40M599.75 354.20h3.40M918.50 354.20h-3.40" stroke="#222222" stroke-width="1.15" fill="none"/><path d="M599.8 602.8L600.1 553.5L600.4 504.2L600.7 483.3L601.0 460.2L601.3 436.7L601.7 415.4L602.0 406.8L602.3 400.9L602.6 391.2L602.9 382.4L603.3 381.6L603.6 380.6L603.9 376.5L604.2 375.2L604.5 377.2L604.9 381.2L605.2 383.4L605.5 387.5L605.8 392.6L606.1 394.6L606.4 397.8L606.8 399.5L607.1 403.9L607.4 407.5L607.7 407.8L608.0 408.8L608.4 411.2L608.7 413.0L609.0 416.2L609.3 418.1L609.6 420.0L610.0 423.1L610.3 426.3L610.6 428.6L610.9 425.5L611.2 431.4L611.5 435.5L611.9 438.7L612.2 440.4L612.5 441.7L612.8 447.3L613.1 453.2L613.5 450.2L613.8 456.2L614.1 453.3L614.4 453.5L614.7 451.2L615.0 449.5L615.4 453.9L615.7 459.4L616.0 464.4L616.3 465.8L616.6 464.3L617.0 472.2L617.3 468.1L617.6 467.9L617.9 466.1L618.2 470.1L618.6 470.7L618.9 475.1L619.2 476.5L619.5 483.1L619.8 478.6L620.1 472.0L620.5 476.0L620.8 477.2L621.1 483.8L621.4 477.1L621.7 484.3L622.1 481.2L622.4 483.6L622.7 489.4L623.0 484.2L623.3 487.1L623.7 488.2L624.0 488.1L624.3 490.7L624.6 493.8L624.9 492.1L625.2 495.7L625.6 495.2L625.9 498.0L626.2 502.3L626.5 500.6L626.8 499.4L627.2 496.9L627.5 491.4L627.8 501.2L628.1 497.3L628.4 505.5L628.8 503.7L629.1 501.0L629.4 507.2L629.7 507.3L630.0 500.0L630.4 497.6L630.7 497.6L631.0 500.9L631.3 490.8L631.6 497.2L631.9 502.8L632.3 495.0L632.6 497.2L632.9 502.5L633.2 498.6L633.5 501.9L633.9 501.7L634.2 503.8L634.5 510.2L634.8 504.9L635.1 506.9L635.5 512.9L635.8 514.5L636.1 508.7L636.4 512.7L636.7 513.2L637.0 511.6L637.4 513.9L637.7 522.0L638.0 516.9L638.3 514.6L638.6 514.7L639.0 512.5L639.3 517.5L639.6 518.2L639.9 515.6L640.2 521.5L640.5 515.0L640.9 512.4L641.2 515.0L641.5 511.3L641.8 513.7L642.1 521.2L642.5 515.3L642.8 516.2L643.1 515.8L643.4 516.4L643.7 511.4L644.1 512.6L644.4 517.7L644.7 514.4L645.0 511.9L645.3 516.6L645.6 517.0L646.0 516.8L646.3 517.5L646.6 513.7L646.9 509.5L647.2 504.4L647.6 505.2L647.9 506.1L648.2 505.7L648.5 504.7L648.8 511.0L649.2 508.8L649.5 509.4L649.8 511.2L650.1 513.0L650.4 513.7L650.8 512.9L651.1 516.3L651.4 510.3L651.7 510.2L652.0 509.5L652.3 508.2L652.7 506.1L653.0 510.6L653.3 510.2L653.6 516.0L653.9 519.9L654.3 519.8L654.6 506.9L654.9 515.5L655.2 509.2L655.5 502.8L655.9 508.4L656.2 501.8L656.5 498.6L656.8 501.0L657.1 496.5L657.4 501.3L657.8 508.6L658.1 506.0L658.4 508.9L658.7 513.3L659.0 514.7L659.4 500.7L659.7 507.2L660.0 507.3L660.3 509.9L660.6 507.5L661.0 508.1L661.3 508.9L661.6 512.4L661.9 514.3L662.2 512.2L662.5 507.2L662.9 498.2L663.2 499.1L663.5 496.3L663.8 500.6L664.1 504.3L664.5 510.6L664.8 507.3L665.1 514.8L665.4 509.9L665.7 500.3L666.0 502.1L666.4 499.4L666.7 504.5L667.0 510.3L667.3 509.2L667.6 508.7L668.0 502.3L668.3 497.2L668.6 506.6L668.9 508.6L669.2 508.7L669.6 509.8L669.9 514.1L670.2 510.4L670.5 508.3L670.8 507.7L671.1 514.2L671.5 512.3L671.8 518.5L672.1 510.2L672.4 515.3L672.7 514.5L673.1 515.3L673.4 516.4L673.7 519.1L674.0 523.2L674.3 510.8L674.7 512.8L675.0 513.8L675.3 507.1L675.6 513.9L675.9 514.0L676.2 516.6L676.6 513.1L676.9 515.0L677.2 516.7L677.5 520.0L677.8 519.2L678.2 515.5L678.5 527.4L678.8 523.9L679.1 524.0L679.4 523.7L679.8 530.5L680.1 522.1L680.4 525.7L680.7 524.6L681.0 525.5L681.4 530.7L681.7 527.7L682.0 532.5L682.3 530.7L682.6 527.7L682.9 525.5L683.3 524.7L683.6 525.3L683.9 516.5L684.2 520.5L684.5 528.7L684.9 529.3L685.2 529.7L685.5 527.8L685.8 528.8L686.1 530.2L686.5 520.5L686.8 523.5L687.1 526.1L687.4 526.7L687.7 526.7L688.0 520.1L688.4 521.5L688.7 519.4L689.0 535.7L689.3 527.5L689.6 521.6L690.0 515.8L690.3 521.6L690.6 530.7L690.9 524.5L691.2 527.1L691.5 532.8L691.9 530.0L692.2 522.2L692.5 519.1L692.8 519.9L693.1 527.5L693.5 515.8L693.8 526.6L694.1 526.1L694.4 531.4L694.7 522.2L695.1 522.6L695.4 521.0L695.7 523.7L696.0 525.4L696.3 525.0L696.6 533.3L697.0 524.6L697.3 522.0L697.6 526.4L697.9 526.5L698.2 525.3L698.6 519.8L698.9 522.6L699.2 525.1L699.5 528.3L699.8 533.5L700.2 531.8L700.5 528.5L700.8 528.7L701.1 527.5L701.4 524.2L701.8 524.0L702.1 524.3L702.4 522.6L702.7 523.6L703.0 524.6L703.3 522.7L703.7 530.6L704.0 521.1L704.3 527.8L704.6 521.3L704.9 522.1L705.3 517.7L705.6 520.2L705.9 524.8L706.2 518.0L706.5 519.0L706.9 519.3L707.2 519.3L707.5 515.4L707.8 514.5L708.1 516.3L708.4 523.8L708.8 521.7L709.1 518.8L709.4 510.8L709.7 513.6L710.0 516.3L710.4 511.9L710.7 515.5L711.0 516.2L711.3 515.6L711.6 521.9L712.0 514.1L712.3 513.3L712.6 515.7L712.9 519.9L713.2 515.7L713.5 509.3L713.9 515.2L714.2 518.8L714.5 513.9L714.8 520.2L715.1 524.7L715.5 519.0L715.8 517.9L716.1 515.6L716.4 515.8L716.7 512.2L717.0 513.0L717.4 514.6L717.7 515.1L718.0 511.5L718.3 509.5L718.6 509.5L719.0 510.9L719.3 527.5L719.6 525.3L719.9 522.1L720.2 519.4L720.6 526.3L720.9 517.0L721.2 518.8L721.5 523.7L721.8 522.8L722.1 525.0L722.5 528.0L722.8 524.5L723.1 526.5L723.4 530.1L723.7 527.5L724.1 523.8L724.4 525.7L724.7 516.2L725.0 521.6L725.3 511.4L725.7 513.4L726.0 522.8L726.3 522.9L726.6 519.9L726.9 525.5L727.2 532.7L727.6 531.2L727.9 524.2L728.2 537.0L728.5 533.3L728.8 533.9L729.2 534.6L729.5 535.8L729.8 535.9L730.1 530.5L730.4 530.3L730.8 536.6L731.1 528.4L731.4 537.1L731.7 532.1L732.0 532.3L732.4 528.2L732.7 530.1L733.0 527.9L733.3 531.4L733.6 528.6L733.9 530.1L734.3 523.3L734.6 532.3L734.9 527.8L735.2 529.2L735.5 530.7L735.9 534.3L736.2 531.5L736.5 538.2L736.8 540.2L737.1 532.4L737.5 538.9L737.8 529.1L738.1 532.5L738.4 531.6L738.7 532.0L739.0 530.8L739.4 533.1L739.7 534.3L740.0 533.8L740.3 528.8L740.6 526.8L741.0 525.5L741.3 528.7L741.6 532.1L741.9 539.3L742.2 532.4L742.5 529.2L742.9 533.1L743.2 529.6L743.5 526.4L743.8 530.1L744.1 527.5L744.5 529.6L744.8 538.6L745.1 536.7L745.4 535.7L745.7 531.6L746.1 535.8L746.4 535.5L746.7 538.0L747.0 535.3L747.3 534.2L747.6 530.4L748.0 530.1L748.3 532.8L748.6 533.7L748.9 534.8L749.2 535.4L749.6 530.1L749.9 544.7L750.2 540.8L750.5 537.7L750.8 533.6L751.2 541.4L751.5 538.5L751.8 535.7L752.1 540.2L752.4 548.0L752.8 544.7L753.1 547.2L753.4 540.9L753.7 544.9L754.0 535.9L754.3 539.6L754.7 544.9L755.0 545.8L755.3 548.7L755.6 543.9L755.9 538.0L756.3 543.0L756.6 540.4L756.9 547.2L757.2 544.8L757.5 536.1L757.9 548.2L758.2 542.0L758.5 540.3L758.8 552.3L759.1 554.1L759.4 551.6L759.8 542.0L760.1 543.3L760.4 541.7L760.7 536.7L761.0 536.4L761.4 534.9L761.7 535.6L762.0 529.1L762.3 533.6L762.6 524.4L763.0 529.2L763.3 532.3L763.6 527.2L763.9 525.8L764.2 534.7L764.5 528.6L764.9 532.3L765.2 531.2L765.5 523.8L765.8 527.5L766.1 523.5L766.5 524.7L766.8 515.3L767.1 519.9L767.4 525.4L767.7 526.7L768.0 525.9L768.4 521.1L768.7 519.5L769.0 514.6L769.3 515.9L769.6 516.2L770.0 515.2L770.3 516.4L770.6 514.8L770.9 512.0L771.2 510.7L771.6 515.3L771.9 521.5L772.2 519.6L772.5 514.2L772.8 523.2L773.1 517.9L773.5 512.0L773.8 515.9L774.1 521.1L774.4 512.8L774.7 512.9L775.1 521.0L775.4 518.9L775.7 519.7L776.0 531.2L776.3 520.0L776.7 529.3L777.0 529.2L777.3 531.8L777.6 527.3L777.9 530.6L778.2 525.8L778.6 519.1L778.9 519.5L779.2 520.9L779.5 513.4L779.8 519.9L780.2 517.1L780.5 522.5L780.8 523.6L781.1 526.1L781.4 527.8L781.8 530.5L782.1 535.6L782.4 537.9L782.7 535.9L783.0 538.7L783.4 542.9L783.7 541.8L784.0 540.7L784.3 537.1L784.6 534.3L784.9 533.1L785.3 535.1L785.6 532.4L785.9 536.5L786.2 540.8L786.5 533.8L786.9 536.3L787.2 533.7L787.5 533.2L787.8 525.1L788.1 529.0L788.5 523.8L788.8 524.5L789.1 527.9L789.4 531.0L789.7 524.1L790.0 522.3L790.4 520.3L790.7 515.7L791.0 520.6L791.3 522.6L791.6 525.2L792.0 525.5L792.3 527.7L792.6 530.9L792.9 520.7L793.2 532.9L793.5 529.0L793.9 527.1L794.2 527.9L794.5 532.3L794.8 530.2L795.1 530.1L795.5 532.2L795.8 528.3L796.1 528.0L796.4 528.1L796.7 522.8L797.1 527.5L797.4 522.7L797.7 524.9L798.0 521.0L798.3 520.7L798.6 519.5L799.0 523.6L799.3 523.8L799.6 523.8L799.9 519.2L800.2 514.9L800.6 511.7L800.9 517.1L801.2 516.7L801.5 523.5L801.8 528.0L802.2 524.7L802.5 522.7L802.8 525.6L803.1 527.6L803.4 519.1L803.8 521.6L804.1 526.0L804.4 511.5L804.7 515.2L805.0 518.5L805.3 515.7L805.7 520.6L806.0 512.9L806.3 522.9L806.6 525.5L806.9 521.8L807.3 522.8L807.6 514.3L807.9 523.4L808.2 522.9L808.5 518.8L808.9 515.9L809.2 513.0L809.5 514.5L809.8 507.5L810.1 515.7L810.4 515.8L810.8 513.0L811.1 516.7L811.4 517.7L811.7 518.7L812.0 519.6L812.4 521.8L812.7 520.2L813.0 523.5L813.3 516.8L813.6 522.2L814.0 509.3L814.3 506.1L814.6 507.0L814.9 512.4L815.2 515.5L815.5 509.0L815.9 510.7L816.2 509.5L816.5 513.9L816.8 508.0L817.1 513.2L817.5 511.1L817.8 517.5L818.1 515.1L818.4 509.4L818.7 510.9L819.0 511.2L819.4 506.0L819.7 507.4L820.0 502.4L820.3 515.0L820.6 508.0L821.0 506.5L821.3 514.9L821.6 517.4L821.9 510.1L822.2 516.0L822.6 516.9L822.9 512.8L823.2 515.8L823.5 514.1L823.8 519.5L824.1 517.4L824.5 514.0L824.8 516.5L825.1 528.1L825.4 521.3L825.7 521.9L826.1 525.8L826.4 517.5L826.7 526.9L827.0 515.5L827.3 521.3L827.7 514.2L828.0 518.0L828.3 524.2L828.6 520.4L828.9 517.9L829.2 515.9L829.6 512.9L829.9 519.5L830.2 515.9L830.5 513.7L830.8 517.0L831.2 520.9L831.5 522.3L831.8 515.9L832.1 513.5L832.4 519.2L832.8 523.2L833.1 514.3L833.4 522.4L833.7 518.3L834.0 520.8L834.4 525.5L834.7 519.6L835.0 518.8L835.3 511.9L835.6 506.2L835.9 514.0L836.3 511.8L836.6 510.9L836.9 516.9L837.2 520.3L837.5 511.5L837.9 516.3L838.2 516.5L838.5 517.6L838.8 517.3L839.1 519.0L839.5 514.2L839.8 510.4L840.1 515.5L840.4 521.3L840.7 517.5L841.0 522.4L841.4 520.6L841.7 512.4L842.0 505.1L842.3 510.3L842.6 517.8L843.0 513.0L843.3 523.8L843.6 521.5L843.9 512.1L844.2 512.1L844.5 520.8L844.9 525.2L845.2 516.9L845.5 517.8L845.8 520.5L846.1 517.6L846.5 520.8L846.8 527.5L847.1 519.1L847.4 522.3L847.7 525.0L848.1 527.5L848.4 522.2L848.7 524.3L849.0 519.0L849.3 520.5L849.6 515.5L850.0 519.4L850.3 521.6L850.6 527.4L850.9 525.8L851.2 517.7L851.6 505.6L851.9 518.0L852.2 521.4L852.5 516.8L852.8 514.5L853.2 518.1L853.5 516.1L853.8 521.9L854.1 518.6L854.4 512.5L854.8 507.2L855.1 512.5L855.4 514.6L855.7 512.3L856.0 508.7L856.3 509.8L856.7 515.0L857.0 512.3L857.3 508.7L857.6 514.0L857.9 518.3L858.3 512.2L858.6 510.5L858.9 507.3L859.2 509.6L859.5 513.2L859.8 513.5L860.2 515.8L860.5 517.7L860.8 517.7L861.1 518.2L861.4 512.8L861.8 521.2L862.1 520.3L862.4 523.0L862.7 516.5L863.0 519.9L863.4 524.6L863.7 522.3L864.0 525.3L864.3 529.5L864.6 523.7L865.0 524.3L865.3 519.9L865.6 520.2L865.9 521.5L866.2 524.1L866.5 529.5L866.9 523.8L867.2 523.9L867.5 521.1L867.8 522.5L868.1 525.3L868.5 527.2L868.8 520.6L869.1 515.5L869.4 519.6L869.7 517.7L870.0 512.9L870.4 520.7L870.7 522.0L871.0 525.9L871.3 518.5L871.6 520.0L872.0 523.8L872.3 530.4L872.6 527.2L872.9 521.7L873.2 525.4L873.6 527.6L873.9 524.5L874.2 531.4L874.5 529.0L874.8 525.1L875.1 528.4L875.5 529.1L875.8 524.4L876.1 523.4L876.4 522.9L876.7 520.3L877.1 518.6L877.4 522.0L877.7 521.4L878.0 516.1L878.3 510.8L878.7 507.4L879.0 514.3L879.3 508.9L879.6 508.6L879.9 511.8L880.2 510.8L880.6 509.2L880.9 504.9L881.2 514.8L881.5 511.7L881.8 513.6L882.2 514.6L882.5 509.6L882.8 509.3L883.1 516.5L883.4 516.2L883.8 514.1L884.1 520.0L884.4 513.0L884.7 514.4L885.0 514.0L885.3 513.2L885.7 507.1L886.0 512.1L886.3 515.5L886.6 508.2L886.9 514.4L887.3 516.6L887.6 520.7L887.9 512.2L888.2 512.3L888.5 511.4L888.9 512.2L889.2 513.6L889.5 516.6L889.8 517.5L890.1 512.8L890.5 512.3L890.8 506.0L891.1 513.3L891.4 514.6L891.7 517.1L892.0 508.3L892.4 515.5L892.7 509.9L893.0 505.2L893.3 509.7L893.6 507.9L894.0 519.3L894.3 516.8L894.6 521.5L894.9 516.2L895.2 515.5L895.5 518.8L895.9 513.5L896.2 514.5L896.5 518.8L896.8 520.7L897.1 525.6L897.5 522.7L897.8 512.9L898.1 521.2L898.4 520.0L898.7 523.9L899.1 520.2L899.4 520.1L899.7 522.8L900.0 529.9L900.3 527.4L900.6 519.6L901.0 522.7L901.3 520.3L901.6 523.8L901.9 530.6L902.2 523.8L902.6 521.9L902.9 524.8L903.2 525.0L903.5 522.4L903.8 525.0L904.2 522.2L904.5 523.3L904.8 531.5L905.1 525.1L905.4 524.1L905.8 524.2L906.1 518.8L906.4 520.0L906.7 515.8L907.0 511.6L907.3 513.4L907.7 520.3L908.0 519.0L908.3 511.4L908.6 513.0L908.9 515.2L909.3 512.6L909.6 508.9L909.9 508.1L910.2 506.1L910.5 510.9L910.8 510.2L911.2 509.5L911.5 508.1L911.8 515.6L912.1 510.5L912.4 512.8L912.8 502.5L913.1 497.9L913.4 495.5L913.7 497.9L914.0 503.6L914.4 499.5L914.7 504.1L915.0 503.2L915.3 509.7L915.6 511.5L916.0 508.7L916.3 503.2L916.6 509.3L916.9 503.1L917.2 501.4L917.5 512.9L917.9 512.6L918.2 515.9L918.5 513.6" fill="none" stroke="#ff0000" stroke-width="2.15" stroke-linejoin="round"/><path d="M599.8 602.8L599.8 596.9L599.8 591.0L599.8 585.3L599.9 579.6L599.9 574.1L599.9 568.6L600.0 563.2L600.0 557.9L600.0 552.6L600.1 547.5L600.1 542.4L600.1 537.3L600.2 532.2L600.2 527.1L600.2 522.2L600.3 517.4L600.3 512.8L600.3 508.4L600.4 504.3L600.4 500.6L600.4 497.0L600.5 493.6L600.5 490.2L600.5 486.9L600.5 483.7L600.6 480.6L600.6 477.6L600.6 474.7L600.7 471.8L600.7 469.0L600.7 466.3L600.8 463.7L600.8 461.1L600.8 458.6L600.9 456.2L600.9 453.9L600.9 451.7L601.0 449.5L601.0 447.4L601.0 445.3L601.1 443.4L601.1 441.4L601.1 439.5L601.2 437.7L601.2 435.9L601.2 434.1L601.2 432.4L601.3 430.7L601.3 429.1L601.3 427.5L601.4 426.0L601.4 424.5L601.4 423.0L601.5 421.6L601.5 420.2L601.5 418.9L601.6 417.5L601.6 416.3L601.6 415.0L601.7 413.9L601.7 412.7L601.7 411.5L601.8 410.4L601.8 409.3L601.8 408.2L601.9 407.2L601.9 406.1L601.9 405.1L601.9 404.1L602.0 403.1L602.0 402.2L602.0 401.3L602.1 400.4L602.1 399.6L602.1 398.7L602.2 397.9L602.2 397.2L602.2 396.4L602.3 395.7L602.3 395.1L602.3 394.4L602.4 393.8L602.4 393.1L602.4 392.5L602.5 391.9L602.5 391.3L602.5 390.7L602.6 390.1L602.6 389.6L602.6 389.0L602.7 388.5L602.7 388.0L602.7 387.6L602.7 387.1L602.8 386.7L602.8 386.3L602.8 386.0L602.9 385.7L602.9 385.4L602.9 385.1L603.0 384.9L603.0 384.7L603.0 384.5L603.1 384.2L603.1 384.0L603.1 383.8L603.2 383.6L603.2 383.4L603.2 383.2L603.3 383.0L603.3 382.8L603.3 382.7L603.4 382.5L603.4 382.3L603.4 382.2L603.4 382.1L603.5 381.9L603.5 381.8L603.5 381.7L603.6 381.6L603.6 381.5L603.6 381.4L603.7 381.4L603.7 381.3L603.7 381.3L603.8 381.3L603.8 381.3L603.8 381.3L603.9 381.3L603.9 381.3L603.9 381.3L604.0 381.4L604.0 381.4L604.0 381.4L604.1 381.5L604.1 381.6L604.1 381.6L604.1 381.7L604.2 381.8L604.2 381.8L604.2 381.9L604.3 382.0L604.3 382.1L604.3 382.2L604.4 382.3L604.4 382.4L604.4 382.5L604.5 382.6L604.5 382.7L604.5 382.8L604.6 383.0L604.6 383.1L604.6 383.2L604.7 383.3L604.7 383.4L604.7 383.5L604.8 383.7L604.8 383.8L604.8 383.9L604.9 384.0L604.9 384.2L604.9 384.3L604.9 384.4L605.0 384.6L605.0 384.7L605.0 384.9L605.1 385.1L605.1 385.3L605.1 385.5L605.2 385.6L605.2 385.9L605.2 386.1L605.3 386.3L605.3 386.5L605.3 386.7L605.4 386.9L605.4 387.2L605.4 387.4L605.5 387.6L605.5 387.9L605.5 388.1L605.6 388.4L605.6 388.6L605.6 388.9L605.6 389.1L605.7 389.4L605.7 389.6L605.7 389.9L605.8 390.2L605.8 390.4L605.8 390.7L605.9 390.9L605.9 391.2L605.9 391.4L606.0 391.7L606.0 391.9L606.0 392.2L606.1 392.4L606.1 392.6L606.1 392.9L606.2 393.1L606.2 393.3L606.2 393.6L606.3 393.8L606.3 394.0L606.3 394.3L606.3 394.5L606.4 394.7L606.4 395.0L606.4 395.2L606.5 395.4L606.5 395.7L606.5 395.9L606.6 396.2L606.6 396.4L606.6 396.6L606.7 396.9L606.7 397.1L606.7 397.4L606.8 397.6L606.8 397.8L606.8 398.1L606.9 398.3L606.9 398.6L606.9 398.8L607.0 399.1L607.0 399.3L607.0 399.6L607.0 399.8L607.1 400.0L607.1 400.6L607.1 400.9L607.2 401.1L607.2 401.3L607.2 401.6L607.3 401.8L607.3 402.1L607.3 402.3L607.4 402.6L607.4 402.8L607.4 403.0L607.5 403.3L607.5 403.5L607.5 403.8L607.6 404.0L607.6 404.2L607.6 404.5L607.7 404.7L607.7 405.0L607.7 405.2L607.8 405.4L607.8 405.7L607.8 405.9L607.8 406.1L607.9 406.4L607.9 406.6L607.9 406.8L608.0 407.1L608.0 407.3L608.0 407.5L608.1 407.8L608.1 408.0L608.1 408.2L608.2 408.5L608.2 408.7L608.2 408.9L608.3 409.2L608.3 409.4L608.3 409.6L608.4 409.8L608.4 410.1L608.4 410.3L608.5 410.5L608.5 410.8L608.5 411.0L608.5 411.2L608.6 411.4L608.6 411.7L608.6 411.9L608.7 412.1L608.7 412.3L608.7 412.6L608.8 412.8L608.8 413.0L608.8 413.2L608.9 413.4L608.9 413.7L608.9 413.9L609.0 414.1L609.0 414.3L609.0 414.5L609.1 414.8L609.1 415.0L609.1 415.2L609.2 415.4L609.2 415.6L609.2 415.8L609.2 416.1L609.3 416.3L609.3 416.5L609.6 418.6L610.0 420.7L610.3 422.7L610.6 424.7L610.9 426.7L611.2 428.6L611.5 430.5L611.9 432.3L612.2 434.2L612.5 435.9L612.8 437.7L613.1 439.4L613.5 441.0L613.8 442.7L614.1 444.3L614.4 445.9L614.7 447.4L615.0 448.9L615.4 450.4L615.7 451.9L616.0 453.3L616.3 454.7L616.6 456.0L617.0 457.4L617.3 458.7L617.6 460.0L617.9 461.2L618.2 462.5L618.6 463.7L618.9 464.9L619.2 466.1L619.5 467.2L619.8 468.3L620.1 469.4L620.5 470.5L620.8 471.5L621.1 472.6L621.4 473.6L621.7 474.6L622.1 475.6L622.4 476.5L622.7 477.5L623.0 478.4L623.3 479.3L623.7 480.1L624.0 481.0L624.3 481.9L624.6 482.7L624.9 483.5L625.2 484.3L625.6 485.1L625.9 485.8L626.2 486.6L626.5 487.3L626.8 488.1L627.2 488.8L627.5 489.5L627.8 490.1L628.1 490.8L628.4 491.5L628.8 492.1L629.1 492.7L629.4 493.3L629.7 493.9L630.0 494.5L630.4 495.1L630.7 495.7L631.0 496.2L631.3 496.8L631.6 497.3L631.9 497.8L632.3 498.3L632.6 498.9L632.9 499.3L633.2 499.8L633.5 500.3L633.9 500.8L634.2 501.2L634.5 501.7L634.8 502.1L635.1 502.5L635.5 503.0L635.8 503.4L636.1 503.8L636.4 504.2L636.7 504.6L637.0 504.9L637.4 505.3L637.7 505.7L638.0 506.0L638.3 506.4L638.6 506.7L639.0 507.1L639.3 507.4L639.6 507.7L639.9 508.0L640.2 508.3L640.5 508.7L640.9 509.0L641.2 509.2L641.5 509.5L641.8 509.8L642.1 510.1L642.5 510.4L642.8 510.6L643.1 510.9L643.4 511.1L643.7 511.4L644.1 511.6L644.4 511.9L644.7 512.1L645.0 512.3L645.3 512.6L645.6 512.8L646.0 513.0L646.3 513.2L646.6 513.4L646.9 513.6L647.2 513.8L647.6 514.0L647.9 514.2L648.2 514.4L648.5 514.6L648.8 514.8L649.2 515.0L649.5 515.1L649.8 515.3L650.1 515.5L650.4 515.6L650.8 515.8L651.1 516.0L651.4 516.1L651.7 516.3L652.0 516.4L652.3 516.6L652.7 516.7L653.0 516.8L653.3 517.0L653.6 517.1L653.9 517.2L654.3 517.4L654.6 517.5L654.9 517.6L655.2 517.7L655.5 517.9L655.9 518.0L656.2 518.1L656.5 518.2L656.8 518.3L657.1 518.4L657.4 518.5L657.8 518.6L658.1 518.7L658.4 518.8L658.7 518.9L659.0 519.0L659.4 519.1L659.7 519.2L660.0 519.3L660.3 519.4L660.6 519.5L661.0 519.6L661.3 519.6L661.6 519.7L661.9 519.8L662.2 519.9L662.5 520.0L662.9 520.0L663.2 520.1L663.5 520.2L663.8 520.3L664.1 520.3L664.5 520.4L664.8 520.5L665.1 520.5L665.4 520.6L665.7 520.7L666.0 520.7L666.4 520.8L666.7 520.8L667.0 520.9L667.3 520.9L667.6 521.0L668.0 521.1L668.3 521.1L668.6 521.2L668.9 521.2L669.2 521.3L669.6 521.3L669.9 521.4L670.2 521.4L670.5 521.5L670.8 521.5L671.1 521.6L671.5 521.6L671.8 521.6L672.1 521.7L672.4 521.7L672.7 521.8L673.1 521.8L673.4 521.8L673.7 521.9L674.0 521.9L674.3 522.0L674.7 522.0L675.0 522.0L675.3 522.1L675.6 522.1L675.9 522.1L676.2 522.2L676.6 522.2L676.9 522.2L677.2 522.3L677.5 522.3L677.8 522.3L678.2 522.3L678.5 522.4L678.8 522.4L679.1 522.4L679.4 522.4L679.8 522.5L680.1 522.5L680.4 522.5L680.7 522.6L681.0 522.6L681.4 522.6L681.7 522.6L682.0 522.6L682.3 522.7L682.6 522.7L682.9 522.7L683.3 522.7L683.6 522.8L683.9 522.8L684.2 522.8L684.5 522.8L684.9 522.8L685.2 522.8L685.5 522.9L685.8 522.9L686.1 522.9L686.5 522.9L686.8 522.9L687.1 523.0L687.4 523.0L687.7 523.0L688.0 523.0L688.4 523.0L688.7 523.0L689.0 523.0L689.3 523.1L689.6 523.1L690.0 523.1L690.3 523.1L690.6 523.1L690.9 523.1L691.2 523.1L691.5 523.2L691.9 523.2L692.2 523.2L692.5 523.2L692.8 523.2L693.1 523.2L693.5 523.2L693.8 523.2L694.1 523.2L694.4 523.3L694.7 523.3L695.1 523.3L695.4 523.3L695.7 523.3L696.0 523.3L696.3 523.3L696.6 523.3L697.0 523.3L697.3 523.3L697.6 523.3L697.9 523.4L698.2 523.4L698.6 523.4L698.9 523.4L699.2 523.4L699.5 523.4L699.8 523.4L700.2 523.4L700.5 523.4L700.8 523.4L701.1 523.4L701.4 523.4L701.8 523.4L702.1 523.4L702.4 523.5L702.7 523.5L703.0 523.5L703.3 523.5L703.7 523.5L704.0 523.5L704.3 523.5L704.6 523.5L704.9 523.5L705.3 523.5L705.6 523.5L705.9 523.5L706.2 523.5L706.5 523.5L706.9 523.5L707.2 523.5L707.5 523.5L707.8 523.5L708.1 523.5L708.4 523.6L708.8 523.6L709.1 523.6L709.4 523.6L709.7 523.6L710.0 523.6L710.4 523.6L710.7 523.6L711.0 523.6L711.3 523.6L711.6 523.6L712.0 523.6L712.3 523.6L712.6 523.6L712.9 523.6L713.2 523.6L713.5 523.6L713.9 523.6L714.2 523.6L714.5 523.6L714.8 523.6L715.1 523.6L715.5 523.6L715.8 523.6L716.1 523.6L716.4 523.6L716.7 523.6L717.0 523.6L717.4 523.6L717.7 523.6L718.0 523.6L718.3 523.7L718.6 523.7L719.0 523.7L719.3 523.7L719.6 523.7L719.9 523.7L720.2 523.7L720.6 523.7L720.9 523.7L721.2 523.7L721.5 523.7L721.8 523.7L722.1 523.7L722.5 523.7L722.8 523.7L723.1 523.7L723.4 523.7L723.7 523.7L724.1 523.7L724.4 523.7L724.7 523.7L725.0 523.7L725.3 523.7L725.7 523.7L726.0 523.7L726.3 523.7L726.6 523.7L726.9 523.7L727.2 523.7L727.6 523.7L727.9 523.7L728.2 523.7L728.5 523.7L728.8 523.7L729.2 523.7L729.5 523.7L729.8 523.7L730.1 523.7L730.4 523.7L730.8 523.7L731.1 523.7L731.4 523.7L731.7 523.7L732.0 523.7L732.4 523.7L732.7 523.7L733.0 523.7L733.3 523.7L733.6 523.7L733.9 523.7L734.3 523.7L734.6 523.7L734.9 523.7L735.2 523.7L735.5 523.7L735.9 523.7L736.2 523.7L736.5 523.7L736.8 523.7L737.1 523.7L737.5 523.7L737.8 523.7L738.1 523.7L738.4 523.7L738.7 523.7L739.0 523.7L739.4 523.7L739.7 523.7L740.0 523.7L740.3 523.7L740.6 523.7L741.0 523.7L741.3 523.7L741.6 523.7L741.9 523.7L742.2 523.7L742.5 523.7L742.9 523.7L743.2 523.7L743.5 523.7L743.8 523.7L744.1 523.7L744.5 523.7L744.8 523.7L745.1 523.7L745.4 523.7L745.7 523.7L746.1 523.7L746.4 523.7L746.7 523.7L747.0 523.7L747.3 523.7L747.6 523.7L748.0 523.7L748.3 523.7L748.6 523.7L748.9 523.7L749.2 523.7L749.6 523.8L749.9 523.8L750.2 523.8L750.5 523.8L750.8 523.8L751.2 523.8L751.5 523.8L751.8 523.8L752.1 523.8L752.4 523.8L752.8 523.8L753.1 523.8L753.4 523.8L753.7 523.8L754.0 523.8L754.3 523.8L754.7 523.8L755.0 523.8L755.3 523.8L755.6 523.8L755.9 523.8L756.3 523.8L756.6 523.8L756.9 523.8L757.2 523.8L757.5 523.8L757.9 523.8L758.2 523.8L758.5 523.8L758.8 523.8L759.1 523.8L759.4 523.8L759.8 523.8L760.1 523.8L760.4 523.8L760.7 523.8L761.0 523.8L761.4 523.8L761.7 523.8L762.0 523.8L762.3 523.8L762.6 523.8L763.0 523.8L763.3 523.8L763.6 523.8L763.9 523.8L764.2 523.8L764.5 523.8L764.9 523.8L765.2 523.8L765.5 523.8L765.8 523.8L766.1 523.8L766.5 523.8L766.8 523.8L767.1 523.8L767.4 523.8L767.7 523.8L768.0 523.8L768.4 523.8L768.7 523.8L769.0 523.8L769.3 523.8L769.6 523.8L770.0 523.8L770.3 523.8L770.6 523.8L770.9 523.8L771.2 523.8L771.6 523.8L771.9 523.8L772.2 523.8L772.5 523.8L772.8 523.8L773.1 523.8L773.5 523.8L773.8 523.8L774.1 523.8L774.4 523.8L774.7 523.8L775.1 523.8L775.4 523.8L775.7 523.8L776.0 523.8L776.3 523.8L776.7 523.8L777.0 523.8L777.3 523.8L777.6 523.8L777.9 523.8L778.2 523.8L778.6 523.8L778.9 523.8L779.2 523.8L779.5 523.8L779.8 523.8L780.2 523.8L780.5 523.8L780.8 523.8L781.1 523.8L781.4 523.8L781.8 523.8L782.1 523.8L782.4 523.8L782.7 523.8L783.0 523.8L783.4 523.8L783.7 523.8L784.0 523.8L784.3 523.8L784.6 523.8L784.9 523.8L785.3 523.8L785.6 523.8L785.9 523.8L786.2 523.8L786.5 523.8L786.9 523.8L787.2 523.8L787.5 523.8L787.8 523.8L788.1 523.8L788.5 523.8L788.8 523.8L789.1 523.8L789.4 523.8L789.7 523.8L790.0 523.8L790.4 523.8L790.7 523.8L791.0 523.8L791.3 523.8L791.6 523.8L792.0 523.8L792.3 523.8L792.6 523.8L792.9 523.8L793.2 523.8L793.5 523.8L793.9 523.8L794.2 523.8L794.5 523.8L794.8 523.8L795.1 523.8L795.5 523.8L795.8 523.8L796.1 523.8L796.4 523.8L796.7 523.8L797.1 523.8L797.4 523.8L797.7 523.8L798.0 523.8L798.3 523.8L798.6 523.8L799.0 523.8L799.3 523.8L799.6 523.8L799.9 523.8L800.2 523.8L800.6 523.8L800.9 523.8L801.2 523.8L801.5 523.8L801.8 523.8L802.2 523.8L802.5 523.8L802.8 523.8L803.1 523.8L803.4 523.8L803.8 523.8L804.1 523.8L804.4 523.8L804.7 523.8L805.0 523.8L805.3 523.8L805.7 523.8L806.0 523.8L806.3 523.8L806.6 523.8L806.9 523.8L807.3 523.8L807.6 523.8L807.9 523.8L808.2 523.8L808.5 523.8L808.9 523.8L809.2 523.8L809.5 523.8L809.8 523.8L810.1 523.8L810.4 523.8L810.8 523.8L811.1 523.8L811.4 523.8L811.7 523.8L812.0 523.8L812.4 523.8L812.7 523.8L813.0 523.8L813.3 523.8L813.6 523.8L814.0 523.8L814.3 523.8L814.6 523.8L814.9 523.8L815.2 523.8L815.5 523.8L815.9 523.8L816.2 523.8L816.5 523.8L816.8 523.8L817.1 523.8L817.5 523.8L817.8 523.8L818.1 523.8L818.4 523.8L818.7 523.8L819.0 523.8L819.4 523.8L819.7 523.8L820.0 523.8L820.3 523.8L820.6 523.8L821.0 523.8L821.3 523.8L821.6 523.8L821.9 523.8L822.2 523.8L822.6 523.8L822.9 523.8L823.2 523.8L823.5 523.8L823.8 523.8L824.1 523.8L824.5 523.8L824.8 523.8L825.1 523.8L825.4 523.8L825.7 523.8L826.1 523.8L826.4 523.8L826.7 523.8L827.0 523.8L827.3 523.8L827.7 523.8L828.0 523.8L828.3 523.8L828.6 523.8L828.9 523.8L829.2 523.8L829.6 523.8L829.9 523.8L830.2 523.8L830.5 523.8L830.8 523.8L831.2 523.8L831.5 523.8L831.8 523.8L832.1 523.8L832.4 523.8L832.8 523.8L833.1 523.8L833.4 523.8L833.7 523.8L834.0 523.8L834.4 523.8L834.7 523.8L835.0 523.8L835.3 523.8L835.6 523.8L835.9 523.8L836.3 523.8L836.6 523.8L836.9 523.8L837.2 523.8L837.5 523.8L837.9 523.8L838.2 523.8L838.5 523.8L838.8 523.8L839.1 523.8L839.5 523.8L839.8 523.8L840.1 523.8L840.4 523.8L840.7 523.8L841.0 523.8L841.4 523.8L841.7 523.8L842.0 523.8L842.3 523.8L842.6 523.8L843.0 523.8L843.3 523.8L843.6 523.8L843.9 523.8L844.2 523.8L844.5 523.8L844.9 523.8L845.2 523.8L845.5 523.8L845.8 523.8L846.1 523.8L846.5 523.8L846.8 523.8L847.1 523.8L847.4 523.8L847.7 523.8L848.1 523.8L848.4 523.8L848.7 523.8L849.0 523.8L849.3 523.8L849.6 523.8L850.0 523.8L850.3 523.8L850.6 523.8L850.9 523.8L851.2 523.8L851.6 523.8L851.9 523.8L852.2 523.8L852.5 523.8L852.8 523.8L853.2 523.8L853.5 523.8L853.8 523.8L854.1 523.8L854.4 523.8L854.8 523.8L855.1 523.8L855.4 523.8L855.7 523.8L856.0 523.8L856.3 523.8L856.7 523.8L857.0 523.8L857.3 523.8L857.6 523.8L857.9 523.8L858.3 523.8L858.6 523.8L858.9 523.8L859.2 523.8L859.5 523.8L859.8 523.8L860.2 523.8L860.5 523.8L860.8 523.8L861.1 523.8L861.4 523.8L861.8 523.8L862.1 523.8L862.4 523.8L862.7 523.8L863.0 523.8L863.4 523.8L863.7 523.8L864.0 523.8L864.3 523.8L864.6 523.8L865.0 523.8L865.3 523.8L865.6 523.8L865.9 523.8L866.2 523.8L866.5 523.8L866.9 523.8L867.2 523.8L867.5 523.8L867.8 523.8L868.1 523.8L868.5 523.8L868.8 523.8L869.1 523.8L869.4 523.8L869.7 523.8L870.0 523.8L870.4 523.8L870.7 523.8L871.0 523.8L871.3 523.8L871.6 523.8L872.0 523.8L872.3 523.8L872.6 523.8L872.9 523.8L873.2 523.8L873.6 523.8L873.9 523.8L874.2 523.8L874.5 523.8L874.8 523.8L875.1 523.8L875.5 523.8L875.8 523.8L876.1 523.8L876.4 523.8L876.7 523.8L877.1 523.8L877.4 523.8L877.7 523.8L878.0 523.8L878.3 523.8L878.7 523.8L879.0 523.8L879.3 523.8L879.6 523.8L879.9 523.8L880.2 523.8L880.6 523.8L880.9 523.8L881.2 523.8L881.5 523.8L881.8 523.8L882.2 523.8L882.5 523.8L882.8 523.8L883.1 523.8L883.4 523.8L883.8 523.8L884.1 523.8L884.4 523.8L884.7 523.8L885.0 523.8L885.3 523.8L885.7 523.8L886.0 523.8L886.3 523.8L886.6 523.8L886.9 523.8L887.3 523.8L887.6 523.8L887.9 523.8L888.2 523.8L888.5 523.8L888.9 523.8L889.2 523.8L889.5 523.8L889.8 523.8L890.1 523.8L890.5 523.8L890.8 523.8L891.1 523.8L891.4 523.8L891.7 523.8L892.0 523.8L892.4 523.8L892.7 523.8L893.0 523.8L893.3 523.8L893.6 523.8L894.0 523.8L894.3 523.8L894.6 523.8L894.9 523.8L895.2 523.8L895.5 523.8L895.9 523.8L896.2 523.8L896.5 523.8L896.8 523.8L897.1 523.8L897.5 523.8L897.8 523.8L898.1 523.8L898.4 523.8L898.7 523.8L899.1 523.8L899.4 523.8L899.7 523.8L900.0 523.8L900.3 523.8L900.6 523.8L901.0 523.8L901.3 523.8L901.6 523.8L901.9 523.8L902.2 523.8L902.6 523.8L902.9 523.8L903.2 523.8L903.5 523.8L903.8 523.8L904.2 523.8L904.5 523.8L904.8 523.8L905.1 523.8L905.4 523.8L905.8 523.8L906.1 523.8L906.4 523.8L906.7 523.8L907.0 523.8L907.3 523.8L907.7 523.8L908.0 523.8L908.3 523.8L908.6 523.8L908.9 523.8L909.3 523.8L909.6 523.8L909.9 523.8L910.2 523.8L910.5 523.8L910.8 523.8L911.2 523.8L911.5 523.8L911.8 523.8L912.1 523.8L912.4 523.8L912.8 523.8L913.1 523.8L913.4 523.8L913.7 523.8L914.0 523.8L914.4 523.8L914.7 523.8L915.0 523.8L915.3 523.8L915.6 523.8L916.0 523.8L916.3 523.8L916.6 523.8L916.9 523.8L917.2 523.8L917.5 523.8L917.9 523.8L918.2 523.8L918.5 523.8" fill="none" stroke="#00ff00" stroke-width="2.2" stroke-linejoin="round"/><text class="b" x="758.73" y="636.95" font-size="12.85" text-anchor="middle">Time</text><text class="b" transform="translate(569.70 478.68) rotate(-90)" font-size="12.85" text-anchor="middle">R</text><text class="cap" x="748.70" y="660.75" font-size="20.6" text-anchor="middle">(e)</text><rect x="805.10" y="361.80" width="105.40" height="31.00" fill="#fff" stroke="#222222" stroke-width="1"/><path d="M808.30 370.40h29.5" stroke="#ff0000" stroke-width="2"/><path d="M808.30 384.90h29.5" stroke="#00ff00" stroke-width="2"/><text class="b" x="840.30" y="374.80" font-size="10.5">Stochastic</text><text class="b" x="840.30" y="389.30" font-size="10.5">Deterministic</text></g></g></svg></body></html>
